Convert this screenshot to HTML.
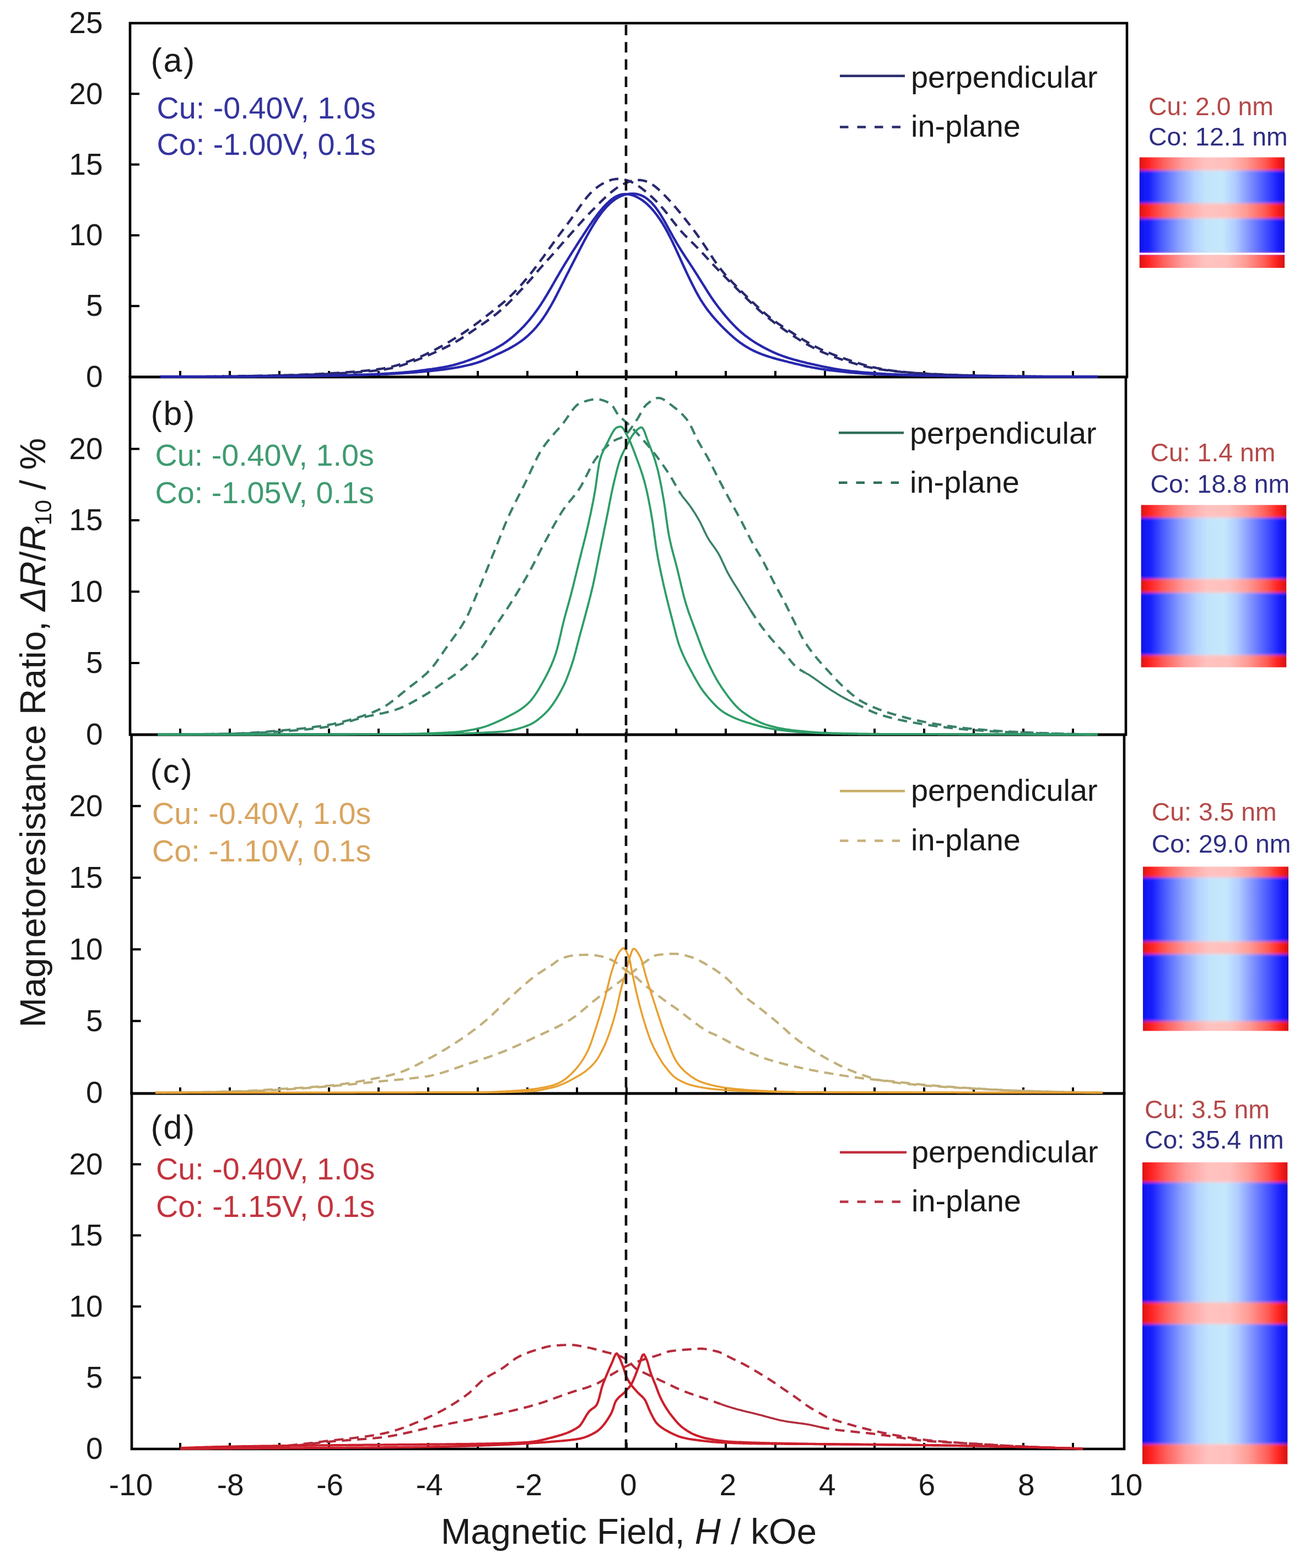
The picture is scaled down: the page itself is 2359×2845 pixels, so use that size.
<!DOCTYPE html><html><head><meta charset="utf-8"><title>MR curves</title><style>html,body{margin:0;padding:0;background:#fff;overflow:hidden}svg{display:block}</style></head><body>
<svg width="2359" height="2845" viewBox="0 0 2359 2845" font-family="Liberation Sans, Arial, Helvetica, sans-serif">
<defs>
<linearGradient id="gb" x1="0" x2="1" y1="0" y2="0"><stop offset="0" stop-color="#0e12e8"/><stop offset="0.07" stop-color="#1a22ff"/><stop offset="0.15" stop-color="#4a5cff"/><stop offset="0.27" stop-color="#8aa0ff"/><stop offset="0.38" stop-color="#b4d2ff"/><stop offset="0.46" stop-color="#c2e4fc"/><stop offset="0.57" stop-color="#c6e8fc"/><stop offset="0.66" stop-color="#b0ccff"/><stop offset="0.76" stop-color="#7e90ff"/><stop offset="0.87" stop-color="#4452ff"/><stop offset="0.95" stop-color="#1a20ff"/><stop offset="1" stop-color="#0e10d4"/></linearGradient>
<linearGradient id="gr" x1="0" x2="1" y1="0" y2="0"><stop offset="0" stop-color="#dc1414"/><stop offset="0.06" stop-color="#ff2222"/><stop offset="0.16" stop-color="#ff5e5a"/><stop offset="0.3" stop-color="#ff9e9c"/><stop offset="0.45" stop-color="#ffc2c0"/><stop offset="0.6" stop-color="#ffc0bc"/><stop offset="0.73" stop-color="#ff9c96"/><stop offset="0.86" stop-color="#ff5e56"/><stop offset="0.94" stop-color="#ff2420"/><stop offset="1" stop-color="#d41212"/></linearGradient>
<filter id="bl" x="-10%" y="-10%" width="120%" height="120%"><feGaussianBlur stdDeviation="0 2.6"/></filter>
</defs>
<rect width="2359" height="2845" fill="#fff"/>
<clipPath id="cla"><rect x="2067.5" y="285.5" width="263.8" height="200.6"/></clipPath>
<g clip-path="url(#cla)"><g filter="url(#bl)">
<rect x="2067.5" y="273.5" width="263.8" height="35.8" fill="url(#gr)"/>
<rect x="2067.5" y="309.3" width="263.8" height="59.6" fill="url(#gb)"/>
<rect x="2067.5" y="368.9" width="263.8" height="27.5" fill="url(#gr)"/>
<rect x="2067.5" y="396.4" width="263.8" height="64.1" fill="url(#gb)"/>
<rect x="2067.5" y="460.5" width="263.8" height="37.6" fill="url(#gr)"/>
</g></g>
<rect x="2067.5" y="458.6" width="263.8" height="3.7" fill="#fdfdfd"/>
<text x="2084" y="208.6" font-size="46.4" fill="#b54848">Cu: 2.0 nm</text>
<text x="2084" y="264.4" font-size="46.4" fill="#2e2e82">Co: 12.1 nm</text>
<clipPath id="clb"><rect x="2070.4" y="916.2" width="264.1" height="294.5"/></clipPath>
<g clip-path="url(#clb)"><g filter="url(#bl)">
<rect x="2070.4" y="904.2" width="264.1" height="35.1" fill="url(#gr)"/>
<rect x="2070.4" y="939.3" width="264.1" height="111.1" fill="url(#gb)"/>
<rect x="2070.4" y="1050.4" width="264.1" height="25.1" fill="url(#gr)"/>
<rect x="2070.4" y="1075.5" width="264.1" height="113.2" fill="url(#gb)"/>
<rect x="2070.4" y="1188.7" width="264.1" height="34.0" fill="url(#gr)"/>
</g></g>
<text x="2087.5" y="836.6" font-size="46.4" fill="#b54848">Cu: 1.4 nm</text>
<text x="2087.5" y="894.2" font-size="46.4" fill="#2e2e82">Co: 18.8 nm</text>
<clipPath id="clc"><rect x="2074" y="1572.4" width="264.0" height="298.0"/></clipPath>
<g clip-path="url(#clc)"><g filter="url(#bl)">
<rect x="2074" y="1560.4" width="264.0" height="31.7" fill="url(#gr)"/>
<rect x="2074" y="1592.1" width="264.0" height="116.2" fill="url(#gb)"/>
<rect x="2074" y="1708.3" width="264.0" height="23.0" fill="url(#gr)"/>
<rect x="2074" y="1731.3" width="264.0" height="121.6" fill="url(#gb)"/>
<rect x="2074" y="1852.9" width="264.0" height="29.5" fill="url(#gr)"/>
</g></g>
<text x="2089.8" y="1489.2" font-size="46.4" fill="#b54848">Cu: 3.5 nm</text>
<text x="2089.8" y="1547.2" font-size="46.4" fill="#2e2e82">Co: 29.0 nm</text>
<clipPath id="cld"><rect x="2073" y="2109.0" width="263.6" height="547.4"/></clipPath>
<g clip-path="url(#cld)"><g filter="url(#bl)">
<rect x="2073" y="2097.0" width="263.6" height="48.2" fill="url(#gr)"/>
<rect x="2073" y="2145.2" width="263.6" height="217.9" fill="url(#gb)"/>
<rect x="2073" y="2363.1" width="263.6" height="39.4" fill="url(#gr)"/>
<rect x="2073" y="2402.5" width="263.6" height="217.9" fill="url(#gb)"/>
<rect x="2073" y="2620.4" width="263.6" height="48.0" fill="url(#gr)"/>
</g></g>
<text x="2077" y="2028.9" font-size="46.4" fill="#b54848">Cu: 3.5 nm</text>
<text x="2077" y="2083.9" font-size="46.4" fill="#2e2e82">Co: 35.4 nm</text>
<rect x="236" y="42" width="1809" height="642" fill="none" stroke="#000" stroke-width="4.6"/>
<path d="M236 555.2H253M236 426.9H253M236 298.6H253M236 170.3H253M327.0 684V673M417.0 684V673M507.0 684V673M597.0 684V673M687.0 684V673M777.0 684V673M867.0 684V673M957.0 684V673M1047.0 684V673M1137.0 684V673M1227.0 684V673M1317.0 684V673M1407.0 684V673M1497.0 684V673M1587.0 684V673M1677.0 684V673M1767.0 684V673M1857.0 684V673M1947.0 684V673" stroke="#000" stroke-width="4" fill="none"/>
<text x="186.5" y="60.2" font-size="55" text-anchor="end" fill="#1a1a1a">25</text>
<text x="186.5" y="188.5" font-size="55" text-anchor="end" fill="#1a1a1a">20</text>
<text x="186.5" y="316.8" font-size="55" text-anchor="end" fill="#1a1a1a">15</text>
<text x="186.5" y="445.1" font-size="55" text-anchor="end" fill="#1a1a1a">10</text>
<text x="186.5" y="573.4" font-size="55" text-anchor="end" fill="#1a1a1a">5</text>
<text x="186.5" y="701.7" font-size="55" text-anchor="end" fill="#1a1a1a">0</text>
<rect x="236" y="684" width="1807" height="649" fill="none" stroke="#000" stroke-width="4.6"/>
<path d="M236 1203.0H253M236 1073.5H253M236 944.0H253M236 814.5H253M327.0 1333V1322M417.0 1333V1322M507.0 1333V1322M597.0 1333V1322M687.0 1333V1322M777.0 1333V1322M867.0 1333V1322M957.0 1333V1322M1047.0 1333V1322M1137.0 1333V1322M1227.0 1333V1322M1317.0 1333V1322M1407.0 1333V1322M1497.0 1333V1322M1587.0 1333V1322M1677.0 1333V1322M1767.0 1333V1322M1857.0 1333V1322M1947.0 1333V1322" stroke="#000" stroke-width="4" fill="none"/>
<text x="186.5" y="832.7" font-size="55" text-anchor="end" fill="#1a1a1a">20</text>
<text x="186.5" y="962.2" font-size="55" text-anchor="end" fill="#1a1a1a">15</text>
<text x="186.5" y="1091.7" font-size="55" text-anchor="end" fill="#1a1a1a">10</text>
<text x="186.5" y="1221.2" font-size="55" text-anchor="end" fill="#1a1a1a">5</text>
<text x="186.5" y="1350.7" font-size="55" text-anchor="end" fill="#1a1a1a">0</text>
<rect x="238.6" y="1333" width="1801.4" height="651" fill="none" stroke="#000" stroke-width="4.6"/>
<path d="M238.6 1852.5H255.6M238.6 1722.5H255.6M238.6 1592.5H255.6M238.6 1462.5H255.6M327.0 1984V1973M417.0 1984V1973M507.0 1984V1973M597.0 1984V1973M687.0 1984V1973M777.0 1984V1973M867.0 1984V1973M957.0 1984V1973M1047.0 1984V1973M1137.0 1984V1973M1227.0 1984V1973M1317.0 1984V1973M1407.0 1984V1973M1497.0 1984V1973M1587.0 1984V1973M1677.0 1984V1973M1767.0 1984V1973M1857.0 1984V1973M1947.0 1984V1973" stroke="#000" stroke-width="4" fill="none"/>
<text x="186.5" y="1480.7" font-size="55" text-anchor="end" fill="#1a1a1a">20</text>
<text x="186.5" y="1610.7" font-size="55" text-anchor="end" fill="#1a1a1a">15</text>
<text x="186.5" y="1740.7" font-size="55" text-anchor="end" fill="#1a1a1a">10</text>
<text x="186.5" y="1870.7" font-size="55" text-anchor="end" fill="#1a1a1a">5</text>
<text x="186.5" y="2000.7" font-size="55" text-anchor="end" fill="#1a1a1a">0</text>
<rect x="239" y="1984" width="1801" height="645" fill="none" stroke="#000" stroke-width="4.6"/>
<path d="M239 2499.5H256M239 2370.5H256M239 2241.5H256M239 2112.5H256M327.0 2629V2618M417.0 2629V2618M507.0 2629V2618M597.0 2629V2618M687.0 2629V2618M777.0 2629V2618M867.0 2629V2618M957.0 2629V2618M1047.0 2629V2618M1137.0 2629V2618M1227.0 2629V2618M1317.0 2629V2618M1407.0 2629V2618M1497.0 2629V2618M1587.0 2629V2618M1677.0 2629V2618M1767.0 2629V2618M1857.0 2629V2618M1947.0 2629V2618" stroke="#000" stroke-width="4" fill="none"/>
<text x="186.5" y="2130.7" font-size="55" text-anchor="end" fill="#1a1a1a">20</text>
<text x="186.5" y="2259.7" font-size="55" text-anchor="end" fill="#1a1a1a">15</text>
<text x="186.5" y="2388.7" font-size="55" text-anchor="end" fill="#1a1a1a">10</text>
<text x="186.5" y="2517.7" font-size="55" text-anchor="end" fill="#1a1a1a">5</text>
<text x="186.5" y="2646.7" font-size="55" text-anchor="end" fill="#1a1a1a">0</text>
<path d="M291.0 683.5L293.2 683.5L295.5 683.5L297.8 683.5L300.0 683.5L302.3 683.5L304.5 683.5L306.8 683.5L309.0 683.5L311.3 683.5L313.5 683.5L315.8 683.4L318.0 683.4L320.3 683.4L322.5 683.4L324.8 683.4L327.0 683.4L329.3 683.4L331.5 683.4L333.8 683.4L336.0 683.4L338.3 683.3L340.5 683.3L342.8 683.3L345.0 683.3L347.3 683.3L349.5 683.3L351.8 683.2L354.0 683.2L356.3 683.2L358.5 683.2L360.8 683.2L363.0 683.2L365.3 683.1L367.5 683.1L369.8 683.1L372.0 683.1L374.3 683.0L376.5 683.0L378.8 683.0L381.0 683.0L383.3 683.0L385.5 682.9L387.8 682.9L390.0 682.9L392.3 682.9L394.5 682.8L396.8 682.8L399.0 682.8L401.3 682.8L403.5 682.7L405.8 682.7L408.0 682.7L410.3 682.6L412.5 682.6L414.8 682.6L417.0 682.6L419.3 682.5L421.5 682.5L423.8 682.5L426.0 682.4L428.3 682.4L430.5 682.4L432.8 682.4L435.0 682.3L437.3 682.3L439.5 682.3L441.8 682.2L444.0 682.2L446.3 682.2L448.5 682.1L450.8 682.1L453.0 682.1L455.3 682.1L457.5 682.0L459.8 682.0L462.0 681.9L464.3 681.9L466.5 681.9L468.8 681.8L471.0 681.8L473.3 681.8L475.5 681.7L477.8 681.7L480.0 681.6L482.3 681.6L484.5 681.6L486.8 681.5L489.0 681.5L491.3 681.4L493.5 681.4L495.8 681.3L498.0 681.3L500.3 681.2L502.5 681.1L504.8 681.1L507.0 681.0L509.3 681.0L511.5 680.9L513.8 680.8L516.0 680.8L518.3 680.7L520.5 680.7L522.8 680.6L525.0 680.5L527.3 680.5L529.5 680.4L531.8 680.3L534.0 680.2L536.3 680.2L538.5 680.1L540.8 680.0L543.0 679.9L545.3 679.9L547.5 679.8L549.8 679.7L552.0 679.6L554.3 679.5L556.5 679.5L558.8 679.4L561.0 679.3L563.3 679.2L565.5 679.1L567.8 679.0L570.0 678.9L572.3 678.8L574.5 678.7L576.8 678.6L579.0 678.5L581.3 678.4L583.5 678.3L585.8 678.1L588.0 678.0L590.3 677.9L592.5 677.8L594.8 677.7L597.0 677.5L599.3 677.4L601.5 677.3L603.8 677.1L606.0 677.0L608.3 676.9L610.5 676.7L612.8 676.6L615.0 676.4L617.3 676.3L619.5 676.1L621.8 676.0L624.0 675.8L626.3 675.7L628.5 675.5L630.8 675.3L633.0 675.2L635.3 675.0L637.5 674.8L639.8 674.7L642.0 674.5L644.3 674.3L646.5 674.1L648.8 673.9L651.0 673.7L653.3 673.5L655.5 673.3L657.8 673.1L660.0 672.9L662.3 672.7L664.5 672.5L666.8 672.3L669.0 672.0L671.3 671.8L673.5 671.5L675.8 671.3L678.0 671.0L680.3 670.7L682.5 670.4L684.8 670.1L687.0 669.8L689.3 669.5L691.5 669.2L693.8 668.8L696.0 668.4L698.3 668.0L700.5 667.6L702.8 667.2L705.0 666.7L707.3 666.2L709.5 665.7L711.8 665.1L714.0 664.5L716.3 663.9L718.5 663.3L720.8 662.7L723.0 662.0L725.3 661.3L727.5 660.6L729.8 659.8L732.0 659.1L734.3 658.3L736.5 657.5L738.8 656.7L741.0 655.9L743.3 655.1L745.5 654.2L747.8 653.4L750.0 652.5L752.3 651.6L754.5 650.7L756.8 649.8L759.0 648.9L761.3 647.9L763.5 646.9L765.8 645.9L768.0 644.9L770.3 643.9L772.5 642.9L774.8 641.8L777.0 640.7L779.3 639.6L781.5 638.5L783.8 637.4L786.0 636.2L788.3 635.1L790.5 633.9L792.8 632.7L795.0 631.5L797.3 630.3L799.5 629.1L801.8 627.9L804.0 626.6L806.3 625.3L808.5 624.1L810.8 622.8L813.0 621.4L815.3 620.1L817.5 618.8L819.8 617.4L822.0 616.0L824.3 614.6L826.5 613.2L828.8 611.8L831.0 610.4L833.3 609.0L835.5 607.5L837.8 606.1L840.0 604.6L842.3 603.1L844.5 601.6L846.8 600.1L849.0 598.5L851.3 597.0L853.5 595.4L855.8 593.7L858.0 592.1L860.3 590.5L862.5 588.8L864.8 587.1L867.0 585.4L869.3 583.7L871.5 582.0L873.8 580.2L876.0 578.5L878.3 576.8L880.5 575.0L882.8 573.3L885.0 571.6L887.3 569.8L889.5 568.1L891.8 566.3L894.0 564.6L896.3 562.8L898.5 561.0L900.8 559.2L903.0 557.4L905.3 555.6L907.5 553.8L909.8 551.9L912.0 550.0L914.3 548.1L916.5 546.1L918.8 544.1L921.0 542.1L923.3 540.0L925.5 537.9L927.8 535.7L930.0 533.5L932.3 531.3L934.5 529.0L936.8 526.7L939.0 524.3L941.3 521.9L943.5 519.4L945.8 516.9L948.0 514.3L950.3 511.7L952.5 509.0L954.8 506.4L957.0 503.7L959.3 500.9L961.5 498.1L963.8 495.3L966.0 492.5L968.3 489.6L970.5 486.7L972.8 483.8L975.0 480.9L977.3 477.9L979.5 474.9L981.8 471.8L984.0 468.8L986.3 465.7L988.5 462.6L990.8 459.5L993.0 456.3L995.3 453.2L997.5 450.0L999.8 446.9L1002.0 443.7L1004.3 440.6L1006.5 437.5L1008.8 434.4L1011.0 431.4L1013.3 428.3L1015.5 425.3L1017.8 422.3L1020.0 419.3L1022.3 416.3L1024.5 413.3L1026.8 410.3L1029.0 407.3L1031.3 404.3L1033.5 401.2L1035.8 398.2L1038.0 395.1L1040.3 391.9L1042.5 388.8L1044.8 385.6L1047.0 382.4L1049.3 379.2L1051.5 375.9L1053.8 372.8L1056.0 369.6L1058.3 366.5L1060.5 363.5L1062.8 360.6L1065.0 357.8L1067.3 355.1L1069.5 352.6L1071.8 350.2L1074.0 347.9L1076.3 345.8L1078.5 343.8L1080.8 341.9L1083.0 340.2L1085.3 338.5L1087.5 337.0L1089.8 335.5L1092.0 334.1L1094.3 332.8L1096.5 331.6L1098.8 330.4L1101.0 329.4L1103.3 328.4L1105.5 327.6L1107.8 326.8L1110.0 326.2L1112.3 325.7L1114.5 325.3L1116.8 324.9L1119.0 324.7L1121.3 324.6L1123.5 324.7L1125.8 324.8L1128.0 325.0L1130.3 325.3L1132.5 325.7L1134.8 326.3L1137.0 326.9L1139.3 327.6L1141.5 328.4L1143.8 329.3L1146.0 330.3L1148.3 331.4L1150.5 332.6L1152.8 333.9L1155.0 335.3L1157.3 336.7L1159.5 338.2L1161.8 339.8L1164.0 341.5L1166.3 343.2L1168.5 345.0L1170.8 346.8L1173.0 348.7L1175.3 350.6L1177.5 352.6L1179.8 354.6L1182.0 356.6L1184.3 358.7L1186.5 360.8L1188.8 363.0L1191.0 365.3L1193.3 367.6L1195.5 369.9L1197.8 372.4L1200.0 374.9L1202.3 377.5L1204.5 380.2L1206.8 382.9L1209.0 385.7L1211.3 388.5L1213.5 391.4L1215.8 394.3L1218.0 397.2L1220.3 400.1L1222.5 403.0L1224.8 405.8L1227.0 408.7L1229.3 411.4L1231.5 414.2L1233.8 416.8L1236.0 419.4L1238.3 421.9L1240.5 424.4L1242.8 426.8L1245.0 429.1L1247.3 431.4L1249.5 433.6L1251.8 435.9L1254.0 438.1L1256.3 440.3L1258.5 442.5L1260.8 444.8L1263.0 447.0L1265.3 449.3L1267.5 451.6L1269.8 454.0L1272.0 456.4L1274.3 458.7L1276.5 461.1L1278.8 463.6L1281.0 466.0L1283.3 468.4L1285.5 470.8L1287.8 473.3L1290.0 475.7L1292.3 478.1L1294.5 480.5L1296.8 482.9L1299.0 485.3L1301.3 487.6L1303.5 490.0L1305.8 492.3L1308.0 494.6L1310.3 496.9L1312.5 499.2L1314.8 501.5L1317.0 503.7L1319.3 506.0L1321.5 508.3L1323.8 510.5L1326.0 512.8L1328.3 515.0L1330.5 517.3L1332.8 519.5L1335.0 521.8L1337.3 524.1L1339.5 526.3L1341.8 528.6L1344.0 530.8L1346.3 533.0L1348.5 535.3L1350.8 537.5L1353.0 539.7L1355.3 541.9L1357.5 544.1L1359.8 546.3L1362.0 548.4L1364.3 550.6L1366.5 552.7L1368.8 554.8L1371.0 556.9L1373.3 559.0L1375.5 561.0L1377.8 563.0L1380.0 565.0L1382.3 566.9L1384.5 568.9L1386.8 570.8L1389.0 572.6L1391.3 574.5L1393.5 576.3L1395.8 578.1L1398.0 579.8L1400.3 581.6L1402.5 583.3L1404.8 585.0L1407.0 586.7L1409.3 588.3L1411.5 590.0L1413.8 591.6L1416.0 593.3L1418.3 594.9L1420.5 596.5L1422.8 598.1L1425.0 599.6L1427.3 601.2L1429.5 602.7L1431.8 604.3L1434.0 605.8L1436.3 607.3L1438.5 608.8L1440.8 610.2L1443.0 611.7L1445.3 613.1L1447.5 614.5L1449.8 616.0L1452.0 617.3L1454.3 618.7L1456.5 620.0L1458.8 621.4L1461.0 622.7L1463.3 624.0L1465.5 625.2L1467.8 626.5L1470.0 627.7L1472.3 628.9L1474.5 630.1L1476.8 631.3L1479.0 632.4L1481.3 633.6L1483.5 634.7L1485.8 635.8L1488.0 636.8L1490.3 637.9L1492.5 638.9L1494.8 639.9L1497.0 640.8L1499.3 641.8L1501.5 642.7L1503.8 643.6L1506.0 644.5L1508.3 645.4L1510.5 646.3L1512.8 647.1L1515.0 647.9L1517.3 648.7L1519.5 649.5L1521.8 650.3L1524.0 651.1L1526.3 651.8L1528.5 652.6L1530.8 653.3L1533.0 654.1L1535.3 654.8L1537.5 655.5L1539.8 656.2L1542.0 656.9L1544.3 657.6L1546.5 658.3L1548.8 659.0L1551.0 659.7L1553.3 660.3L1555.5 661.0L1557.8 661.6L1560.0 662.2L1562.3 662.8L1564.5 663.4L1566.8 664.0L1569.0 664.5L1571.3 665.1L1573.5 665.6L1575.8 666.1L1578.0 666.6L1580.3 667.0L1582.5 667.5L1584.8 667.9L1587.0 668.3L1589.3 668.7L1591.5 669.1L1593.8 669.5L1596.0 669.9L1598.3 670.2L1600.5 670.6L1602.8 670.9L1605.0 671.2L1607.3 671.5L1609.5 671.9L1611.8 672.1L1614.0 672.4L1616.3 672.7L1618.5 673.0L1620.8 673.2L1623.0 673.5L1625.3 673.7L1627.5 674.0L1629.8 674.2L1632.0 674.4L1634.3 674.6L1636.5 674.9L1638.8 675.1L1641.0 675.3L1643.3 675.4L1645.5 675.6L1647.8 675.8L1650.0 676.0L1652.3 676.2L1654.5 676.4L1656.8 676.5L1659.0 676.7L1661.3 676.9L1663.5 677.0L1665.8 677.2L1668.0 677.3L1670.3 677.5L1672.5 677.6L1674.8 677.8L1677.0 677.9L1679.3 678.1L1681.5 678.2L1683.8 678.3L1686.0 678.5L1688.3 678.6L1690.5 678.7L1692.8 678.9L1695.0 679.0L1697.3 679.1L1699.5 679.2L1701.8 679.3L1704.0 679.4L1706.3 679.5L1708.5 679.6L1710.8 679.7L1713.0 679.8L1715.3 679.9L1717.5 680.0L1719.8 680.1L1722.0 680.1L1724.3 680.2L1726.5 680.3L1728.8 680.4L1731.0 680.4L1733.3 680.5L1735.5 680.6L1737.8 680.6L1740.0 680.7L1742.3 680.8L1744.5 680.8L1746.8 680.9L1749.0 681.0L1751.3 681.0L1753.5 681.1L1755.8 681.1L1758.0 681.2L1760.3 681.3L1762.5 681.3L1764.8 681.4L1767.0 681.4L1769.3 681.5L1771.5 681.5L1773.8 681.6L1776.0 681.6L1778.3 681.7L1780.5 681.7L1782.8 681.8L1785.0 681.8L1787.3 681.8L1789.5 681.9L1791.8 681.9L1794.0 681.9L1796.3 682.0L1798.5 682.0L1800.8 682.1L1803.0 682.1L1805.3 682.1L1807.5 682.1L1809.8 682.2L1812.0 682.2L1814.3 682.2L1816.5 682.3L1818.8 682.3L1821.0 682.3L1823.3 682.3L1825.5 682.4L1827.8 682.4L1830.0 682.4L1832.3 682.4L1834.5 682.5L1836.8 682.5L1839.0 682.5L1841.3 682.5L1843.5 682.6L1845.8 682.6L1848.0 682.6L1850.3 682.6L1852.5 682.7L1854.8 682.7L1857.0 682.7L1859.3 682.7L1861.5 682.8L1863.8 682.8L1866.0 682.8L1868.3 682.8L1870.5 682.8L1872.8 682.9L1875.0 682.9L1877.3 682.9L1879.5 682.9L1881.8 682.9L1884.0 683.0L1886.3 683.0L1888.5 683.0L1890.8 683.0L1893.0 683.0L1895.3 683.1L1897.5 683.1L1899.8 683.1L1902.0 683.1L1904.3 683.1L1906.5 683.1L1908.8 683.2L1911.0 683.2L1913.3 683.2L1915.5 683.2L1917.8 683.2L1920.0 683.2L1922.3 683.3L1924.5 683.3L1926.8 683.3L1929.0 683.3L1931.3 683.3L1933.5 683.3L1935.8 683.3L1938.0 683.3L1940.3 683.4L1942.5 683.4L1944.8 683.4L1947.0 683.4L1949.3 683.4L1951.5 683.4L1953.8 683.4L1956.0 683.4L1958.3 683.4L1960.5 683.4L1962.8 683.4L1965.0 683.5L1967.3 683.5L1969.5 683.5L1971.8 683.5L1974.0 683.5L1976.3 683.5L1978.5 683.5L1980.8 683.5L1983.0 683.5L1985.3 683.5L1987.5 683.5L1989.8 683.5L1992.0 683.5" fill="none" stroke="#29296f" stroke-width="4.4" stroke-dasharray="17 11" stroke-dashoffset="0" stroke-linejoin="round"/>
<path d="M291.0 683.5L293.2 683.5L295.5 683.5L297.8 683.5L300.0 683.5L302.3 683.5L304.5 683.5L306.8 683.5L309.0 683.5L311.3 683.5L313.5 683.5L315.8 683.5L318.0 683.4L320.3 683.4L322.5 683.4L324.8 683.4L327.0 683.4L329.3 683.4L331.5 683.4L333.8 683.4L336.0 683.4L338.3 683.4L340.5 683.4L342.8 683.3L345.0 683.3L347.3 683.3L349.5 683.3L351.8 683.3L354.0 683.3L356.3 683.3L358.5 683.2L360.8 683.2L363.0 683.2L365.3 683.2L367.5 683.2L369.8 683.2L372.0 683.1L374.3 683.1L376.5 683.1L378.8 683.1L381.0 683.1L383.3 683.1L385.5 683.0L387.8 683.0L390.0 683.0L392.3 683.0L394.5 682.9L396.8 682.9L399.0 682.9L401.3 682.9L403.5 682.9L405.8 682.8L408.0 682.8L410.3 682.8L412.5 682.8L414.8 682.7L417.0 682.7L419.3 682.7L421.5 682.7L423.8 682.7L426.0 682.6L428.3 682.6L430.5 682.6L432.8 682.6L435.0 682.5L437.3 682.5L439.5 682.5L441.8 682.5L444.0 682.4L446.3 682.4L448.5 682.4L450.8 682.3L453.0 682.3L455.3 682.3L457.5 682.3L459.8 682.2L462.0 682.2L464.3 682.2L466.5 682.1L468.8 682.1L471.0 682.1L473.3 682.0L475.5 682.0L477.8 682.0L480.0 681.9L482.3 681.9L484.5 681.9L486.8 681.8L489.0 681.8L491.3 681.7L493.5 681.7L495.8 681.6L498.0 681.6L500.3 681.5L502.5 681.5L504.8 681.4L507.0 681.4L509.3 681.3L511.5 681.3L513.8 681.2L516.0 681.2L518.3 681.1L520.5 681.1L522.8 681.0L525.0 680.9L527.3 680.9L529.5 680.8L531.8 680.8L534.0 680.7L536.3 680.6L538.5 680.6L540.8 680.5L543.0 680.4L545.3 680.4L547.5 680.3L549.8 680.2L552.0 680.1L554.3 680.1L556.5 680.0L558.8 679.9L561.0 679.8L563.3 679.8L565.5 679.7L567.8 679.6L570.0 679.5L572.3 679.4L574.5 679.3L576.8 679.3L579.0 679.2L581.3 679.1L583.5 679.0L585.8 678.9L588.0 678.8L590.3 678.7L592.5 678.6L594.8 678.5L597.0 678.4L599.3 678.3L601.5 678.1L603.8 678.0L606.0 677.9L608.3 677.8L610.5 677.7L612.8 677.6L615.0 677.4L617.3 677.3L619.5 677.2L621.8 677.0L624.0 676.9L626.3 676.8L628.5 676.6L630.8 676.5L633.0 676.4L635.3 676.2L637.5 676.1L639.8 675.9L642.0 675.8L644.3 675.6L646.5 675.5L648.8 675.3L651.0 675.1L653.3 675.0L655.5 674.8L657.8 674.6L660.0 674.4L662.3 674.2L664.5 674.0L666.8 673.8L669.0 673.6L671.3 673.4L673.5 673.2L675.8 673.0L678.0 672.7L680.3 672.5L682.5 672.2L684.8 672.0L687.0 671.7L689.3 671.4L691.5 671.1L693.8 670.8L696.0 670.5L698.3 670.2L700.5 669.8L702.8 669.4L705.0 669.0L707.3 668.6L709.5 668.1L711.8 667.6L714.0 667.1L716.3 666.6L718.5 666.0L720.8 665.4L723.0 664.7L725.3 664.1L727.5 663.4L729.8 662.7L732.0 661.9L734.3 661.2L736.5 660.4L738.8 659.6L741.0 658.9L743.3 658.0L745.5 657.2L747.8 656.4L750.0 655.6L752.3 654.7L754.5 653.9L756.8 653.0L759.0 652.2L761.3 651.3L763.5 650.4L765.8 649.5L768.0 648.6L770.3 647.6L772.5 646.7L774.8 645.7L777.0 644.8L779.3 643.8L781.5 642.8L783.8 641.8L786.0 640.8L788.3 639.8L790.5 638.8L792.8 637.8L795.0 636.7L797.3 635.7L799.5 634.6L801.8 633.6L804.0 632.5L806.3 631.4L808.5 630.3L810.8 629.2L813.0 628.0L815.3 626.9L817.5 625.7L819.8 624.4L822.0 623.2L824.3 621.9L826.5 620.6L828.8 619.2L831.0 617.9L833.3 616.5L835.5 615.1L837.8 613.6L840.0 612.1L842.3 610.7L844.5 609.2L846.8 607.7L849.0 606.2L851.3 604.7L853.5 603.1L855.8 601.6L858.0 600.1L860.3 598.5L862.5 597.0L864.8 595.5L867.0 593.9L869.3 592.4L871.5 590.8L873.8 589.3L876.0 587.7L878.3 586.2L880.5 584.6L882.8 583.0L885.0 581.4L887.3 579.8L889.5 578.2L891.8 576.5L894.0 574.8L896.3 573.1L898.5 571.3L900.8 569.5L903.0 567.7L905.3 565.8L907.5 563.9L909.8 562.0L912.0 560.0L914.3 557.9L916.5 555.9L918.8 553.7L921.0 551.6L923.3 549.3L925.5 547.1L927.8 544.8L930.0 542.5L932.3 540.2L934.5 537.8L936.8 535.4L939.0 533.0L941.3 530.6L943.5 528.2L945.8 525.8L948.0 523.4L950.3 521.0L952.5 518.5L954.8 516.1L957.0 513.6L959.3 511.1L961.5 508.5L963.8 506.0L966.0 503.4L968.3 500.8L970.5 498.1L972.8 495.5L975.0 492.9L977.3 490.3L979.5 487.7L981.8 485.1L984.0 482.6L986.3 480.1L988.5 477.6L990.8 475.1L993.0 472.6L995.3 470.1L997.5 467.6L999.8 465.1L1002.0 462.6L1004.3 460.1L1006.5 457.5L1008.8 455.0L1011.0 452.4L1013.3 449.8L1015.5 447.2L1017.8 444.7L1020.0 442.1L1022.3 439.6L1024.5 437.0L1026.8 434.5L1029.0 431.9L1031.3 429.4L1033.5 426.8L1035.8 424.3L1038.0 421.7L1040.3 419.2L1042.5 416.6L1044.8 414.1L1047.0 411.5L1049.3 409.0L1051.5 406.5L1053.8 404.0L1056.0 401.5L1058.3 399.0L1060.5 396.6L1062.8 394.2L1065.0 391.8L1067.3 389.4L1069.5 387.1L1071.8 384.8L1074.0 382.5L1076.3 380.2L1078.5 377.9L1080.8 375.6L1083.0 373.3L1085.3 371.0L1087.5 368.8L1089.8 366.5L1092.0 364.3L1094.3 362.1L1096.5 360.0L1098.8 357.8L1101.0 355.8L1103.3 353.7L1105.5 351.8L1107.8 349.8L1110.0 348.0L1112.3 346.2L1114.5 344.5L1116.8 342.8L1119.0 341.2L1121.3 339.7L1123.5 338.3L1125.8 336.9L1128.0 335.7L1130.3 334.5L1132.5 333.4L1134.8 332.3L1137.0 331.4L1139.3 330.5L1141.5 329.7L1143.8 329.0L1146.0 328.4L1148.3 327.9L1150.5 327.5L1152.8 327.1L1155.0 326.9L1157.3 326.8L1159.5 326.7L1161.8 326.8L1164.0 327.1L1166.3 327.4L1168.5 327.9L1170.8 328.5L1173.0 329.3L1175.3 330.2L1177.5 331.3L1179.8 332.5L1182.0 333.8L1184.3 335.2L1186.5 336.8L1188.8 338.5L1191.0 340.3L1193.3 342.2L1195.5 344.2L1197.8 346.3L1200.0 348.4L1202.3 350.6L1204.5 352.9L1206.8 355.2L1209.0 357.5L1211.3 359.9L1213.5 362.3L1215.8 364.8L1218.0 367.3L1220.3 369.8L1222.5 372.4L1224.8 375.0L1227.0 377.6L1229.3 380.3L1231.5 383.0L1233.8 385.7L1236.0 388.5L1238.3 391.2L1240.5 394.0L1242.8 396.8L1245.0 399.7L1247.3 402.5L1249.5 405.4L1251.8 408.2L1254.0 411.2L1256.3 414.1L1258.5 417.1L1260.8 420.1L1263.0 423.1L1265.3 426.2L1267.5 429.4L1269.8 432.6L1272.0 435.8L1274.3 439.1L1276.5 442.5L1278.8 445.9L1281.0 449.3L1283.3 452.8L1285.5 456.2L1287.8 459.7L1290.0 463.1L1292.3 466.5L1294.5 469.9L1296.8 473.2L1299.0 476.4L1301.3 479.6L1303.5 482.6L1305.8 485.6L1308.0 488.5L1310.3 491.3L1312.5 494.1L1314.8 496.7L1317.0 499.3L1319.3 501.9L1321.5 504.3L1323.8 506.7L1326.0 509.1L1328.3 511.5L1330.5 513.8L1332.8 516.1L1335.0 518.3L1337.3 520.6L1339.5 522.8L1341.8 525.1L1344.0 527.3L1346.3 529.6L1348.5 531.8L1350.8 534.0L1353.0 536.2L1355.3 538.4L1357.5 540.6L1359.8 542.7L1362.0 544.9L1364.3 547.0L1366.5 549.1L1368.8 551.2L1371.0 553.3L1373.3 555.4L1375.5 557.4L1377.8 559.5L1380.0 561.5L1382.3 563.5L1384.5 565.5L1386.8 567.4L1389.0 569.4L1391.3 571.3L1393.5 573.2L1395.8 575.0L1398.0 576.8L1400.3 578.6L1402.5 580.3L1404.8 582.0L1407.0 583.6L1409.3 585.2L1411.5 586.8L1413.8 588.3L1416.0 589.8L1418.3 591.3L1420.5 592.8L1422.8 594.2L1425.0 595.7L1427.3 597.1L1429.5 598.6L1431.8 600.0L1434.0 601.5L1436.3 602.9L1438.5 604.4L1440.8 605.9L1443.0 607.3L1445.3 608.8L1447.5 610.2L1449.8 611.6L1452.0 613.1L1454.3 614.5L1456.5 615.8L1458.8 617.2L1461.0 618.6L1463.3 619.9L1465.5 621.2L1467.8 622.5L1470.0 623.8L1472.3 625.0L1474.5 626.3L1476.8 627.5L1479.0 628.6L1481.3 629.8L1483.5 630.9L1485.8 632.0L1488.0 633.1L1490.3 634.2L1492.5 635.2L1494.8 636.2L1497.0 637.2L1499.3 638.1L1501.5 639.1L1503.8 640.0L1506.0 640.9L1508.3 641.8L1510.5 642.7L1512.8 643.6L1515.0 644.4L1517.3 645.3L1519.5 646.1L1521.8 646.9L1524.0 647.7L1526.3 648.5L1528.5 649.3L1530.8 650.1L1533.0 650.9L1535.3 651.7L1537.5 652.4L1539.8 653.2L1542.0 653.9L1544.3 654.7L1546.5 655.4L1548.8 656.2L1551.0 656.9L1553.3 657.6L1555.5 658.3L1557.8 659.0L1560.0 659.7L1562.3 660.4L1564.5 661.1L1566.8 661.7L1569.0 662.4L1571.3 663.0L1573.5 663.6L1575.8 664.2L1578.0 664.7L1580.3 665.3L1582.5 665.8L1584.8 666.3L1587.0 666.8L1589.3 667.3L1591.5 667.8L1593.8 668.2L1596.0 668.7L1598.3 669.1L1600.5 669.5L1602.8 670.0L1605.0 670.3L1607.3 670.7L1609.5 671.1L1611.8 671.5L1614.0 671.8L1616.3 672.1L1618.5 672.5L1620.8 672.8L1623.0 673.1L1625.3 673.3L1627.5 673.6L1629.8 673.9L1632.0 674.1L1634.3 674.4L1636.5 674.6L1638.8 674.8L1641.0 675.0L1643.3 675.2L1645.5 675.4L1647.8 675.6L1650.0 675.8L1652.3 676.0L1654.5 676.1L1656.8 676.3L1659.0 676.5L1661.3 676.6L1663.5 676.8L1665.8 677.0L1668.0 677.1L1670.3 677.3L1672.5 677.4L1674.8 677.6L1677.0 677.7L1679.3 677.8L1681.5 678.0L1683.8 678.1L1686.0 678.2L1688.3 678.4L1690.5 678.5L1692.8 678.6L1695.0 678.7L1697.3 678.8L1699.5 678.9L1701.8 679.0L1704.0 679.1L1706.3 679.2L1708.5 679.3L1710.8 679.4L1713.0 679.5L1715.3 679.6L1717.5 679.7L1719.8 679.8L1722.0 679.9L1724.3 680.0L1726.5 680.1L1728.8 680.1L1731.0 680.2L1733.3 680.3L1735.5 680.4L1737.8 680.4L1740.0 680.5L1742.3 680.6L1744.5 680.7L1746.8 680.7L1749.0 680.8L1751.3 680.9L1753.5 680.9L1755.8 681.0L1758.0 681.1L1760.3 681.1L1762.5 681.2L1764.8 681.3L1767.0 681.3L1769.3 681.4L1771.5 681.4L1773.8 681.5L1776.0 681.5L1778.3 681.6L1780.5 681.6L1782.8 681.7L1785.0 681.7L1787.3 681.8L1789.5 681.8L1791.8 681.9L1794.0 681.9L1796.3 682.0L1798.5 682.0L1800.8 682.0L1803.0 682.1L1805.3 682.1L1807.5 682.1L1809.8 682.2L1812.0 682.2L1814.3 682.2L1816.5 682.3L1818.8 682.3L1821.0 682.3L1823.3 682.3L1825.5 682.4L1827.8 682.4L1830.0 682.4L1832.3 682.4L1834.5 682.5L1836.8 682.5L1839.0 682.5L1841.3 682.5L1843.5 682.6L1845.8 682.6L1848.0 682.6L1850.3 682.6L1852.5 682.7L1854.8 682.7L1857.0 682.7L1859.3 682.7L1861.5 682.8L1863.8 682.8L1866.0 682.8L1868.3 682.8L1870.5 682.8L1872.8 682.9L1875.0 682.9L1877.3 682.9L1879.5 682.9L1881.8 683.0L1884.0 683.0L1886.3 683.0L1888.5 683.0L1890.8 683.0L1893.0 683.1L1895.3 683.1L1897.5 683.1L1899.8 683.1L1902.0 683.1L1904.3 683.1L1906.5 683.2L1908.8 683.2L1911.0 683.2L1913.3 683.2L1915.5 683.2L1917.8 683.2L1920.0 683.2L1922.3 683.3L1924.5 683.3L1926.8 683.3L1929.0 683.3L1931.3 683.3L1933.5 683.3L1935.8 683.3L1938.0 683.4L1940.3 683.4L1942.5 683.4L1944.8 683.4L1947.0 683.4L1949.3 683.4L1951.5 683.4L1953.8 683.4L1956.0 683.4L1958.3 683.4L1960.5 683.4L1962.8 683.5L1965.0 683.5L1967.3 683.5L1969.5 683.5L1971.8 683.5L1974.0 683.5L1976.3 683.5L1978.5 683.5L1980.8 683.5L1983.0 683.5L1985.3 683.5L1987.5 683.5L1989.8 683.5L1992.0 683.5" fill="none" stroke="#29296f" stroke-width="4.4" stroke-dasharray="17 11" stroke-dashoffset="14" stroke-linejoin="round"/>
<path d="M291.0 683.5L293.2 683.5L295.5 683.5L297.8 683.5L300.0 683.5L302.3 683.5L304.5 683.5L306.8 683.5L309.0 683.5L311.3 683.5L313.5 683.5L315.8 683.5L318.0 683.5L320.3 683.5L322.5 683.5L324.8 683.5L327.0 683.5L329.3 683.5L331.5 683.5L333.8 683.5L336.0 683.5L338.3 683.5L340.5 683.4L342.8 683.4L345.0 683.4L347.3 683.4L349.5 683.4L351.8 683.4L354.0 683.4L356.3 683.4L358.5 683.4L360.8 683.4L363.0 683.4L365.3 683.4L367.5 683.4L369.8 683.4L372.0 683.4L374.3 683.4L376.5 683.4L378.8 683.4L381.0 683.3L383.3 683.3L385.5 683.3L387.8 683.3L390.0 683.3L392.3 683.3L394.5 683.3L396.8 683.3L399.0 683.3L401.3 683.3L403.5 683.3L405.8 683.3L408.0 683.2L410.3 683.2L412.5 683.2L414.8 683.2L417.0 683.2L419.3 683.2L421.5 683.2L423.8 683.2L426.0 683.2L428.3 683.2L430.5 683.1L432.8 683.1L435.0 683.1L437.3 683.1L439.5 683.1L441.8 683.1L444.0 683.1L446.3 683.1L448.5 683.1L450.8 683.0L453.0 683.0L455.3 683.0L457.5 683.0L459.8 683.0L462.0 683.0L464.3 683.0L466.5 683.0L468.8 683.0L471.0 682.9L473.3 682.9L475.5 682.9L477.8 682.9L480.0 682.9L482.3 682.9L484.5 682.9L486.8 682.9L489.0 682.8L491.3 682.8L493.5 682.8L495.8 682.8L498.0 682.8L500.3 682.8L502.5 682.8L504.8 682.7L507.0 682.7L509.3 682.7L511.5 682.7L513.8 682.7L516.0 682.7L518.3 682.6L520.5 682.6L522.8 682.6L525.0 682.6L527.3 682.6L529.5 682.5L531.8 682.5L534.0 682.5L536.3 682.5L538.5 682.4L540.8 682.4L543.0 682.4L545.3 682.4L547.5 682.3L549.8 682.3L552.0 682.3L554.3 682.2L556.5 682.2L558.8 682.2L561.0 682.1L563.3 682.1L565.5 682.1L567.8 682.0L570.0 682.0L572.3 681.9L574.5 681.9L576.8 681.9L579.0 681.8L581.3 681.8L583.5 681.7L585.8 681.7L588.0 681.7L590.3 681.6L592.5 681.6L594.8 681.5L597.0 681.5L599.3 681.4L601.5 681.4L603.8 681.3L606.0 681.3L608.3 681.2L610.5 681.2L612.8 681.1L615.0 681.1L617.3 681.0L619.5 681.0L621.8 680.9L624.0 680.9L626.3 680.8L628.5 680.8L630.8 680.7L633.0 680.6L635.3 680.6L637.5 680.5L639.8 680.5L642.0 680.4L644.3 680.3L646.5 680.3L648.8 680.2L651.0 680.1L653.3 680.0L655.5 680.0L657.8 679.9L660.0 679.8L662.3 679.7L664.5 679.6L666.8 679.5L669.0 679.5L671.3 679.4L673.5 679.3L675.8 679.2L678.0 679.1L680.3 679.0L682.5 678.8L684.8 678.7L687.0 678.6L689.3 678.5L691.5 678.4L693.8 678.3L696.0 678.1L698.3 678.0L700.5 677.9L702.8 677.7L705.0 677.6L707.3 677.5L709.5 677.3L711.8 677.2L714.0 677.0L716.3 676.9L718.5 676.7L720.8 676.6L723.0 676.4L725.3 676.2L727.5 676.1L729.8 675.9L732.0 675.7L734.3 675.5L736.5 675.3L738.8 675.1L741.0 674.9L743.3 674.7L745.5 674.4L747.8 674.2L750.0 673.9L752.3 673.7L754.5 673.4L756.8 673.2L759.0 672.9L761.3 672.6L763.5 672.3L765.8 672.0L768.0 671.7L770.3 671.4L772.5 671.1L774.8 670.8L777.0 670.5L779.3 670.2L781.5 669.9L783.8 669.6L786.0 669.2L788.3 668.9L790.5 668.6L792.8 668.2L795.0 667.9L797.3 667.5L799.5 667.1L801.8 666.8L804.0 666.4L806.3 666.0L808.5 665.5L810.8 665.1L813.0 664.6L815.3 664.1L817.5 663.6L819.8 663.1L822.0 662.6L824.3 662.0L826.5 661.4L828.8 660.7L831.0 660.1L833.3 659.4L835.5 658.7L837.8 658.0L840.0 657.3L842.3 656.6L844.5 655.8L846.8 655.0L849.0 654.2L851.3 653.4L853.5 652.6L855.8 651.8L858.0 650.9L860.3 650.1L862.5 649.2L864.8 648.3L867.0 647.4L869.3 646.5L871.5 645.5L873.8 644.6L876.0 643.6L878.3 642.6L880.5 641.6L882.8 640.6L885.0 639.5L887.3 638.5L889.5 637.4L891.8 636.3L894.0 635.1L896.3 634.0L898.5 632.8L900.8 631.5L903.0 630.2L905.3 628.9L907.5 627.6L909.8 626.2L912.0 624.8L914.3 623.3L916.5 621.7L918.8 620.1L921.0 618.5L923.3 616.8L925.5 615.0L927.8 613.2L930.0 611.4L932.3 609.5L934.5 607.5L936.8 605.4L939.0 603.4L941.3 601.2L943.5 599.0L945.8 596.8L948.0 594.5L950.3 592.2L952.5 589.7L954.8 587.3L957.0 584.7L959.3 582.1L961.5 579.5L963.8 576.7L966.0 573.9L968.3 571.0L970.5 568.0L972.8 564.9L975.0 561.8L977.3 558.6L979.5 555.3L981.8 551.9L984.0 548.4L986.3 544.9L988.5 541.2L990.8 537.5L993.0 533.8L995.3 530.0L997.5 526.2L999.8 522.3L1002.0 518.4L1004.3 514.5L1006.5 510.5L1008.8 506.6L1011.0 502.7L1013.3 498.9L1015.5 495.0L1017.8 491.2L1020.0 487.4L1022.3 483.7L1024.5 479.9L1026.8 476.2L1029.0 472.6L1031.3 469.0L1033.5 465.4L1035.8 461.8L1038.0 458.2L1040.3 454.6L1042.5 451.1L1044.8 447.6L1047.0 444.0L1049.3 440.5L1051.5 437.0L1053.8 433.5L1056.0 430.1L1058.3 426.6L1060.5 423.2L1062.8 419.7L1065.0 416.3L1067.3 413.0L1069.5 409.6L1071.8 406.4L1074.0 403.1L1076.3 399.9L1078.5 396.8L1080.8 393.7L1083.0 390.7L1085.3 387.7L1087.5 384.8L1089.8 382.1L1092.0 379.4L1094.3 376.8L1096.5 374.3L1098.8 371.9L1101.0 369.6L1103.3 367.5L1105.5 365.4L1107.8 363.5L1110.0 361.7L1112.3 360.0L1114.5 358.5L1116.8 357.1L1119.0 355.9L1121.3 354.9L1123.5 354.0L1125.8 353.3L1128.0 352.7L1130.3 352.4L1132.5 352.2L1134.8 352.1L1137.0 352.2L1139.3 352.4L1141.5 352.8L1143.8 353.2L1146.0 353.8L1148.3 354.5L1150.5 355.3L1152.8 356.2L1155.0 357.2L1157.3 358.3L1159.5 359.6L1161.8 360.9L1164.0 362.3L1166.3 363.9L1168.5 365.6L1170.8 367.3L1173.0 369.2L1175.3 371.3L1177.5 373.4L1179.8 375.7L1182.0 378.1L1184.3 380.7L1186.5 383.3L1188.8 386.1L1191.0 389.0L1193.3 392.1L1195.5 395.2L1197.8 398.5L1200.0 402.0L1202.3 405.5L1204.5 409.3L1206.8 413.1L1209.0 417.1L1211.3 421.2L1213.5 425.5L1215.8 429.9L1218.0 434.4L1220.3 439.0L1222.5 443.7L1224.8 448.5L1227.0 453.4L1229.3 458.3L1231.5 463.2L1233.8 468.2L1236.0 473.1L1238.3 478.0L1240.5 482.9L1242.8 487.8L1245.0 492.6L1247.3 497.4L1249.5 502.1L1251.8 506.7L1254.0 511.3L1256.3 515.9L1258.5 520.3L1260.8 524.7L1263.0 529.0L1265.3 533.1L1267.5 537.1L1269.8 541.0L1272.0 544.8L1274.3 548.3L1276.5 551.8L1278.8 555.1L1281.0 558.3L1283.3 561.4L1285.5 564.4L1287.8 567.2L1290.0 570.0L1292.3 572.7L1294.5 575.4L1296.8 578.0L1299.0 580.5L1301.3 583.0L1303.5 585.4L1305.8 587.8L1308.0 590.2L1310.3 592.5L1312.5 594.8L1314.8 597.0L1317.0 599.2L1319.3 601.4L1321.5 603.5L1323.8 605.6L1326.0 607.7L1328.3 609.7L1330.5 611.7L1332.8 613.6L1335.0 615.5L1337.3 617.3L1339.5 619.0L1341.8 620.7L1344.0 622.4L1346.3 623.9L1348.5 625.5L1350.8 626.9L1353.0 628.4L1355.3 629.7L1357.5 631.0L1359.8 632.3L1362.0 633.6L1364.3 634.7L1366.5 635.9L1368.8 637.0L1371.0 638.0L1373.3 639.0L1375.5 640.0L1377.8 640.9L1380.0 641.8L1382.3 642.7L1384.5 643.5L1386.8 644.4L1389.0 645.1L1391.3 645.9L1393.5 646.6L1395.8 647.3L1398.0 648.0L1400.3 648.7L1402.5 649.4L1404.8 650.0L1407.0 650.6L1409.3 651.3L1411.5 651.9L1413.8 652.5L1416.0 653.1L1418.3 653.7L1420.5 654.2L1422.8 654.8L1425.0 655.4L1427.3 655.9L1429.5 656.5L1431.8 657.1L1434.0 657.6L1436.3 658.2L1438.5 658.7L1440.8 659.3L1443.0 659.8L1445.3 660.3L1447.5 660.9L1449.8 661.4L1452.0 661.9L1454.3 662.5L1456.5 663.0L1458.8 663.5L1461.0 664.0L1463.3 664.5L1465.5 665.0L1467.8 665.4L1470.0 665.9L1472.3 666.3L1474.5 666.8L1476.8 667.2L1479.0 667.6L1481.3 668.0L1483.5 668.4L1485.8 668.8L1488.0 669.2L1490.3 669.5L1492.5 669.9L1494.8 670.2L1497.0 670.5L1499.3 670.9L1501.5 671.2L1503.8 671.5L1506.0 671.7L1508.3 672.0L1510.5 672.3L1512.8 672.6L1515.0 672.8L1517.3 673.1L1519.5 673.4L1521.8 673.6L1524.0 673.9L1526.3 674.1L1528.5 674.4L1530.8 674.6L1533.0 674.8L1535.3 675.1L1537.5 675.3L1539.8 675.5L1542.0 675.7L1544.3 675.9L1546.5 676.1L1548.8 676.3L1551.0 676.5L1553.3 676.7L1555.5 676.9L1557.8 677.1L1560.0 677.2L1562.3 677.4L1564.5 677.6L1566.8 677.7L1569.0 677.9L1571.3 678.0L1573.5 678.1L1575.8 678.3L1578.0 678.4L1580.3 678.5L1582.5 678.6L1584.8 678.7L1587.0 678.8L1589.3 678.9L1591.5 679.0L1593.8 679.1L1596.0 679.2L1598.3 679.3L1600.5 679.4L1602.8 679.5L1605.0 679.6L1607.3 679.6L1609.5 679.7L1611.8 679.8L1614.0 679.9L1616.3 680.0L1618.5 680.0L1620.8 680.1L1623.0 680.2L1625.3 680.2L1627.5 680.3L1629.8 680.4L1632.0 680.5L1634.3 680.5L1636.5 680.6L1638.8 680.7L1641.0 680.7L1643.3 680.8L1645.5 680.8L1647.8 680.9L1650.0 681.0L1652.3 681.0L1654.5 681.1L1656.8 681.1L1659.0 681.2L1661.3 681.2L1663.5 681.3L1665.8 681.3L1668.0 681.4L1670.3 681.4L1672.5 681.5L1674.8 681.5L1677.0 681.6L1679.3 681.6L1681.5 681.7L1683.8 681.7L1686.0 681.7L1688.3 681.8L1690.5 681.8L1692.8 681.8L1695.0 681.9L1697.3 681.9L1699.5 681.9L1701.8 682.0L1704.0 682.0L1706.3 682.0L1708.5 682.1L1710.8 682.1L1713.0 682.1L1715.3 682.1L1717.5 682.2L1719.8 682.2L1722.0 682.2L1724.3 682.2L1726.5 682.3L1728.8 682.3L1731.0 682.3L1733.3 682.3L1735.5 682.3L1737.8 682.3L1740.0 682.4L1742.3 682.4L1744.5 682.4L1746.8 682.4L1749.0 682.4L1751.3 682.5L1753.5 682.5L1755.8 682.5L1758.0 682.5L1760.3 682.5L1762.5 682.5L1764.8 682.6L1767.0 682.6L1769.3 682.6L1771.5 682.6L1773.8 682.6L1776.0 682.6L1778.3 682.7L1780.5 682.7L1782.8 682.7L1785.0 682.7L1787.3 682.7L1789.5 682.7L1791.8 682.8L1794.0 682.8L1796.3 682.8L1798.5 682.8L1800.8 682.8L1803.0 682.8L1805.3 682.8L1807.5 682.9L1809.8 682.9L1812.0 682.9L1814.3 682.9L1816.5 682.9L1818.8 682.9L1821.0 682.9L1823.3 683.0L1825.5 683.0L1827.8 683.0L1830.0 683.0L1832.3 683.0L1834.5 683.0L1836.8 683.0L1839.0 683.1L1841.3 683.1L1843.5 683.1L1845.8 683.1L1848.0 683.1L1850.3 683.1L1852.5 683.1L1854.8 683.1L1857.0 683.1L1859.3 683.2L1861.5 683.2L1863.8 683.2L1866.0 683.2L1868.3 683.2L1870.5 683.2L1872.8 683.2L1875.0 683.2L1877.3 683.2L1879.5 683.3L1881.8 683.3L1884.0 683.3L1886.3 683.3L1888.5 683.3L1890.8 683.3L1893.0 683.3L1895.3 683.3L1897.5 683.3L1899.8 683.3L1902.0 683.3L1904.3 683.3L1906.5 683.4L1908.8 683.4L1911.0 683.4L1913.3 683.4L1915.5 683.4L1917.8 683.4L1920.0 683.4L1922.3 683.4L1924.5 683.4L1926.8 683.4L1929.0 683.4L1931.3 683.4L1933.5 683.4L1935.8 683.4L1938.0 683.4L1940.3 683.4L1942.5 683.4L1944.8 683.5L1947.0 683.5L1949.3 683.5L1951.5 683.5L1953.8 683.5L1956.0 683.5L1958.3 683.5L1960.5 683.5L1962.8 683.5L1965.0 683.5L1967.3 683.5L1969.5 683.5L1971.8 683.5L1974.0 683.5L1976.3 683.5L1978.5 683.5L1980.8 683.5L1983.0 683.5L1985.3 683.5L1987.5 683.5L1989.8 683.5L1992.0 683.5" fill="none" stroke="#2727ac" stroke-width="4.4" stroke-linejoin="round"/>
<path d="M291.0 683.5L293.2 683.5L295.5 683.5L297.8 683.5L300.0 683.5L302.3 683.5L304.5 683.5L306.8 683.5L309.0 683.5L311.3 683.5L313.5 683.5L315.8 683.5L318.0 683.5L320.3 683.5L322.5 683.5L324.8 683.5L327.0 683.5L329.3 683.5L331.5 683.5L333.8 683.5L336.0 683.5L338.3 683.5L340.5 683.5L342.8 683.5L345.0 683.5L347.3 683.5L349.5 683.5L351.8 683.5L354.0 683.4L356.3 683.4L358.5 683.4L360.8 683.4L363.0 683.4L365.3 683.4L367.5 683.4L369.8 683.4L372.0 683.4L374.3 683.4L376.5 683.4L378.8 683.4L381.0 683.4L383.3 683.4L385.5 683.4L387.8 683.4L390.0 683.4L392.3 683.4L394.5 683.4L396.8 683.4L399.0 683.4L401.3 683.4L403.5 683.3L405.8 683.3L408.0 683.3L410.3 683.3L412.5 683.3L414.8 683.3L417.0 683.3L419.3 683.3L421.5 683.3L423.8 683.3L426.0 683.3L428.3 683.3L430.5 683.3L432.8 683.3L435.0 683.3L437.3 683.3L439.5 683.2L441.8 683.2L444.0 683.2L446.3 683.2L448.5 683.2L450.8 683.2L453.0 683.2L455.3 683.2L457.5 683.2L459.8 683.2L462.0 683.2L464.3 683.2L466.5 683.1L468.8 683.1L471.0 683.1L473.3 683.1L475.5 683.1L477.8 683.1L480.0 683.1L482.3 683.1L484.5 683.1L486.8 683.1L489.0 683.1L491.3 683.1L493.5 683.0L495.8 683.0L498.0 683.0L500.3 683.0L502.5 683.0L504.8 683.0L507.0 683.0L509.3 683.0L511.5 683.0L513.8 682.9L516.0 682.9L518.3 682.9L520.5 682.9L522.8 682.9L525.0 682.9L527.3 682.8L529.5 682.8L531.8 682.8L534.0 682.8L536.3 682.8L538.5 682.7L540.8 682.7L543.0 682.7L545.3 682.7L547.5 682.6L549.8 682.6L552.0 682.6L554.3 682.6L556.5 682.5L558.8 682.5L561.0 682.5L563.3 682.4L565.5 682.4L567.8 682.4L570.0 682.3L572.3 682.3L574.5 682.3L576.8 682.2L579.0 682.2L581.3 682.2L583.5 682.1L585.8 682.1L588.0 682.0L590.3 682.0L592.5 682.0L594.8 681.9L597.0 681.9L599.3 681.8L601.5 681.8L603.8 681.7L606.0 681.7L608.3 681.7L610.5 681.6L612.8 681.6L615.0 681.5L617.3 681.5L619.5 681.4L621.8 681.4L624.0 681.3L626.3 681.3L628.5 681.2L630.8 681.2L633.0 681.1L635.3 681.1L637.5 681.0L639.8 681.0L642.0 680.9L644.3 680.9L646.5 680.8L648.8 680.7L651.0 680.7L653.3 680.6L655.5 680.5L657.8 680.5L660.0 680.4L662.3 680.3L664.5 680.3L666.8 680.2L669.0 680.1L671.3 680.0L673.5 679.9L675.8 679.9L678.0 679.8L680.3 679.7L682.5 679.6L684.8 679.5L687.0 679.4L689.3 679.3L691.5 679.2L693.8 679.1L696.0 679.0L698.3 678.9L700.5 678.8L702.8 678.7L705.0 678.6L707.3 678.4L709.5 678.3L711.8 678.2L714.0 678.1L716.3 678.0L718.5 677.8L720.8 677.7L723.0 677.6L725.3 677.5L727.5 677.3L729.8 677.2L732.0 677.0L734.3 676.9L736.5 676.8L738.8 676.6L741.0 676.5L743.3 676.3L745.5 676.1L747.8 676.0L750.0 675.8L752.3 675.6L754.5 675.5L756.8 675.3L759.0 675.1L761.3 674.9L763.5 674.7L765.8 674.5L768.0 674.3L770.3 674.1L772.5 673.9L774.8 673.7L777.0 673.5L779.3 673.3L781.5 673.0L783.8 672.8L786.0 672.5L788.3 672.3L790.5 672.1L792.8 671.8L795.0 671.5L797.3 671.3L799.5 671.0L801.8 670.7L804.0 670.5L806.3 670.2L808.5 669.9L810.8 669.6L813.0 669.3L815.3 668.9L817.5 668.6L819.8 668.3L822.0 667.9L824.3 667.6L826.5 667.2L828.8 666.8L831.0 666.4L833.3 666.0L835.5 665.6L837.8 665.2L840.0 664.7L842.3 664.2L844.5 663.7L846.8 663.2L849.0 662.7L851.3 662.2L853.5 661.6L855.8 661.0L858.0 660.4L860.3 659.7L862.5 659.1L864.8 658.4L867.0 657.7L869.3 656.9L871.5 656.1L873.8 655.3L876.0 654.5L878.3 653.6L880.5 652.6L882.8 651.7L885.0 650.7L887.3 649.7L889.5 648.7L891.8 647.7L894.0 646.7L896.3 645.7L898.5 644.6L900.8 643.6L903.0 642.6L905.3 641.5L907.5 640.5L909.8 639.4L912.0 638.4L914.3 637.3L916.5 636.2L918.8 635.1L921.0 633.9L923.3 632.8L925.5 631.5L927.8 630.3L930.0 629.0L932.3 627.7L934.5 626.4L936.8 625.0L939.0 623.5L941.3 622.0L943.5 620.5L945.8 618.9L948.0 617.2L950.3 615.5L952.5 613.7L954.8 611.8L957.0 609.8L959.3 607.8L961.5 605.7L963.8 603.5L966.0 601.3L968.3 598.9L970.5 596.4L972.8 593.9L975.0 591.2L977.3 588.4L979.5 585.6L981.8 582.6L984.0 579.5L986.3 576.2L988.5 572.9L990.8 569.5L993.0 565.9L995.3 562.2L997.5 558.4L999.8 554.5L1002.0 550.5L1004.3 546.4L1006.5 542.2L1008.8 537.9L1011.0 533.5L1013.3 529.1L1015.5 524.7L1017.8 520.2L1020.0 515.7L1022.3 511.2L1024.5 506.8L1026.8 502.3L1029.0 497.8L1031.3 493.4L1033.5 489.0L1035.8 484.6L1038.0 480.2L1040.3 475.8L1042.5 471.4L1044.8 467.0L1047.0 462.6L1049.3 458.2L1051.5 453.8L1053.8 449.5L1056.0 445.1L1058.3 440.8L1060.5 436.6L1062.8 432.4L1065.0 428.3L1067.3 424.2L1069.5 420.2L1071.8 416.3L1074.0 412.5L1076.3 408.7L1078.5 405.1L1080.8 401.5L1083.0 398.1L1085.3 394.8L1087.5 391.6L1089.8 388.5L1092.0 385.5L1094.3 382.6L1096.5 379.9L1098.8 377.4L1101.0 374.9L1103.3 372.6L1105.5 370.4L1107.8 368.3L1110.0 366.4L1112.3 364.6L1114.5 362.9L1116.8 361.3L1119.0 359.9L1121.3 358.6L1123.5 357.3L1125.8 356.3L1128.0 355.3L1130.3 354.4L1132.5 353.7L1134.8 353.0L1137.0 352.5L1139.3 352.1L1141.5 351.7L1143.8 351.5L1146.0 351.4L1148.3 351.4L1150.5 351.5L1152.8 351.7L1155.0 352.0L1157.3 352.5L1159.5 353.1L1161.8 353.8L1164.0 354.7L1166.3 355.7L1168.5 356.9L1170.8 358.2L1173.0 359.7L1175.3 361.4L1177.5 363.3L1179.8 365.3L1182.0 367.6L1184.3 370.0L1186.5 372.6L1188.8 375.3L1191.0 378.3L1193.3 381.4L1195.5 384.6L1197.8 388.1L1200.0 391.6L1202.3 395.4L1204.5 399.2L1206.8 403.1L1209.0 407.1L1211.3 411.2L1213.5 415.2L1215.8 419.3L1218.0 423.4L1220.3 427.5L1222.5 431.5L1224.8 435.4L1227.0 439.3L1229.3 443.1L1231.5 446.9L1233.8 450.6L1236.0 454.2L1238.3 457.7L1240.5 461.2L1242.8 464.7L1245.0 468.1L1247.3 471.5L1249.5 474.9L1251.8 478.3L1254.0 481.8L1256.3 485.2L1258.5 488.7L1260.8 492.2L1263.0 495.7L1265.3 499.2L1267.5 502.8L1269.8 506.4L1272.0 510.0L1274.3 513.6L1276.5 517.2L1278.8 520.8L1281.0 524.4L1283.3 528.0L1285.5 531.5L1287.8 535.0L1290.0 538.4L1292.3 541.7L1294.5 544.9L1296.8 548.1L1299.0 551.2L1301.3 554.3L1303.5 557.3L1305.8 560.2L1308.0 563.0L1310.3 565.8L1312.5 568.6L1314.8 571.3L1317.0 574.0L1319.3 576.6L1321.5 579.2L1323.8 581.7L1326.0 584.2L1328.3 586.6L1330.5 589.0L1332.8 591.3L1335.0 593.6L1337.3 595.8L1339.5 597.9L1341.8 600.0L1344.0 602.0L1346.3 604.0L1348.5 605.8L1350.8 607.7L1353.0 609.4L1355.3 611.1L1357.5 612.8L1359.8 614.4L1362.0 616.0L1364.3 617.5L1366.5 619.0L1368.8 620.5L1371.0 621.9L1373.3 623.3L1375.5 624.6L1377.8 625.9L1380.0 627.2L1382.3 628.5L1384.5 629.7L1386.8 630.9L1389.0 632.1L1391.3 633.3L1393.5 634.4L1395.8 635.5L1398.0 636.6L1400.3 637.7L1402.5 638.7L1404.8 639.7L1407.0 640.7L1409.3 641.7L1411.5 642.6L1413.8 643.5L1416.0 644.3L1418.3 645.2L1420.5 646.0L1422.8 646.8L1425.0 647.6L1427.3 648.3L1429.5 649.1L1431.8 649.8L1434.0 650.5L1436.3 651.2L1438.5 651.8L1440.8 652.5L1443.0 653.1L1445.3 653.7L1447.5 654.3L1449.8 654.9L1452.0 655.5L1454.3 656.1L1456.5 656.6L1458.8 657.2L1461.0 657.7L1463.3 658.3L1465.5 658.8L1467.8 659.3L1470.0 659.8L1472.3 660.4L1474.5 660.9L1476.8 661.4L1479.0 661.9L1481.3 662.4L1483.5 662.9L1485.8 663.4L1488.0 663.8L1490.3 664.3L1492.5 664.8L1494.8 665.3L1497.0 665.7L1499.3 666.2L1501.5 666.6L1503.8 667.1L1506.0 667.5L1508.3 668.0L1510.5 668.4L1512.8 668.8L1515.0 669.2L1517.3 669.6L1519.5 670.0L1521.8 670.3L1524.0 670.7L1526.3 671.0L1528.5 671.4L1530.8 671.7L1533.0 672.0L1535.3 672.3L1537.5 672.6L1539.8 672.8L1542.0 673.1L1544.3 673.4L1546.5 673.6L1548.8 673.8L1551.0 674.1L1553.3 674.3L1555.5 674.5L1557.8 674.7L1560.0 675.0L1562.3 675.2L1564.5 675.4L1566.8 675.6L1569.0 675.8L1571.3 675.9L1573.5 676.1L1575.8 676.3L1578.0 676.5L1580.3 676.7L1582.5 676.8L1584.8 677.0L1587.0 677.2L1589.3 677.3L1591.5 677.5L1593.8 677.6L1596.0 677.8L1598.3 677.9L1600.5 678.1L1602.8 678.2L1605.0 678.3L1607.3 678.5L1609.5 678.6L1611.8 678.7L1614.0 678.8L1616.3 678.9L1618.5 679.0L1620.8 679.1L1623.0 679.2L1625.3 679.3L1627.5 679.4L1629.8 679.5L1632.0 679.6L1634.3 679.7L1636.5 679.8L1638.8 679.9L1641.0 680.0L1643.3 680.0L1645.5 680.1L1647.8 680.2L1650.0 680.3L1652.3 680.3L1654.5 680.4L1656.8 680.5L1659.0 680.6L1661.3 680.6L1663.5 680.7L1665.8 680.8L1668.0 680.8L1670.3 680.9L1672.5 681.0L1674.8 681.0L1677.0 681.1L1679.3 681.2L1681.5 681.2L1683.8 681.3L1686.0 681.3L1688.3 681.4L1690.5 681.5L1692.8 681.5L1695.0 681.6L1697.3 681.6L1699.5 681.7L1701.8 681.7L1704.0 681.8L1706.3 681.8L1708.5 681.9L1710.8 681.9L1713.0 682.0L1715.3 682.0L1717.5 682.1L1719.8 682.1L1722.0 682.1L1724.3 682.2L1726.5 682.2L1728.8 682.3L1731.0 682.3L1733.3 682.3L1735.5 682.4L1737.8 682.4L1740.0 682.4L1742.3 682.5L1744.5 682.5L1746.8 682.5L1749.0 682.6L1751.3 682.6L1753.5 682.6L1755.8 682.6L1758.0 682.6L1760.3 682.7L1762.5 682.7L1764.8 682.7L1767.0 682.7L1769.3 682.7L1771.5 682.8L1773.8 682.8L1776.0 682.8L1778.3 682.8L1780.5 682.8L1782.8 682.8L1785.0 682.8L1787.3 682.9L1789.5 682.9L1791.8 682.9L1794.0 682.9L1796.3 682.9L1798.5 682.9L1800.8 682.9L1803.0 682.9L1805.3 683.0L1807.5 683.0L1809.8 683.0L1812.0 683.0L1814.3 683.0L1816.5 683.0L1818.8 683.0L1821.0 683.0L1823.3 683.0L1825.5 683.1L1827.8 683.1L1830.0 683.1L1832.3 683.1L1834.5 683.1L1836.8 683.1L1839.0 683.1L1841.3 683.1L1843.5 683.1L1845.8 683.2L1848.0 683.2L1850.3 683.2L1852.5 683.2L1854.8 683.2L1857.0 683.2L1859.3 683.2L1861.5 683.2L1863.8 683.2L1866.0 683.2L1868.3 683.2L1870.5 683.3L1872.8 683.3L1875.0 683.3L1877.3 683.3L1879.5 683.3L1881.8 683.3L1884.0 683.3L1886.3 683.3L1888.5 683.3L1890.8 683.3L1893.0 683.3L1895.3 683.3L1897.5 683.4L1899.8 683.4L1902.0 683.4L1904.3 683.4L1906.5 683.4L1908.8 683.4L1911.0 683.4L1913.3 683.4L1915.5 683.4L1917.8 683.4L1920.0 683.4L1922.3 683.4L1924.5 683.4L1926.8 683.4L1929.0 683.4L1931.3 683.4L1933.5 683.4L1935.8 683.4L1938.0 683.4L1940.3 683.5L1942.5 683.5L1944.8 683.5L1947.0 683.5L1949.3 683.5L1951.5 683.5L1953.8 683.5L1956.0 683.5L1958.3 683.5L1960.5 683.5L1962.8 683.5L1965.0 683.5L1967.3 683.5L1969.5 683.5L1971.8 683.5L1974.0 683.5L1976.3 683.5L1978.5 683.5L1980.8 683.5L1983.0 683.5L1985.3 683.5L1987.5 683.5L1989.8 683.5L1992.0 683.5" fill="none" stroke="#2727ac" stroke-width="4.4" stroke-linejoin="round"/>
<path d="M286.5 1332.5L288.8 1332.5L291.0 1332.5L293.3 1332.5L295.5 1332.5L297.8 1332.5L300.0 1332.5L302.3 1332.5L304.5 1332.5L306.8 1332.5L309.0 1332.5L311.3 1332.4L313.5 1332.4L315.8 1332.4L318.0 1332.4L320.3 1332.4L322.5 1332.4L324.8 1332.4L327.0 1332.4L329.3 1332.3L331.5 1332.3L333.8 1332.3L336.0 1332.3L338.3 1332.3L340.5 1332.3L342.8 1332.2L345.0 1332.2L347.3 1332.2L349.5 1332.2L351.8 1332.1L354.0 1332.1L356.3 1332.1L358.5 1332.1L360.8 1332.0L363.0 1332.0L365.3 1332.0L367.5 1332.0L369.8 1331.9L372.0 1331.9L374.3 1331.9L376.5 1331.8L378.8 1331.8L381.0 1331.8L383.3 1331.8L385.5 1331.7L387.8 1331.7L390.0 1331.7L392.3 1331.6L394.5 1331.6L396.8 1331.5L399.0 1331.5L401.3 1331.5L403.5 1331.4L405.8 1331.4L408.0 1331.4L410.3 1331.3L412.5 1331.3L414.8 1331.2L417.0 1331.2L419.3 1331.2L421.5 1331.1L423.8 1331.0L426.0 1331.0L428.3 1330.9L430.5 1330.8L432.8 1330.7L435.0 1330.6L437.3 1330.5L439.5 1330.4L441.8 1330.3L444.0 1330.2L446.3 1330.1L448.5 1330.0L450.8 1329.8L453.0 1329.7L455.3 1329.6L457.5 1329.4L459.8 1329.3L462.0 1329.1L464.3 1329.0L466.5 1328.8L468.8 1328.6L471.0 1328.5L473.3 1328.3L475.5 1328.1L477.8 1328.0L480.0 1327.8L482.3 1327.6L484.5 1327.5L486.8 1327.3L489.0 1327.1L491.3 1326.9L493.5 1326.7L495.8 1326.6L498.0 1326.4L500.3 1326.2L502.5 1326.0L504.8 1325.8L507.0 1325.7L509.3 1325.5L511.5 1325.3L513.8 1325.1L516.0 1324.9L518.3 1324.7L520.5 1324.5L522.8 1324.3L525.0 1324.1L527.3 1323.9L529.5 1323.7L531.8 1323.4L534.0 1323.2L536.3 1323.0L538.5 1322.7L540.8 1322.5L543.0 1322.3L545.3 1322.0L547.5 1321.8L549.8 1321.5L552.0 1321.3L554.3 1321.0L556.5 1320.7L558.8 1320.5L561.0 1320.2L563.3 1319.9L565.5 1319.6L567.8 1319.3L570.0 1319.0L572.3 1318.7L574.5 1318.4L576.8 1318.1L579.0 1317.8L581.3 1317.4L583.5 1317.1L585.8 1316.8L588.0 1316.4L590.3 1316.1L592.5 1315.7L594.8 1315.4L597.0 1315.0L599.3 1314.6L601.5 1314.2L603.8 1313.8L606.0 1313.3L608.3 1312.8L610.5 1312.3L612.8 1311.8L615.0 1311.3L617.3 1310.7L619.5 1310.2L621.8 1309.6L624.0 1309.0L626.3 1308.4L628.5 1307.8L630.8 1307.2L633.0 1306.6L635.3 1305.9L637.5 1305.3L639.8 1304.7L642.0 1304.0L644.3 1303.4L646.5 1302.7L648.8 1302.0L651.0 1301.3L653.3 1300.6L655.5 1299.9L657.8 1299.2L660.0 1298.4L662.3 1297.6L664.5 1296.9L666.8 1296.0L669.0 1295.2L671.3 1294.4L673.5 1293.5L675.8 1292.6L678.0 1291.7L680.3 1290.7L682.5 1289.7L684.8 1288.7L687.0 1287.7L689.3 1286.6L691.5 1285.5L693.8 1284.3L696.0 1283.0L698.3 1281.7L700.5 1280.2L702.8 1278.7L705.0 1277.2L707.3 1275.6L709.5 1273.9L711.8 1272.2L714.0 1270.5L716.3 1268.7L718.5 1266.9L720.8 1265.1L723.0 1263.3L725.3 1261.4L727.5 1259.5L729.8 1257.7L732.0 1255.8L734.3 1254.0L736.5 1252.1L738.8 1250.3L741.0 1248.5L743.3 1246.7L745.5 1245.0L747.8 1243.3L750.0 1241.6L752.3 1239.8L754.5 1238.1L756.8 1236.4L759.0 1234.6L761.3 1232.8L763.5 1231.0L765.8 1229.1L768.0 1227.2L770.3 1225.2L772.5 1223.2L774.8 1221.0L777.0 1218.8L779.3 1216.5L781.5 1214.1L783.8 1211.5L786.0 1208.7L788.3 1205.9L790.5 1202.9L792.8 1199.8L795.0 1196.7L797.3 1193.5L799.5 1190.2L801.8 1187.0L804.0 1183.7L806.3 1180.4L808.5 1177.1L810.8 1173.8L813.0 1170.6L815.3 1167.5L817.5 1164.4L819.8 1161.3L822.0 1158.3L824.3 1155.2L826.5 1152.1L828.8 1149.0L831.0 1145.8L833.3 1142.5L835.5 1139.1L837.8 1135.6L840.0 1132.0L842.3 1128.2L844.5 1124.3L846.8 1120.1L849.0 1115.6L851.3 1110.8L853.5 1105.8L855.8 1100.6L858.0 1095.3L860.3 1089.9L862.5 1084.5L864.8 1078.9L867.0 1073.4L869.3 1068.0L871.5 1062.6L873.8 1057.3L876.0 1051.9L878.3 1046.4L880.5 1040.9L882.8 1035.4L885.0 1029.9L887.3 1024.3L889.5 1018.7L891.8 1013.2L894.0 1007.6L896.3 1002.1L898.5 996.5L900.8 990.9L903.0 985.3L905.3 979.6L907.5 973.9L909.8 968.2L912.0 962.6L914.3 957.0L916.5 951.6L918.8 946.3L921.0 941.1L923.3 936.1L925.5 931.2L927.8 926.5L930.0 921.8L932.3 917.2L934.5 912.7L936.8 908.2L939.0 903.8L941.3 899.4L943.5 895.0L945.8 890.6L948.0 886.2L950.3 881.7L952.5 877.2L954.8 872.6L957.0 867.8L959.3 863.0L961.5 858.1L963.8 853.2L966.0 848.4L968.3 843.6L970.5 838.8L972.8 834.2L975.0 829.8L977.3 825.5L979.5 821.5L981.8 817.7L984.0 814.2L986.3 810.8L988.5 807.7L990.8 804.6L993.0 801.7L995.3 798.9L997.5 796.1L999.8 793.5L1002.0 790.8L1004.3 788.3L1006.5 785.7L1008.8 783.2L1011.0 780.7L1013.3 778.1L1015.5 775.6L1017.8 772.9L1020.0 770.3L1022.3 767.5L1024.5 764.5L1026.8 761.3L1029.0 758.1L1031.3 754.8L1033.5 751.5L1035.8 748.2L1038.0 745.1L1040.3 742.2L1042.5 739.5L1044.8 737.1L1047.0 735.0L1049.3 733.3L1051.5 732.1L1053.8 731.2L1056.0 730.3L1058.3 729.4L1060.5 728.6L1062.8 727.9L1065.0 727.2L1067.3 726.5L1069.5 726.0L1071.8 725.5L1074.0 725.1L1076.3 724.7L1078.5 724.5L1080.8 724.4L1083.0 724.4L1085.3 724.5L1087.5 724.8L1089.8 725.2L1092.0 725.8L1094.3 726.4L1096.5 727.2L1098.8 728.1L1101.0 729.0L1103.3 730.1L1105.5 731.2L1107.8 732.4L1110.0 734.5L1112.3 737.4L1114.5 741.0L1116.8 744.9L1119.0 748.6L1121.3 752.0L1123.5 754.6L1125.8 756.9L1128.0 759.0L1130.3 760.9L1132.5 762.8L1134.8 764.7L1137.0 766.7L1139.3 768.7L1141.5 770.9L1143.8 773.2L1146.0 775.5L1148.3 777.8L1150.5 780.1L1152.8 782.5L1155.0 784.9L1157.3 787.3L1159.5 789.8L1161.8 792.3L1164.0 794.8L1166.3 797.3L1168.5 799.9L1170.8 802.5L1173.0 805.1L1175.3 807.7L1177.5 810.4L1179.8 813.1L1182.0 815.9L1184.3 818.7L1186.5 821.5L1188.8 824.4L1191.0 827.3L1193.3 830.3L1195.5 833.3L1197.8 836.4L1200.0 839.5L1202.3 842.7L1204.5 845.9L1206.8 849.2L1209.0 852.5L1211.3 855.9L1213.5 859.4L1215.8 862.9L1218.0 866.5L1220.3 870.2L1222.5 874.2L1224.8 878.2L1227.0 882.3L1229.3 886.2L1231.5 890.1L1233.8 893.8L1236.0 897.1" fill="none" stroke="#3a8068" stroke-width="4.2" stroke-dasharray="17 11" stroke-dashoffset="0" stroke-linejoin="round"/>
<path d="M1362.0 1107.1L1364.2 1110.6L1366.5 1114.2L1368.8 1117.7L1371.0 1121.2L1373.2 1124.6L1375.5 1127.9L1377.8 1131.1L1380.0 1134.2L1382.2 1137.3L1384.5 1140.2L1386.8 1143.2L1389.0 1146.1L1391.2 1148.9L1393.5 1151.7L1395.8 1154.4L1398.0 1157.1L1400.2 1159.8L1402.5 1162.4L1404.7 1165.0L1407.0 1167.5L1409.2 1169.9L1411.5 1172.4L1413.7 1174.8L1416.0 1177.3L1418.2 1179.7L1420.5 1182.2L1422.7 1184.7L1425.0 1187.2L1427.2 1189.9L1429.5 1192.6L1431.7 1195.4L1434.0 1198.2L1436.2 1201.0L1438.5 1203.6L1440.7 1206.1L1443.0 1208.4L1445.2 1210.4L1447.5 1212.2L1449.7 1213.8L1452.0 1215.3L1454.2 1216.7L1456.5 1218.0L1458.7 1219.3L1461.0 1220.5" fill="none" stroke="#3a8068" stroke-width="4.2" stroke-dasharray="17 11" stroke-dashoffset="0" stroke-linejoin="round"/>
<path d="M1551.0 1276.0L1553.2 1277.1L1555.5 1278.1L1557.8 1279.2L1560.0 1280.3L1562.2 1281.3L1564.5 1282.4L1566.8 1283.5L1569.0 1284.7L1571.3 1285.8L1573.5 1286.9L1575.8 1288.1L1578.0 1289.2L1580.3 1290.2L1582.5 1291.3L1584.8 1292.2L1587.0 1293.2L1589.3 1294.0L1591.5 1294.8L1593.8 1295.6L1596.0 1296.3L1598.3 1297.0L1600.5 1297.7L1602.8 1298.4L1605.0 1299.1L1607.3 1299.7L1609.5 1300.4L1611.8 1301.0L1614.0 1301.6L1616.3 1302.2L1618.5 1302.8L1620.8 1303.3L1623.0 1303.9L1625.3 1304.4L1627.5 1304.9L1629.8 1305.5L1632.0 1306.0L1634.3 1306.5L1636.5 1306.9L1638.8 1307.4L1641.0 1307.9L1643.3 1308.4L1645.5 1308.8L1647.8 1309.3L1650.0 1309.7L1652.3 1310.1L1654.5 1310.5L1656.8 1311.0L1659.0 1311.4L1661.3 1311.8L1663.5 1312.2L1665.8 1312.5L1668.0 1312.9L1670.3 1313.3L1672.5 1313.7L1674.8 1314.0L1677.0 1314.4L1679.3 1314.7L1681.5 1315.1L1683.8 1315.4L1686.0 1315.7L1688.3 1316.0L1690.5 1316.4L1692.8 1316.7L1695.0 1317.0L1697.3 1317.3L1699.5 1317.6L1701.8 1317.8L1704.0 1318.1L1706.3 1318.4L1708.5 1318.7L1710.8 1319.0L1713.0 1319.3L1715.3 1319.6L1717.5 1319.8L1719.8 1320.1L1722.0 1320.4L1724.3 1320.6L1726.5 1320.9L1728.8 1321.1L1731.0 1321.4L1733.3 1321.6L1735.5 1321.9L1737.8 1322.1L1740.0 1322.4L1742.3 1322.6L1744.5 1322.8L1746.8 1323.0L1749.0 1323.2L1751.3 1323.5L1753.5 1323.7L1755.8 1323.8L1758.0 1324.0L1760.3 1324.2L1762.5 1324.4L1764.8 1324.6L1767.0 1324.7L1769.3 1324.9L1771.5 1325.0L1773.8 1325.2L1776.0 1325.4L1778.3 1325.5L1780.5 1325.6L1782.8 1325.8L1785.0 1325.9L1787.3 1326.1L1789.5 1326.2L1791.8 1326.4L1794.0 1326.5L1796.3 1326.6L1798.5 1326.8L1800.8 1326.9L1803.0 1327.0L1805.3 1327.1L1807.5 1327.3L1809.8 1327.4L1812.0 1327.5L1814.3 1327.6L1816.5 1327.7L1818.8 1327.8L1821.0 1327.9L1823.3 1328.0L1825.5 1328.2L1827.8 1328.3L1830.0 1328.4L1832.3 1328.5L1834.5 1328.5L1836.8 1328.6L1839.0 1328.7L1841.3 1328.8L1843.5 1328.9L1845.8 1329.0L1848.0 1329.1L1850.3 1329.2L1852.5 1329.2L1854.8 1329.3L1857.0 1329.4L1859.3 1329.5L1861.5 1329.5L1863.8 1329.6L1866.0 1329.7L1868.3 1329.8L1870.5 1329.8L1872.8 1329.9L1875.0 1330.0L1877.3 1330.0L1879.5 1330.1L1881.8 1330.2L1884.0 1330.3L1886.3 1330.3L1888.5 1330.4L1890.8 1330.5L1893.0 1330.5L1895.3 1330.6L1897.5 1330.7L1899.8 1330.7L1902.0 1330.8L1904.3 1330.9L1906.5 1330.9L1908.8 1331.0L1911.0 1331.0L1913.3 1331.1L1915.5 1331.2L1917.8 1331.2L1920.0 1331.3L1922.3 1331.3L1924.5 1331.4L1926.8 1331.5L1929.0 1331.5L1931.3 1331.6L1933.5 1331.6L1935.8 1331.7L1938.0 1331.7L1940.3 1331.8L1942.5 1331.8L1944.8 1331.9L1947.0 1331.9L1949.3 1332.0L1951.5 1332.0L1953.8 1332.0L1956.0 1332.1L1958.3 1332.1L1960.5 1332.1L1962.8 1332.2L1965.0 1332.2L1967.3 1332.3L1969.5 1332.3L1971.8 1332.3L1974.0 1332.3L1976.3 1332.4L1978.5 1332.4L1980.8 1332.4L1983.0 1332.4L1985.3 1332.5L1987.5 1332.5L1989.8 1332.5L1992.0 1332.5" fill="none" stroke="#3a8068" stroke-width="4.2" stroke-dasharray="17 11" stroke-dashoffset="0" stroke-linejoin="round"/>
<path d="M1236.0 897.1L1238.2 900.3L1240.5 903.3L1242.8 906.1L1245.0 908.9L1247.2 911.7L1249.5 914.6L1251.8 917.5L1254.0 920.7L1256.2 924.0L1258.5 927.4L1260.8 930.9L1263.0 934.5L1265.2 938.3L1267.5 942.1L1269.8 946.1L1272.0 950.4L1274.2 955.1L1276.5 959.9L1278.7 964.7L1281.0 969.3L1283.2 973.7L1285.5 977.6L1287.7 981.2L1290.0 984.5L1292.2 987.6L1294.5 990.7L1296.7 993.8L1299.0 997.0L1301.2 1000.4L1303.5 1004.1L1305.7 1008.2L1308.0 1012.6L1310.2 1017.4L1312.5 1022.2L1314.7 1027.1L1317.0 1032.0L1319.2 1036.6L1321.5 1040.9L1323.7 1044.9L1326.0 1048.7L1328.2 1052.5L1330.5 1056.1L1332.7 1059.7L1335.0 1063.3L1337.2 1066.9L1339.5 1070.5L1341.7 1074.2L1344.0 1077.9L1346.2 1081.6L1348.5 1085.3L1350.7 1089.0L1353.0 1092.6L1355.2 1096.3L1357.5 1099.9L1359.7 1103.5L1362.0 1107.1" fill="none" stroke="#3a8068" stroke-width="3.6" stroke-linejoin="round"/>
<path d="M1461.0 1220.5L1463.2 1221.8L1465.5 1223.0L1467.8 1224.3L1470.0 1225.7L1472.2 1227.2L1474.5 1228.7L1476.8 1230.3L1479.0 1231.9L1481.2 1233.5L1483.5 1235.1L1485.8 1236.7L1488.0 1238.4L1490.2 1240.0L1492.5 1241.6L1494.8 1243.2L1497.0 1244.8L1499.2 1246.3L1501.5 1247.8L1503.7 1249.3L1506.0 1250.7L1508.2 1252.2L1510.5 1253.6L1512.7 1255.0L1515.0 1256.4L1517.2 1257.8L1519.5 1259.2L1521.7 1260.5L1524.0 1261.9L1526.2 1263.2L1528.5 1264.5L1530.7 1265.7L1533.0 1266.9L1535.2 1268.1L1537.5 1269.3L1539.7 1270.5L1542.0 1271.6L1544.2 1272.7L1546.5 1273.8L1548.7 1274.9L1551.0 1276.0" fill="none" stroke="#3a8068" stroke-width="3.6" stroke-linejoin="round"/>
<path d="M286.5 1332.5L288.8 1332.5L291.0 1332.5L293.3 1332.5L295.5 1332.5L297.8 1332.5L300.0 1332.5L302.3 1332.5L304.5 1332.5L306.8 1332.5L309.0 1332.5L311.3 1332.5L313.5 1332.4L315.8 1332.4L318.0 1332.4L320.3 1332.4L322.5 1332.4L324.8 1332.4L327.0 1332.4L329.3 1332.4L331.5 1332.4L333.8 1332.3L336.0 1332.3L338.3 1332.3L340.5 1332.3L342.8 1332.3L345.0 1332.3L347.3 1332.2L349.5 1332.2L351.8 1332.2L354.0 1332.2L356.3 1332.2L358.5 1332.2L360.8 1332.1L363.0 1332.1L365.3 1332.1L367.5 1332.1L369.8 1332.0L372.0 1332.0L374.3 1332.0L376.5 1332.0L378.8 1331.9L381.0 1331.9L383.3 1331.9L385.5 1331.9L387.8 1331.8L390.0 1331.8L392.3 1331.8L394.5 1331.8L396.8 1331.7L399.0 1331.7L401.3 1331.7L403.5 1331.6L405.8 1331.6L408.0 1331.6L410.3 1331.6L412.5 1331.5L414.8 1331.5L417.0 1331.5L419.3 1331.4L421.5 1331.4L423.8 1331.3L426.0 1331.3L428.3 1331.2L430.5 1331.2L432.8 1331.1L435.0 1331.1L437.3 1331.0L439.5 1330.9L441.8 1330.8L444.0 1330.7L446.3 1330.7L448.5 1330.6L450.8 1330.5L453.0 1330.4L455.3 1330.3L457.5 1330.2L459.8 1330.1L462.0 1329.9L464.3 1329.8L466.5 1329.7L468.8 1329.6L471.0 1329.5L473.3 1329.4L475.5 1329.2L477.8 1329.1L480.0 1329.0L482.3 1328.8L484.5 1328.7L486.8 1328.6L489.0 1328.4L491.3 1328.3L493.5 1328.2L495.8 1328.0L498.0 1327.9L500.3 1327.7L502.5 1327.6L504.8 1327.5L507.0 1327.3L509.3 1327.2L511.5 1327.0L513.8 1326.9L516.0 1326.7L518.3 1326.6L520.5 1326.4L522.8 1326.2L525.0 1326.1L527.3 1325.9L529.5 1325.7L531.8 1325.6L534.0 1325.4L536.3 1325.2L538.5 1325.0L540.8 1324.8L543.0 1324.6L545.3 1324.4L547.5 1324.2L549.8 1324.0L552.0 1323.8L554.3 1323.5L556.5 1323.3L558.8 1323.1L561.0 1322.8L563.3 1322.6L565.5 1322.4L567.8 1322.1L570.0 1321.8L572.3 1321.6L574.5 1321.3L576.8 1321.0L579.0 1320.7L581.3 1320.5L583.5 1320.2L585.8 1319.9L588.0 1319.6L590.3 1319.2L592.5 1318.9L594.8 1318.6L597.0 1318.3L599.3 1317.9L601.5 1317.5L603.8 1317.1L606.0 1316.6L608.3 1316.1L610.5 1315.6L612.8 1315.0L615.0 1314.5L617.3 1313.9L619.5 1313.2L621.8 1312.6L624.0 1311.9L626.3 1311.3L628.5 1310.6L630.8 1309.9L633.0 1309.2L635.3 1308.6L637.5 1307.9L639.8 1307.2L642.0 1306.5L644.3 1305.8L646.5 1305.1L648.8 1304.5L651.0 1303.8L653.3 1303.2L655.5 1302.6L657.8 1302.0L660.0 1301.4L662.3 1300.9L664.5 1300.3L666.8 1299.8L669.0 1299.3L671.3 1298.8L673.5 1298.4L675.8 1297.9L678.0 1297.4L680.3 1297.0L682.5 1296.5L684.8 1296.1L687.0 1295.6L689.3 1295.1L691.5 1294.6L693.8 1294.2L696.0 1293.7L698.3 1293.2L700.5 1292.6L702.8 1292.1L705.0 1291.5L707.3 1291.0L709.5 1290.3L711.8 1289.7L714.0 1289.0L716.3 1288.4L718.5 1287.6L720.8 1286.8L723.0 1286.0L725.3 1285.1L727.5 1284.2L729.8 1283.3L732.0 1282.3L734.3 1281.2L736.5 1280.2L738.8 1279.1L741.0 1278.0L743.3 1276.8L745.5 1275.6L747.8 1274.4L750.0 1273.2L752.3 1271.9L754.5 1270.7L756.8 1269.4L759.0 1268.1L761.3 1266.8L763.5 1265.5L765.8 1264.2L768.0 1262.9L770.3 1261.6L772.5 1260.2L774.8 1258.9L777.0 1257.5L779.3 1256.0L781.5 1254.6L783.8 1253.0L786.0 1251.5L788.3 1249.9L790.5 1248.3L792.8 1246.7L795.0 1245.1L797.3 1243.5L799.5 1241.9L801.8 1240.3L804.0 1238.7L806.3 1237.2L808.5 1235.7L810.8 1234.1L813.0 1232.6L815.3 1231.1L817.5 1229.6L819.8 1228.0L822.0 1226.5L824.3 1224.9L826.5 1223.3L828.8 1221.6L831.0 1219.9L833.3 1218.1L835.5 1216.2L837.8 1214.4L840.0 1212.4L842.3 1210.5L844.5 1208.5L846.8 1206.4L849.0 1204.3L851.3 1202.1L853.5 1199.9L855.8 1197.6L858.0 1195.3L860.3 1192.8L862.5 1190.3L864.8 1187.8L867.0 1185.1L869.3 1182.2L871.5 1179.2L873.8 1176.0L876.0 1172.6L878.3 1169.2L880.5 1165.7L882.8 1162.1L885.0 1158.4L887.3 1154.8L889.5 1151.1L891.8 1147.5L894.0 1144.0L896.3 1140.5L898.5 1137.1L900.8 1133.7L903.0 1130.3L905.3 1127.0L907.5 1123.6L909.8 1120.3L912.0 1116.9L914.3 1113.5L916.5 1110.1L918.8 1106.7L921.0 1103.3L923.3 1099.8L925.5 1096.3L927.8 1092.7L930.0 1089.1L932.3 1085.5L934.5 1081.9L936.8 1078.3L939.0 1074.6L941.3 1070.9L943.5 1067.2L945.8 1063.4L948.0 1059.6L950.3 1055.8L952.5 1051.9L954.8 1048.0L957.0 1044.1L959.3 1040.1L961.5 1036.0L963.8 1031.8L966.0 1027.5L968.3 1023.2L970.5 1018.9L972.8 1014.5L975.0 1010.0L977.3 1005.6L979.5 1001.2L981.8 996.8L984.0 992.5L986.3 988.2L988.5 984.0L990.8 979.8L993.0 975.7L995.3 971.5L997.5 967.3L999.8 963.1L1002.0 958.9L1004.3 954.8L1006.5 950.7L1008.8 946.7L1011.0 942.8L1013.3 938.9L1015.5 935.2L1017.8 931.5L1020.0 928.0L1022.3 924.6L1024.5 921.5L1026.8 918.4L1029.0 915.5L1031.3 912.7L1033.5 909.9L1035.8 907.2L1038.0 904.5L1040.3 901.7L1042.5 898.9L1044.8 896.0L1047.0 893.0L1049.3 889.8L1051.5 886.5L1053.8 882.9L1056.0 879.0L1058.3 874.8L1060.5 870.5L1062.8 866.0L1065.0 861.5L1067.3 857.0L1069.5 852.5L1071.8 848.1L1074.0 843.9L1076.3 839.9L1078.5 836.2L1080.8 832.9L1083.0 829.9L1085.3 827.1L1087.5 824.4L1089.8 821.7L1092.0 819.2L1094.3 816.7L1096.5 814.3L1098.8 812.0L1101.0 809.9L1103.3 807.8L1105.5 805.9L1107.8 804.1L1110.0 802.4L1112.3 800.9L1114.5 799.5L1116.8 798.3L1119.0 797.3L1121.3 796.4L1123.5 795.6L1125.8 794.7L1128.0 793.7L1130.3 792.6L1132.5 791.2L1134.8 789.5L1137.0 787.3L1139.3 784.8L1141.5 782.0L1143.8 779.0L1146.0 775.9L1148.3 772.6L1150.5 769.2L1152.8 765.9L1155.0 762.7L1157.3 759.2L1159.5 755.4L1161.8 751.3L1164.0 747.2L1166.3 743.2L1168.5 739.6L1170.8 736.5L1173.0 734.2L1175.3 732.3L1177.5 730.5L1179.8 728.7L1182.0 727.0L1184.3 725.6L1186.5 724.3L1188.8 723.3L1191.0 722.5L1193.3 722.1L1195.5 722.1L1197.8 722.4L1200.0 723.0L1202.3 723.9L1204.5 725.1L1206.8 726.4L1209.0 727.9L1211.3 729.6L1213.5 731.3L1215.8 733.1L1218.0 734.9L1220.3 736.7L1222.5 738.4L1224.8 740.0L1227.0 741.8L1229.3 743.6L1231.5 745.5L1233.8 747.5L1236.0 749.7L1238.3 751.9L1240.5 754.3L1242.8 756.8L1245.0 759.5L1247.3 762.4L1249.5 765.6L1251.8 769.4L1254.0 773.7L1256.3 778.3L1258.5 783.2L1260.8 788.1L1263.0 792.9L1265.3 797.4L1267.5 801.6L1269.8 805.6L1272.0 809.5L1274.3 813.3L1276.5 817.0L1278.8 820.8L1281.0 824.7L1283.3 828.6L1285.5 832.7L1287.8 837.0L1290.0 841.4L1292.3 845.8L1294.5 850.3L1296.8 854.8L1299.0 859.3L1301.3 863.7L1303.5 868.1L1305.8 872.4L1308.0 876.7L1310.3 881.0L1312.5 885.2L1314.8 889.4L1317.0 893.6L1319.3 897.8L1321.5 902.0L1323.8 906.2L1326.0 910.4L1328.3 914.5L1330.5 918.6L1332.8 922.7L1335.0 926.7L1337.3 930.8L1339.5 935.0L1341.8 939.1L1344.0 943.3L1346.3 947.5L1348.5 951.9L1350.8 956.3L1353.0 960.8L1355.3 965.3L1357.5 969.8L1359.8 974.3L1362.0 978.7L1364.3 982.9L1366.5 987.1L1368.8 991.0L1371.0 994.9L1373.3 998.6L1375.5 1002.3L1377.8 1006.1L1380.0 1009.9L1382.3 1013.8L1384.5 1017.9L1386.8 1022.2L1389.0 1026.5L1391.3 1031.0L1393.5 1035.5L1395.8 1040.0L1398.0 1044.5L1400.3 1048.9L1402.5 1053.3L1404.8 1057.6L1407.0 1061.7L1409.3 1065.9L1411.5 1070.0L1413.8 1074.1L1416.0 1078.2L1418.3 1082.4L1420.5 1086.6L1422.8 1090.8L1425.0 1095.2L1427.3 1099.7L1429.5 1104.2L1431.8 1108.8L1434.0 1113.4L1436.3 1117.9L1438.5 1122.5L1440.8 1127.0L1443.0 1131.6L1445.3 1136.2L1447.5 1140.9L1449.8 1145.4L1452.0 1149.9L1454.3 1154.2L1456.5 1158.3L1458.8 1162.0L1461.0 1165.6L1463.3 1169.0L1465.5 1172.3L1467.8 1175.5L1470.0 1178.6L1472.3 1181.6L1474.5 1184.5L1476.8 1187.4L1479.0 1190.2L1481.3 1193.0L1483.5 1195.8L1485.8 1198.4L1488.0 1201.0L1490.3 1203.6L1492.5 1206.1L1494.8 1208.6L1497.0 1211.0L1499.3 1213.5L1501.5 1216.0L1503.8 1218.4L1506.0 1220.9L1508.3 1223.3L1510.5 1225.8L1512.8 1228.3L1515.0 1230.7L1517.3 1233.1L1519.5 1235.5L1521.8 1237.8L1524.0 1240.1L1526.3 1242.3L1528.5 1244.5L1530.8 1246.6L1533.0 1248.6L1535.3 1250.6L1537.5 1252.6L1539.8 1254.6L1542.0 1256.6L1544.3 1258.5L1546.5 1260.4L1548.8 1262.2L1551.0 1264.0L1553.3 1265.7L1555.5 1267.3L1557.8 1268.9L1560.0 1270.4L1562.3 1271.9L1564.5 1273.2L1566.8 1274.5L1569.0 1275.7L1571.3 1276.9L1573.5 1278.0L1575.8 1279.1L1578.0 1280.2L1580.3 1281.2L1582.5 1282.2L1584.8 1283.1L1587.0 1284.0L1589.3 1284.9L1591.5 1285.8L1593.8 1286.7L1596.0 1287.5L1598.3 1288.3L1600.5 1289.1L1602.8 1289.9L1605.0 1290.7L1607.3 1291.5L1609.5 1292.2L1611.8 1293.0L1614.0 1293.7L1616.3 1294.4L1618.5 1295.1L1620.8 1295.8L1623.0 1296.4L1625.3 1297.1L1627.5 1297.8L1629.8 1298.4L1632.0 1299.0L1634.3 1299.6L1636.5 1300.2L1638.8 1300.8L1641.0 1301.4L1643.3 1302.0L1645.5 1302.6L1647.8 1303.1L1650.0 1303.7L1652.3 1304.2L1654.5 1304.8L1656.8 1305.3L1659.0 1305.8L1661.3 1306.4L1663.5 1306.9L1665.8 1307.4L1668.0 1307.9L1670.3 1308.3L1672.5 1308.8L1674.8 1309.3L1677.0 1309.8L1679.3 1310.2L1681.5 1310.6L1683.8 1311.1L1686.0 1311.5L1688.3 1311.9L1690.5 1312.3L1692.8 1312.7L1695.0 1313.1L1697.3 1313.4L1699.5 1313.8L1701.8 1314.2L1704.0 1314.5L1706.3 1314.9L1708.5 1315.3L1710.8 1315.6L1713.0 1316.0L1715.3 1316.3L1717.5 1316.6L1719.8 1317.0L1722.0 1317.3L1724.3 1317.6L1726.5 1317.9L1728.8 1318.3L1731.0 1318.6L1733.3 1318.9L1735.5 1319.2L1737.8 1319.5L1740.0 1319.7L1742.3 1320.0L1744.5 1320.3L1746.8 1320.6L1749.0 1320.8L1751.3 1321.1L1753.5 1321.3L1755.8 1321.6L1758.0 1321.8L1760.3 1322.0L1762.5 1322.2L1764.8 1322.5L1767.0 1322.7L1769.3 1322.9L1771.5 1323.1L1773.8 1323.3L1776.0 1323.4L1778.3 1323.6L1780.5 1323.8L1782.8 1324.0L1785.0 1324.2L1787.3 1324.4L1789.5 1324.5L1791.8 1324.7L1794.0 1324.9L1796.3 1325.1L1798.5 1325.2L1800.8 1325.4L1803.0 1325.6L1805.3 1325.7L1807.5 1325.9L1809.8 1326.0L1812.0 1326.2L1814.3 1326.3L1816.5 1326.5L1818.8 1326.6L1821.0 1326.8L1823.3 1326.9L1825.5 1327.0L1827.8 1327.2L1830.0 1327.3L1832.3 1327.4L1834.5 1327.5L1836.8 1327.7L1839.0 1327.8L1841.3 1327.9L1843.5 1328.0L1845.8 1328.1L1848.0 1328.2L1850.3 1328.3L1852.5 1328.4L1854.8 1328.5L1857.0 1328.6L1859.3 1328.7L1861.5 1328.8L1863.8 1328.9L1866.0 1329.0L1868.3 1329.1L1870.5 1329.2L1872.8 1329.3L1875.0 1329.3L1877.3 1329.4L1879.5 1329.5L1881.8 1329.6L1884.0 1329.7L1886.3 1329.8L1888.5 1329.9L1890.8 1330.0L1893.0 1330.0L1895.3 1330.1L1897.5 1330.2L1899.8 1330.3L1902.0 1330.4L1904.3 1330.5L1906.5 1330.5L1908.8 1330.6L1911.0 1330.7L1913.3 1330.8L1915.5 1330.9L1917.8 1330.9L1920.0 1331.0L1922.3 1331.1L1924.5 1331.1L1926.8 1331.2L1929.0 1331.3L1931.3 1331.4L1933.5 1331.4L1935.8 1331.5L1938.0 1331.5L1940.3 1331.6L1942.5 1331.7L1944.8 1331.7L1947.0 1331.8L1949.3 1331.8L1951.5 1331.9L1953.8 1331.9L1956.0 1332.0L1958.3 1332.0L1960.5 1332.1L1962.8 1332.1L1965.0 1332.2L1967.3 1332.2L1969.5 1332.2L1971.8 1332.3L1974.0 1332.3L1976.3 1332.3L1978.5 1332.4L1980.8 1332.4L1983.0 1332.4L1985.3 1332.4L1987.5 1332.5L1989.8 1332.5L1992.0 1332.5" fill="none" stroke="#3a8068" stroke-width="4.2" stroke-dasharray="17 11" stroke-dashoffset="14" stroke-linejoin="round"/>
<path d="M286.5 1332.5L288.8 1332.5L291.0 1332.5L293.3 1332.5L295.5 1332.5L297.8 1332.5L300.0 1332.5L302.3 1332.5L304.5 1332.5L306.8 1332.5L309.0 1332.5L311.3 1332.5L313.5 1332.5L315.8 1332.5L318.0 1332.5L320.3 1332.5L322.5 1332.5L324.8 1332.5L327.0 1332.5L329.3 1332.5L331.5 1332.5L333.8 1332.5L336.0 1332.5L338.3 1332.5L340.5 1332.5L342.8 1332.5L345.0 1332.5L347.3 1332.5L349.5 1332.5L351.8 1332.5L354.0 1332.5L356.3 1332.5L358.5 1332.5L360.8 1332.5L363.0 1332.5L365.3 1332.5L367.5 1332.5L369.8 1332.5L372.0 1332.5L374.3 1332.5L376.5 1332.5L378.8 1332.5L381.0 1332.5L383.3 1332.5L385.5 1332.5L387.8 1332.5L390.0 1332.5L392.3 1332.5L394.5 1332.5L396.8 1332.5L399.0 1332.5L401.3 1332.5L403.5 1332.5L405.8 1332.5L408.0 1332.5L410.3 1332.5L412.5 1332.5L414.8 1332.5L417.0 1332.5L419.3 1332.5L421.5 1332.5L423.8 1332.5L426.0 1332.5L428.3 1332.5L430.5 1332.5L432.8 1332.5L435.0 1332.5L437.3 1332.5L439.5 1332.5L441.8 1332.5L444.0 1332.5L446.3 1332.5L448.5 1332.5L450.8 1332.5L453.0 1332.5L455.3 1332.5L457.5 1332.5L459.8 1332.5L462.0 1332.5L464.3 1332.5L466.5 1332.5L468.8 1332.5L471.0 1332.5L473.3 1332.5L475.5 1332.5L477.8 1332.5L480.0 1332.5L482.3 1332.5L484.5 1332.5L486.8 1332.5L489.0 1332.5L491.3 1332.5L493.5 1332.5L495.8 1332.5L498.0 1332.5L500.3 1332.5L502.5 1332.5L504.8 1332.5L507.0 1332.5L509.3 1332.5L511.5 1332.5L513.8 1332.5L516.0 1332.5L518.3 1332.5L520.5 1332.5L522.8 1332.5L525.0 1332.5L527.3 1332.5L529.5 1332.5L531.8 1332.5L534.0 1332.5L536.3 1332.5L538.5 1332.5L540.8 1332.5L543.0 1332.5L545.3 1332.5L547.5 1332.5L549.8 1332.5L552.0 1332.5L554.3 1332.5L556.5 1332.5L558.8 1332.5L561.0 1332.5L563.3 1332.5L565.5 1332.5L567.8 1332.5L570.0 1332.5L572.3 1332.5L574.5 1332.5L576.8 1332.5L579.0 1332.5L581.3 1332.5L583.5 1332.5L585.8 1332.5L588.0 1332.5L590.3 1332.5L592.5 1332.5L594.8 1332.5L597.0 1332.5L599.3 1332.5L601.5 1332.5L603.8 1332.5L606.0 1332.5L608.3 1332.5L610.5 1332.5L612.8 1332.5L615.0 1332.5L617.3 1332.5L619.5 1332.5L621.8 1332.5L624.0 1332.5L626.3 1332.5L628.5 1332.5L630.8 1332.4L633.0 1332.4L635.3 1332.4L637.5 1332.4L639.8 1332.4L642.0 1332.4L644.3 1332.4L646.5 1332.4L648.8 1332.4L651.0 1332.4L653.3 1332.3L655.5 1332.3L657.8 1332.3L660.0 1332.3L662.3 1332.3L664.5 1332.3L666.8 1332.3L669.0 1332.3L671.3 1332.2L673.5 1332.2L675.8 1332.2L678.0 1332.2L680.3 1332.2L682.5 1332.2L684.8 1332.1L687.0 1332.1L689.3 1332.1L691.5 1332.1L693.8 1332.1L696.0 1332.1L698.3 1332.0L700.5 1332.0L702.8 1332.0L705.0 1332.0L707.3 1332.0L709.5 1331.9L711.8 1331.9L714.0 1331.9L716.3 1331.9L718.5 1331.9L720.8 1331.8L723.0 1331.8L725.3 1331.8L727.5 1331.8L729.8 1331.7L732.0 1331.7L734.3 1331.7L736.5 1331.7L738.8 1331.6L741.0 1331.6L743.3 1331.6L745.5 1331.5L747.8 1331.5L750.0 1331.5L752.3 1331.4L754.5 1331.4L756.8 1331.3L759.0 1331.3L761.3 1331.2L763.5 1331.1L765.8 1331.1L768.0 1331.0L770.3 1330.9L772.5 1330.9L774.8 1330.8L777.0 1330.7L779.3 1330.7L781.5 1330.6L783.8 1330.5L786.0 1330.4L788.3 1330.3L790.5 1330.2L792.8 1330.1L795.0 1330.0L797.3 1329.9L799.5 1329.8L801.8 1329.7L804.0 1329.6L806.3 1329.5L808.5 1329.4L810.8 1329.3L813.0 1329.1L815.3 1329.0L817.5 1328.9L819.8 1328.7L822.0 1328.6L824.3 1328.5L826.5 1328.3L828.8 1328.1L831.0 1327.9L833.3 1327.6L835.5 1327.4L837.8 1327.1L840.0 1326.8L842.3 1326.5L844.5 1326.1L846.8 1325.8L849.0 1325.4L851.3 1325.0L853.5 1324.6L855.8 1324.2L858.0 1323.8L860.3 1323.3L862.5 1322.9L864.8 1322.4L867.0 1321.9L869.3 1321.4L871.5 1320.9L873.8 1320.3L876.0 1319.6L878.3 1319.0L880.5 1318.2L882.8 1317.5L885.0 1316.7L887.3 1315.9L889.5 1315.0L891.8 1314.1L894.0 1313.2L896.3 1312.3L898.5 1311.3L900.8 1310.3L903.0 1309.3L905.3 1308.3L907.5 1307.2L909.8 1306.2L912.0 1305.1L914.3 1304.0L916.5 1302.8L918.8 1301.7L921.0 1300.5L923.3 1299.4L925.5 1298.2L927.8 1297.0L930.0 1295.8L932.3 1294.6L934.5 1293.4L936.8 1292.1L939.0 1290.7L941.3 1289.3L943.5 1287.9L945.8 1286.4L948.0 1284.8L950.3 1283.1L952.5 1281.3L954.8 1279.4L957.0 1277.4L959.3 1275.3L961.5 1273.0L963.8 1270.5L966.0 1267.7L968.3 1264.7L970.5 1261.5L972.8 1258.2L975.0 1254.7L977.3 1251.0L979.5 1247.2L981.8 1243.3L984.0 1239.3L986.3 1235.2L988.5 1231.1L990.8 1226.9L993.0 1222.6L995.3 1218.1L997.5 1213.3L999.8 1208.4L1002.0 1203.1L1004.3 1197.4L1006.5 1191.3L1008.8 1184.8L1011.0 1177.2L1013.3 1168.4L1015.5 1158.9L1017.8 1149.0L1020.0 1139.1L1022.3 1129.6L1024.5 1120.8L1026.8 1112.5L1029.0 1104.4L1031.3 1096.4L1033.5 1088.3L1035.8 1079.9L1038.0 1071.2L1040.3 1062.2L1042.5 1053.1L1044.8 1043.9L1047.0 1034.7L1049.3 1025.4L1051.5 1016.3L1053.8 1007.3L1056.0 998.4L1058.3 989.6L1060.5 980.7L1062.8 971.6L1065.0 962.2L1067.3 952.4L1069.5 942.2L1071.8 931.8L1074.0 920.9L1076.3 909.6L1078.5 897.7L1080.8 884.4L1083.0 868.3L1085.3 852.1L1087.5 839.0L1089.8 830.7L1092.0 824.2L1094.3 818.8L1096.5 814.0L1098.8 809.7L1101.0 805.4L1103.3 801.0L1105.5 796.4L1107.8 791.8L1110.0 787.5L1112.3 783.5L1114.5 780.1L1116.8 777.5L1119.0 775.8L1121.3 775.0L1123.5 774.4L1125.8 774.1L1128.0 774.7L1130.3 776.8L1132.5 780.1L1134.8 784.2L1137.0 788.6L1139.3 793.0L1141.5 797.2L1143.8 802.1L1146.0 807.4L1148.3 813.0L1150.5 818.9L1152.8 825.0L1155.0 831.1L1157.3 837.1L1159.5 843.2L1161.8 849.5L1164.0 856.1L1166.3 863.1L1168.5 870.6L1170.8 878.9L1173.0 888.1L1175.3 898.4L1177.5 909.5L1179.8 921.4L1182.0 933.9L1184.3 947.5L1186.5 963.4L1188.8 980.0L1191.0 995.5L1193.3 1008.6L1195.5 1020.5L1197.8 1031.7L1200.0 1042.4L1202.3 1052.6L1204.5 1062.6L1206.8 1072.4L1209.0 1081.8L1211.3 1091.0L1213.5 1099.9L1215.8 1108.7L1218.0 1117.4L1220.3 1126.0L1222.5 1134.9L1224.8 1143.8L1227.0 1152.6L1229.3 1160.7L1231.5 1168.0L1233.8 1174.3L1236.0 1180.1L1238.3 1185.5L1240.5 1190.5L1242.8 1195.3L1245.0 1199.9L1247.3 1204.3L1249.5 1208.6L1251.8 1212.8L1254.0 1217.0L1256.3 1221.2L1258.5 1225.3L1260.8 1229.5L1263.0 1233.5L1265.3 1237.4L1267.5 1241.2L1269.8 1244.9L1272.0 1248.4L1274.3 1251.7L1276.5 1254.8L1278.8 1257.7L1281.0 1260.5L1283.3 1263.2L1285.5 1265.9L1287.8 1268.5L1290.0 1271.1L1292.3 1273.6L1294.5 1276.0L1296.8 1278.4L1299.0 1280.6L1301.3 1282.8L1303.5 1284.8L1305.8 1286.8L1308.0 1288.6L1310.3 1290.3L1312.5 1291.9L1314.8 1293.4L1317.0 1294.7L1319.3 1296.0L1321.5 1297.2L1323.8 1298.3L1326.0 1299.4L1328.3 1300.5L1330.5 1301.6L1332.8 1302.5L1335.0 1303.5L1337.3 1304.4L1339.5 1305.3L1341.8 1306.2L1344.0 1307.0L1346.3 1307.8L1348.5 1308.6L1350.8 1309.3L1353.0 1310.1L1355.3 1310.8L1357.5 1311.5L1359.8 1312.1L1362.0 1312.8L1364.3 1313.5L1366.5 1314.1L1368.8 1314.8L1371.0 1315.4L1373.3 1316.0L1375.5 1316.7L1377.8 1317.3L1380.0 1317.9L1382.3 1318.4L1384.5 1319.0L1386.8 1319.5L1389.0 1320.1L1391.3 1320.6L1393.5 1321.0L1395.8 1321.5L1398.0 1321.9L1400.3 1322.4L1402.5 1322.7L1404.8 1323.1L1407.0 1323.4L1409.3 1323.8L1411.5 1324.0L1413.8 1324.3L1416.0 1324.6L1418.3 1324.9L1420.5 1325.2L1422.8 1325.4L1425.0 1325.7L1427.3 1326.0L1429.5 1326.2L1431.8 1326.5L1434.0 1326.7L1436.3 1326.9L1438.5 1327.2L1440.8 1327.4L1443.0 1327.6L1445.3 1327.8L1447.5 1328.0L1449.8 1328.2L1452.0 1328.4L1454.3 1328.5L1456.5 1328.7L1458.8 1328.9L1461.0 1329.0L1463.3 1329.2L1465.5 1329.3L1467.8 1329.4L1470.0 1329.5L1472.3 1329.6L1474.5 1329.7L1476.8 1329.8L1479.0 1329.9L1481.3 1330.0L1483.5 1330.1L1485.8 1330.1L1488.0 1330.2L1490.3 1330.3L1492.5 1330.3L1494.8 1330.4L1497.0 1330.5L1499.3 1330.5L1501.5 1330.6L1503.8 1330.7L1506.0 1330.7L1508.3 1330.8L1510.5 1330.8L1512.8 1330.9L1515.0 1331.0L1517.3 1331.0L1519.5 1331.1L1521.8 1331.1L1524.0 1331.2L1526.3 1331.2L1528.5 1331.3L1530.8 1331.3L1533.0 1331.4L1535.3 1331.4L1537.5 1331.4L1539.8 1331.5L1542.0 1331.5L1544.3 1331.6L1546.5 1331.6L1548.8 1331.6L1551.0 1331.7L1553.3 1331.7L1555.5 1331.7L1557.8 1331.8L1560.0 1331.8L1562.3 1331.8L1564.5 1331.8L1566.8 1331.9L1569.0 1331.9L1571.3 1331.9L1573.5 1331.9L1575.8 1331.9L1578.0 1331.9L1580.3 1332.0L1582.5 1332.0L1584.8 1332.0L1587.0 1332.0L1589.3 1332.0L1591.5 1332.0L1593.8 1332.0L1596.0 1332.0L1598.3 1332.0L1600.5 1332.0L1602.8 1332.0L1605.0 1332.0L1607.3 1332.0L1609.5 1332.0L1611.8 1332.1L1614.0 1332.1L1616.3 1332.1L1618.5 1332.1L1620.8 1332.1L1623.0 1332.1L1625.3 1332.1L1627.5 1332.1L1629.8 1332.1L1632.0 1332.1L1634.3 1332.1L1636.5 1332.1L1638.8 1332.1L1641.0 1332.1L1643.3 1332.1L1645.5 1332.1L1647.8 1332.1L1650.0 1332.1L1652.3 1332.2L1654.5 1332.2L1656.8 1332.2L1659.0 1332.2L1661.3 1332.2L1663.5 1332.2L1665.8 1332.2L1668.0 1332.2L1670.3 1332.2L1672.5 1332.2L1674.8 1332.2L1677.0 1332.2L1679.3 1332.2L1681.5 1332.2L1683.8 1332.2L1686.0 1332.2L1688.3 1332.2L1690.5 1332.2L1692.8 1332.2L1695.0 1332.2L1697.3 1332.2L1699.5 1332.2L1701.8 1332.3L1704.0 1332.3L1706.3 1332.3L1708.5 1332.3L1710.8 1332.3L1713.0 1332.3L1715.3 1332.3L1717.5 1332.3L1719.8 1332.3L1722.0 1332.3L1724.3 1332.3L1726.5 1332.3L1728.8 1332.3L1731.0 1332.3L1733.3 1332.3L1735.5 1332.3L1737.8 1332.3L1740.0 1332.3L1742.3 1332.3L1744.5 1332.3L1746.8 1332.3L1749.0 1332.3L1751.3 1332.3L1753.5 1332.3L1755.8 1332.3L1758.0 1332.3L1760.3 1332.3L1762.5 1332.4L1764.8 1332.4L1767.0 1332.4L1769.3 1332.4L1771.5 1332.4L1773.8 1332.4L1776.0 1332.4L1778.3 1332.4L1780.5 1332.4L1782.8 1332.4L1785.0 1332.4L1787.3 1332.4L1789.5 1332.4L1791.8 1332.4L1794.0 1332.4L1796.3 1332.4L1798.5 1332.4L1800.8 1332.4L1803.0 1332.4L1805.3 1332.4L1807.5 1332.4L1809.8 1332.4L1812.0 1332.4L1814.3 1332.4L1816.5 1332.4L1818.8 1332.4L1821.0 1332.4L1823.3 1332.4L1825.5 1332.4L1827.8 1332.4L1830.0 1332.4L1832.3 1332.4L1834.5 1332.4L1836.8 1332.4L1839.0 1332.4L1841.3 1332.4L1843.5 1332.4L1845.8 1332.4L1848.0 1332.4L1850.3 1332.4L1852.5 1332.4L1854.8 1332.5L1857.0 1332.5L1859.3 1332.5L1861.5 1332.5L1863.8 1332.5L1866.0 1332.5L1868.3 1332.5L1870.5 1332.5L1872.8 1332.5L1875.0 1332.5L1877.3 1332.5L1879.5 1332.5L1881.8 1332.5L1884.0 1332.5L1886.3 1332.5L1888.5 1332.5L1890.8 1332.5L1893.0 1332.5L1895.3 1332.5L1897.5 1332.5L1899.8 1332.5L1902.0 1332.5L1904.3 1332.5L1906.5 1332.5L1908.8 1332.5L1911.0 1332.5L1913.3 1332.5L1915.5 1332.5L1917.8 1332.5L1920.0 1332.5L1922.3 1332.5L1924.5 1332.5L1926.8 1332.5L1929.0 1332.5L1931.3 1332.5L1933.5 1332.5L1935.8 1332.5L1938.0 1332.5L1940.3 1332.5L1942.5 1332.5L1944.8 1332.5L1947.0 1332.5L1949.3 1332.5L1951.5 1332.5L1953.8 1332.5L1956.0 1332.5L1958.3 1332.5L1960.5 1332.5L1962.8 1332.5L1965.0 1332.5L1967.3 1332.5L1969.5 1332.5L1971.8 1332.5L1974.0 1332.5L1976.3 1332.5L1978.5 1332.5L1980.8 1332.5L1983.0 1332.5L1985.3 1332.5L1987.5 1332.5L1989.8 1332.5L1992.0 1332.5" fill="none" stroke="#2e9d68" stroke-width="3.8" stroke-linejoin="round"/>
<path d="M286.5 1332.5L288.8 1332.5L291.0 1332.5L293.3 1332.5L295.5 1332.5L297.8 1332.5L300.0 1332.5L302.3 1332.5L304.5 1332.5L306.8 1332.5L309.0 1332.5L311.3 1332.5L313.5 1332.5L315.8 1332.5L318.0 1332.5L320.3 1332.5L322.5 1332.5L324.8 1332.5L327.0 1332.5L329.3 1332.5L331.5 1332.5L333.8 1332.5L336.0 1332.5L338.3 1332.5L340.5 1332.5L342.8 1332.5L345.0 1332.5L347.3 1332.5L349.5 1332.5L351.8 1332.5L354.0 1332.5L356.3 1332.5L358.5 1332.5L360.8 1332.5L363.0 1332.5L365.3 1332.5L367.5 1332.5L369.8 1332.5L372.0 1332.5L374.3 1332.5L376.5 1332.5L378.8 1332.5L381.0 1332.5L383.3 1332.5L385.5 1332.5L387.8 1332.5L390.0 1332.5L392.3 1332.5L394.5 1332.5L396.8 1332.5L399.0 1332.5L401.3 1332.5L403.5 1332.5L405.8 1332.5L408.0 1332.5L410.3 1332.5L412.5 1332.5L414.8 1332.5L417.0 1332.5L419.3 1332.5L421.5 1332.5L423.8 1332.5L426.0 1332.5L428.3 1332.5L430.5 1332.5L432.8 1332.5L435.0 1332.5L437.3 1332.5L439.5 1332.5L441.8 1332.5L444.0 1332.5L446.3 1332.5L448.5 1332.5L450.8 1332.5L453.0 1332.5L455.3 1332.5L457.5 1332.5L459.8 1332.5L462.0 1332.4L464.3 1332.4L466.5 1332.4L468.8 1332.4L471.0 1332.4L473.3 1332.4L475.5 1332.4L477.8 1332.4L480.0 1332.4L482.3 1332.4L484.5 1332.4L486.8 1332.4L489.0 1332.4L491.3 1332.4L493.5 1332.4L495.8 1332.4L498.0 1332.4L500.3 1332.4L502.5 1332.4L504.8 1332.4L507.0 1332.4L509.3 1332.4L511.5 1332.4L513.8 1332.4L516.0 1332.4L518.3 1332.4L520.5 1332.4L522.8 1332.4L525.0 1332.4L527.3 1332.4L529.5 1332.4L531.8 1332.4L534.0 1332.4L536.3 1332.4L538.5 1332.4L540.8 1332.4L543.0 1332.4L545.3 1332.4L547.5 1332.4L549.8 1332.4L552.0 1332.4L554.3 1332.4L556.5 1332.4L558.8 1332.4L561.0 1332.4L563.3 1332.4L565.5 1332.4L567.8 1332.4L570.0 1332.4L572.3 1332.4L574.5 1332.3L576.8 1332.3L579.0 1332.3L581.3 1332.3L583.5 1332.3L585.8 1332.3L588.0 1332.3L590.3 1332.3L592.5 1332.3L594.8 1332.3L597.0 1332.3L599.3 1332.3L601.5 1332.3L603.8 1332.3L606.0 1332.3L608.3 1332.3L610.5 1332.3L612.8 1332.3L615.0 1332.3L617.3 1332.3L619.5 1332.3L621.8 1332.3L624.0 1332.3L626.3 1332.3L628.5 1332.3L630.8 1332.3L633.0 1332.3L635.3 1332.3L637.5 1332.3L639.8 1332.3L642.0 1332.3L644.3 1332.3L646.5 1332.2L648.8 1332.2L651.0 1332.2L653.3 1332.2L655.5 1332.2L657.8 1332.2L660.0 1332.2L662.3 1332.2L664.5 1332.2L666.8 1332.2L669.0 1332.2L671.3 1332.2L673.5 1332.2L675.8 1332.2L678.0 1332.2L680.3 1332.2L682.5 1332.2L684.8 1332.2L687.0 1332.2L689.3 1332.2L691.5 1332.2L693.8 1332.2L696.0 1332.2L698.3 1332.2L700.5 1332.2L702.8 1332.1L705.0 1332.1L707.3 1332.1L709.5 1332.1L711.8 1332.1L714.0 1332.1L716.3 1332.1L718.5 1332.1L720.8 1332.1L723.0 1332.1L725.3 1332.1L727.5 1332.1L729.8 1332.1L732.0 1332.1L734.3 1332.1L736.5 1332.1L738.8 1332.1L741.0 1332.1L743.3 1332.1L745.5 1332.1L747.8 1332.1L750.0 1332.0L752.3 1332.0L754.5 1332.0L756.8 1332.0L759.0 1332.0L761.3 1332.0L763.5 1332.0L765.8 1332.0L768.0 1332.0L770.3 1332.0L772.5 1332.0L774.8 1332.0L777.0 1332.0L779.3 1332.0L781.5 1332.0L783.8 1332.0L786.0 1331.9L788.3 1331.9L790.5 1331.9L792.8 1331.9L795.0 1331.9L797.3 1331.8L799.5 1331.8L801.8 1331.8L804.0 1331.8L806.3 1331.7L808.5 1331.7L810.8 1331.6L813.0 1331.6L815.3 1331.6L817.5 1331.5L819.8 1331.5L822.0 1331.4L824.3 1331.4L826.5 1331.3L828.8 1331.2L831.0 1331.2L833.3 1331.1L835.5 1331.1L837.8 1331.0L840.0 1330.9L842.3 1330.8L844.5 1330.8L846.8 1330.7L849.0 1330.6L851.3 1330.5L853.5 1330.4L855.8 1330.4L858.0 1330.3L860.3 1330.2L862.5 1330.1L864.8 1330.0L867.0 1329.9L869.3 1329.8L871.5 1329.7L873.8 1329.6L876.0 1329.5L878.3 1329.3L880.5 1329.2L882.8 1329.1L885.0 1329.0L887.3 1328.9L889.5 1328.7L891.8 1328.6L894.0 1328.5L896.3 1328.3L898.5 1328.2L900.8 1328.1L903.0 1327.9L905.3 1327.8L907.5 1327.6L909.8 1327.5L912.0 1327.3L914.3 1327.1L916.5 1326.9L918.8 1326.6L921.0 1326.3L923.3 1326.0L925.5 1325.6L927.8 1325.2L930.0 1324.7L932.3 1324.2L934.5 1323.6L936.8 1323.1L939.0 1322.5L941.3 1321.8L943.5 1321.2L945.8 1320.5L948.0 1319.7L950.3 1319.0L952.5 1318.2L954.8 1317.4L957.0 1316.6L959.3 1315.8L961.5 1314.8L963.8 1313.7L966.0 1312.5L968.3 1311.2L970.5 1309.8L972.8 1308.2L975.0 1306.6L977.3 1304.9L979.5 1303.0L981.8 1301.1L984.0 1299.2L986.3 1297.1L988.5 1295.0L990.8 1292.8L993.0 1290.5L995.3 1287.9L997.5 1285.2L999.8 1282.4L1002.0 1279.3L1004.3 1276.1L1006.5 1272.7L1008.8 1269.2L1011.0 1265.5L1013.3 1261.7L1015.5 1257.8L1017.8 1253.7L1020.0 1249.5L1022.3 1245.1L1024.5 1240.4L1026.8 1235.2L1029.0 1229.6L1031.3 1223.7L1033.5 1217.6L1035.8 1211.1L1038.0 1204.4L1040.3 1197.4L1042.5 1189.6L1044.8 1181.2L1047.0 1172.5L1049.3 1163.8L1051.5 1155.3L1053.8 1147.1L1056.0 1138.9L1058.3 1130.7L1060.5 1122.5L1062.8 1114.1L1065.0 1105.6L1067.3 1097.0L1069.5 1088.4L1071.8 1079.5L1074.0 1070.3L1076.3 1060.6L1078.5 1050.3L1080.8 1039.4L1083.0 1028.1L1085.3 1016.7L1087.5 1005.4L1089.8 994.4L1092.0 983.3L1094.3 972.3L1096.5 961.2L1098.8 950.1L1101.0 939.1L1103.3 927.8L1105.5 916.2L1107.8 904.7L1110.0 893.5L1112.3 883.0L1114.5 873.4L1116.8 864.1L1119.0 855.0L1121.3 846.6L1123.5 838.9L1125.8 832.3L1128.0 826.7L1130.3 821.9L1132.5 817.5L1134.8 813.4L1137.0 809.3L1139.3 805.0L1141.5 800.6L1143.8 796.3L1146.0 792.4L1148.3 788.8L1150.5 786.0L1152.8 783.5L1155.0 781.1L1157.3 778.9L1159.5 777.1L1161.8 775.8L1164.0 775.4L1166.3 776.9L1168.5 780.9L1170.8 786.6L1173.0 793.1L1175.3 799.6L1177.5 805.3L1179.8 810.9L1182.0 816.6L1184.3 822.5L1186.5 828.9L1188.8 835.7L1191.0 843.2L1193.3 851.5L1195.5 861.0L1197.8 871.7L1200.0 883.2L1202.3 895.5L1204.5 908.3L1206.8 923.0L1209.0 939.7L1211.3 956.1L1213.5 969.9L1215.8 980.9L1218.0 990.7L1220.3 999.7L1222.5 1008.1L1224.8 1016.3L1227.0 1024.7L1229.3 1033.6L1231.5 1043.0L1233.8 1052.5L1236.0 1062.0L1238.3 1071.4L1240.5 1080.4L1242.8 1088.8L1245.0 1096.4L1247.3 1103.5L1249.5 1110.3L1251.8 1116.7L1254.0 1122.9L1256.3 1128.9L1258.5 1135.0L1260.8 1141.0L1263.0 1147.1L1265.3 1153.2L1267.5 1159.3L1269.8 1165.4L1272.0 1171.3L1274.3 1177.2L1276.5 1182.9L1278.8 1188.4L1281.0 1193.7L1283.3 1198.8L1285.5 1203.6L1287.8 1208.3L1290.0 1212.9L1292.3 1217.4L1294.5 1221.8L1296.8 1226.1L1299.0 1230.2L1301.3 1234.2L1303.5 1238.0L1305.8 1241.6L1308.0 1245.1L1310.3 1248.5L1312.5 1251.7L1314.8 1254.9L1317.0 1258.0L1319.3 1261.1L1321.5 1264.1L1323.8 1267.1L1326.0 1269.9L1328.3 1272.7L1330.5 1275.4L1332.8 1277.9L1335.0 1280.4L1337.3 1282.7L1339.5 1284.9L1341.8 1287.0L1344.0 1288.9L1346.3 1290.7L1348.5 1292.4L1350.8 1294.0L1353.0 1295.6L1355.3 1297.1L1357.5 1298.6L1359.8 1300.1L1362.0 1301.5L1364.3 1302.8L1366.5 1304.1L1368.8 1305.4L1371.0 1306.6L1373.3 1307.8L1375.5 1308.9L1377.8 1310.0L1380.0 1311.0L1382.3 1312.0L1384.5 1312.9L1386.8 1313.7L1389.0 1314.5L1391.3 1315.2L1393.5 1315.9L1395.8 1316.6L1398.0 1317.2L1400.3 1317.8L1402.5 1318.3L1404.8 1318.9L1407.0 1319.4L1409.3 1320.0L1411.5 1320.5L1413.8 1320.9L1416.0 1321.4L1418.3 1321.8L1420.5 1322.2L1422.8 1322.6L1425.0 1323.0L1427.3 1323.4L1429.5 1323.7L1431.8 1324.0L1434.0 1324.3L1436.3 1324.6L1438.5 1324.9L1440.8 1325.1L1443.0 1325.4L1445.3 1325.6L1447.5 1325.9L1449.8 1326.1L1452.0 1326.3L1454.3 1326.5L1456.5 1326.7L1458.8 1327.0L1461.0 1327.2L1463.3 1327.4L1465.5 1327.6L1467.8 1327.8L1470.0 1328.0L1472.3 1328.1L1474.5 1328.3L1476.8 1328.5L1479.0 1328.7L1481.3 1328.8L1483.5 1329.0L1485.8 1329.1L1488.0 1329.3L1490.3 1329.4L1492.5 1329.5L1494.8 1329.6L1497.0 1329.8L1499.3 1329.9L1501.5 1330.0L1503.8 1330.1L1506.0 1330.2L1508.3 1330.2L1510.5 1330.3L1512.8 1330.4L1515.0 1330.4L1517.3 1330.5L1519.5 1330.5L1521.8 1330.6L1524.0 1330.6L1526.3 1330.7L1528.5 1330.7L1530.8 1330.8L1533.0 1330.8L1535.3 1330.9L1537.5 1330.9L1539.8 1331.0L1542.0 1331.0L1544.3 1331.0L1546.5 1331.1L1548.8 1331.1L1551.0 1331.2L1553.3 1331.2L1555.5 1331.2L1557.8 1331.3L1560.0 1331.3L1562.3 1331.3L1564.5 1331.4L1566.8 1331.4L1569.0 1331.4L1571.3 1331.5L1573.5 1331.5L1575.8 1331.5L1578.0 1331.6L1580.3 1331.6L1582.5 1331.6L1584.8 1331.6L1587.0 1331.7L1589.3 1331.7L1591.5 1331.7L1593.8 1331.7L1596.0 1331.8L1598.3 1331.8L1600.5 1331.8L1602.8 1331.8L1605.0 1331.8L1607.3 1331.9L1609.5 1331.9L1611.8 1331.9L1614.0 1331.9L1616.3 1331.9L1618.5 1331.9L1620.8 1331.9L1623.0 1331.9L1625.3 1332.0L1627.5 1332.0L1629.8 1332.0L1632.0 1332.0L1634.3 1332.0L1636.5 1332.0L1638.8 1332.0L1641.0 1332.0L1643.3 1332.0L1645.5 1332.0L1647.8 1332.0L1650.0 1332.0L1652.3 1332.0L1654.5 1332.0L1656.8 1332.1L1659.0 1332.1L1661.3 1332.1L1663.5 1332.1L1665.8 1332.1L1668.0 1332.1L1670.3 1332.1L1672.5 1332.1L1674.8 1332.1L1677.0 1332.1L1679.3 1332.1L1681.5 1332.1L1683.8 1332.1L1686.0 1332.1L1688.3 1332.1L1690.5 1332.1L1692.8 1332.1L1695.0 1332.2L1697.3 1332.2L1699.5 1332.2L1701.8 1332.2L1704.0 1332.2L1706.3 1332.2L1708.5 1332.2L1710.8 1332.2L1713.0 1332.2L1715.3 1332.2L1717.5 1332.2L1719.8 1332.2L1722.0 1332.2L1724.3 1332.2L1726.5 1332.2L1728.8 1332.2L1731.0 1332.2L1733.3 1332.2L1735.5 1332.2L1737.8 1332.2L1740.0 1332.3L1742.3 1332.3L1744.5 1332.3L1746.8 1332.3L1749.0 1332.3L1751.3 1332.3L1753.5 1332.3L1755.8 1332.3L1758.0 1332.3L1760.3 1332.3L1762.5 1332.3L1764.8 1332.3L1767.0 1332.3L1769.3 1332.3L1771.5 1332.3L1773.8 1332.3L1776.0 1332.3L1778.3 1332.3L1780.5 1332.3L1782.8 1332.3L1785.0 1332.3L1787.3 1332.3L1789.5 1332.3L1791.8 1332.3L1794.0 1332.3L1796.3 1332.4L1798.5 1332.4L1800.8 1332.4L1803.0 1332.4L1805.3 1332.4L1807.5 1332.4L1809.8 1332.4L1812.0 1332.4L1814.3 1332.4L1816.5 1332.4L1818.8 1332.4L1821.0 1332.4L1823.3 1332.4L1825.5 1332.4L1827.8 1332.4L1830.0 1332.4L1832.3 1332.4L1834.5 1332.4L1836.8 1332.4L1839.0 1332.4L1841.3 1332.4L1843.5 1332.4L1845.8 1332.4L1848.0 1332.4L1850.3 1332.4L1852.5 1332.4L1854.8 1332.4L1857.0 1332.4L1859.3 1332.4L1861.5 1332.4L1863.8 1332.4L1866.0 1332.4L1868.3 1332.4L1870.5 1332.4L1872.8 1332.4L1875.0 1332.4L1877.3 1332.5L1879.5 1332.5L1881.8 1332.5L1884.0 1332.5L1886.3 1332.5L1888.5 1332.5L1890.8 1332.5L1893.0 1332.5L1895.3 1332.5L1897.5 1332.5L1899.8 1332.5L1902.0 1332.5L1904.3 1332.5L1906.5 1332.5L1908.8 1332.5L1911.0 1332.5L1913.3 1332.5L1915.5 1332.5L1917.8 1332.5L1920.0 1332.5L1922.3 1332.5L1924.5 1332.5L1926.8 1332.5L1929.0 1332.5L1931.3 1332.5L1933.5 1332.5L1935.8 1332.5L1938.0 1332.5L1940.3 1332.5L1942.5 1332.5L1944.8 1332.5L1947.0 1332.5L1949.3 1332.5L1951.5 1332.5L1953.8 1332.5L1956.0 1332.5L1958.3 1332.5L1960.5 1332.5L1962.8 1332.5L1965.0 1332.5L1967.3 1332.5L1969.5 1332.5L1971.8 1332.5L1974.0 1332.5L1976.3 1332.5L1978.5 1332.5L1980.8 1332.5L1983.0 1332.5L1985.3 1332.5L1987.5 1332.5L1989.8 1332.5L1992.0 1332.5" fill="none" stroke="#2e9d68" stroke-width="3.8" stroke-linejoin="round"/>
<path d="M282.0 1982.5L284.2 1982.5L286.5 1982.5L288.8 1982.5L291.0 1982.5L293.3 1982.5L295.5 1982.5L297.8 1982.5L300.0 1982.4L302.3 1982.4L304.5 1982.4L306.8 1982.4L309.0 1982.4L311.3 1982.4L313.5 1982.4L315.8 1982.3L318.0 1982.3L320.3 1982.3L322.5 1982.3L324.8 1982.2L327.0 1982.2L329.3 1982.2L331.5 1982.1L333.8 1982.1L336.0 1982.1L338.3 1982.0L340.5 1982.0L342.8 1982.0L345.0 1981.9L347.3 1981.9L349.5 1981.9L351.8 1981.8L354.0 1981.8L356.3 1981.8L358.5 1981.7L360.8 1981.7L363.0 1981.6L365.3 1981.6L367.5 1981.5L369.8 1981.5L372.0 1981.4L374.3 1981.4L376.5 1981.4L378.8 1981.3L381.0 1981.3L383.3 1981.2L385.5 1981.2L387.8 1981.1L390.0 1981.1L392.3 1981.0L394.5 1981.0L396.8 1980.9L399.0 1980.8L401.3 1980.8L403.5 1980.7L405.8 1980.7L408.0 1980.6L410.3 1980.6L412.5 1980.5L414.8 1980.5L417.0 1980.4L419.3 1980.4L421.5 1980.3L423.8 1980.2L426.0 1980.2L428.3 1980.1L430.5 1980.0L432.8 1979.9L435.0 1979.8L437.3 1979.8L439.5 1979.7L441.8 1979.6L444.0 1979.5L446.3 1979.4L448.5 1979.3L450.8 1979.2L453.0 1979.0L455.3 1978.9L457.5 1978.8L459.8 1978.7L462.0 1978.6L464.3 1978.5L466.5 1978.3L468.8 1978.2L471.0 1978.1L473.3 1978.0L475.5 1977.8L477.8 1977.7L480.0 1977.6L482.3 1977.4L484.5 1977.3L486.8 1977.2L489.0 1977.1L491.3 1976.9L493.5 1976.8L495.8 1976.7L498.0 1976.5L500.3 1976.4L502.5 1976.3L504.8 1976.1L507.0 1976.0L509.3 1975.9L511.5 1975.7L513.8 1975.6L516.0 1975.5L518.3 1975.4L520.5 1975.2L522.8 1975.1L525.0 1975.0L527.3 1974.8L529.5 1974.7L531.8 1974.6L534.0 1974.4L536.3 1974.3L538.5 1974.2L540.8 1974.0L543.0 1973.9L545.3 1973.7L547.5 1973.6L549.8 1973.5L552.0 1973.3L554.3 1973.2L556.5 1973.0L558.8 1972.9L561.0 1972.7L563.3 1972.5L565.5 1972.4L567.8 1972.2L570.0 1972.0L572.3 1971.9L574.5 1971.7L576.8 1971.5L579.0 1971.3L581.3 1971.2L583.5 1971.0L585.8 1970.8L588.0 1970.6L590.3 1970.4L592.5 1970.2L594.8 1970.0L597.0 1969.8L599.3 1969.5L601.5 1969.3L603.8 1969.1L606.0 1968.8L608.3 1968.6L610.5 1968.3L612.8 1968.1L615.0 1967.8L617.3 1967.5L619.5 1967.2L621.8 1966.9L624.0 1966.6L626.3 1966.3L628.5 1965.9L630.8 1965.6L633.0 1965.3L635.3 1964.9L637.5 1964.6L639.8 1964.2L642.0 1963.8L644.3 1963.4L646.5 1963.1L648.8 1962.7L651.0 1962.3L653.3 1961.9L655.5 1961.5L657.8 1961.1L660.0 1960.7L662.3 1960.3L664.5 1959.8L666.8 1959.4L669.0 1959.0L671.3 1958.6L673.5 1958.1L675.8 1957.7L678.0 1957.2L680.3 1956.8L682.5 1956.4L684.8 1955.9L687.0 1955.5L689.3 1955.0L691.5 1954.5L693.8 1954.1L696.0 1953.6L698.3 1953.1L700.5 1952.6L702.8 1952.1L705.0 1951.6L707.3 1951.0L709.5 1950.4L711.8 1949.9L714.0 1949.3L716.3 1948.6L718.5 1948.0L720.8 1947.3L723.0 1946.6L725.3 1945.9L727.5 1945.2L729.8 1944.3L732.0 1943.5L734.3 1942.6L736.5 1941.7L738.8 1940.7L741.0 1939.7L743.3 1938.7L745.5 1937.6L747.8 1936.6L750.0 1935.5L752.3 1934.4L754.5 1933.2L756.8 1932.1L759.0 1930.9L761.3 1929.7L763.5 1928.5L765.8 1927.4L768.0 1926.2L770.3 1925.0L772.5 1923.8L774.8 1922.6L777.0 1921.4L779.3 1920.2L781.5 1919.0L783.8 1917.8L786.0 1916.6L788.3 1915.3L790.5 1914.1L792.8 1912.8L795.0 1911.5L797.3 1910.2L799.5 1908.9L801.8 1907.6L804.0 1906.3L806.3 1904.9L808.5 1903.6L810.8 1902.2L813.0 1900.8L815.3 1899.4L817.5 1898.0L819.8 1896.6L822.0 1895.1L824.3 1893.7L826.5 1892.2L828.8 1890.8L831.0 1889.3L833.3 1887.8L835.5 1886.3L837.8 1884.7L840.0 1883.2L842.3 1881.6L844.5 1880.1L846.8 1878.5L849.0 1876.9L851.3 1875.2L853.5 1873.6L855.8 1871.9L858.0 1870.3L860.3 1868.6L862.5 1866.9L864.8 1865.2L867.0 1863.4L869.3 1861.6L871.5 1859.9L873.8 1858.1L876.0 1856.2L878.3 1854.4L880.5 1852.5L882.8 1850.6L885.0 1848.7L887.3 1846.6L889.5 1844.6L891.8 1842.5L894.0 1840.4L896.3 1838.2L898.5 1836.1L900.8 1833.9L903.0 1831.7L905.3 1829.5L907.5 1827.3L909.8 1825.0L912.0 1822.9L914.3 1820.7L916.5 1818.5L918.8 1816.4L921.0 1814.2L923.3 1812.2L925.5 1810.1L927.8 1808.1L930.0 1806.1L932.3 1804.0L934.5 1802.0L936.8 1799.9L939.0 1797.9L941.3 1795.8L943.5 1793.8L945.8 1791.8L948.0 1789.8L950.3 1787.8L952.5 1785.8L954.8 1783.9L957.0 1782.0L959.3 1780.1L961.5 1778.2L963.8 1776.4L966.0 1774.6L968.3 1772.9L970.5 1771.2L972.8 1769.5L975.0 1767.9L977.3 1766.3L979.5 1764.8L981.8 1763.4L984.0 1761.9L986.3 1760.5L988.5 1759.1L990.8 1757.7L993.0 1756.3L995.3 1754.9L997.5 1753.4L999.8 1752.0L1002.0 1750.5L1004.3 1748.8L1006.5 1747.1L1008.8 1745.3L1011.0 1743.6L1013.3 1742.0L1015.5 1740.5L1017.8 1739.4L1020.0 1738.6L1022.3 1737.8L1024.5 1737.1L1026.8 1736.5L1029.0 1735.9L1031.3 1735.3L1033.5 1734.8L1035.8 1734.3L1038.0 1733.9L1040.3 1733.5L1042.5 1733.2L1044.8 1733.0L1047.0 1732.9L1049.3 1732.8L1051.5 1732.7L1053.8 1732.7L1056.0 1732.6L1058.3 1732.5L1060.5 1732.5L1062.8 1732.4L1065.0 1732.4L1067.3 1732.4L1069.5 1732.4L1071.8 1732.4L1074.0 1732.6L1076.3 1732.8L1078.5 1733.0L1080.8 1733.4L1083.0 1733.7L1085.3 1734.2L1087.5 1734.6L1089.8 1735.0L1092.0 1735.5L1094.3 1736.0L1096.5 1736.6L1098.8 1737.3L1101.0 1738.1L1103.3 1739.0L1105.5 1739.9L1107.8 1740.9L1110.0 1742.0L1112.3 1743.1L1114.5 1744.3L1116.8 1745.7L1119.0 1747.2L1121.3 1749.0L1123.5 1750.8L1125.8 1752.6L1128.0 1754.5L1130.3 1756.4L1132.5 1758.2L1134.8 1759.9L1137.0 1761.5L1139.3 1762.9L1141.5 1764.3L1143.8 1765.6L1146.0 1766.9L1148.3 1768.4L1150.5 1770.0L1152.8 1771.8L1155.0 1773.7L1157.3 1775.8L1159.5 1777.9L1161.8 1780.1L1164.0 1782.2L1166.3 1784.2L1168.5 1786.2L1170.8 1788.1L1173.0 1789.9L1175.3 1791.7L1177.5 1793.4L1179.8 1795.2L1182.0 1796.9L1184.3 1798.6L1186.5 1800.3L1188.8 1802.1L1191.0 1803.8L1193.3 1805.5L1195.5 1807.3L1197.8 1809.0L1200.0 1810.7L1202.3 1812.4L1204.5 1814.1L1206.8 1815.8L1209.0 1817.4L1211.3 1819.0L1213.5 1820.6L1215.8 1822.2L1218.0 1823.7L1220.3 1825.3L1222.5 1826.8L1224.8 1828.3L1227.0 1829.9L1229.3 1831.5L1231.5 1833.1L1233.8 1834.8L1236.0 1836.5L1238.3 1838.2L1240.5 1840.0L1242.8 1841.8L1245.0 1843.6L1247.3 1845.3L1249.5 1847.1L1251.8 1848.8L1254.0 1850.5L1256.3 1852.2L1258.5 1853.9L1260.8 1855.6L1263.0 1857.2L1265.3 1858.9L1267.5 1860.6L1269.8 1862.2L1272.0 1863.8L1274.3 1865.4L1276.5 1866.9L1278.8 1868.3L1281.0 1869.7L1283.3 1871.0L1285.5 1872.2L1287.8 1873.3L1290.0 1874.3L1292.3 1875.2L1294.5 1876.2L1296.8 1877.1L1299.0 1878.1L1301.3 1879.1L1303.5 1880.2L1305.8 1881.3L1308.0 1882.4L1310.3 1883.6L1312.5 1884.9L1314.8 1886.1L1317.0 1887.4L1319.3 1888.7L1321.5 1889.9L1323.8 1891.2L1326.0 1892.5L1328.3 1893.8L1330.5 1895.1L1332.8 1896.4L1335.0 1897.6L1337.3 1898.8L1339.5 1900.0L1341.8 1901.2L1344.0 1902.3L1346.3 1903.4L1348.5 1904.4L1350.8 1905.4L1353.0 1906.4L1355.3 1907.4L1357.5 1908.4L1359.8 1909.4L1362.0 1910.3L1364.3 1911.3L1366.5 1912.2L1368.8 1913.1L1371.0 1914.0L1373.3 1914.9L1375.5 1915.8L1377.8 1916.6L1380.0 1917.5L1382.3 1918.3L1384.5 1919.1L1386.8 1919.9L1389.0 1920.7L1391.3 1921.4L1393.5 1922.2L1395.8 1922.9L1398.0 1923.6L1400.3 1924.3L1402.5 1924.9L1404.8 1925.6L1407.0 1926.2L1409.3 1926.9L1411.5 1927.5L1413.8 1928.1L1416.0 1928.7L1418.3 1929.3L1420.5 1929.9L1422.8 1930.5L1425.0 1931.1L1427.3 1931.6L1429.5 1932.2L1431.8 1932.7L1434.0 1933.2L1436.3 1933.8L1438.5 1934.3L1440.8 1934.8L1443.0 1935.3L1445.3 1935.8L1447.5 1936.3L1449.8 1936.8L1452.0 1937.3L1454.3 1937.8L1456.5 1938.3L1458.8 1938.7L1461.0 1939.2L1463.3 1939.7L1465.5 1940.1L1467.8 1940.6L1470.0 1941.0L1472.3 1941.5L1474.5 1941.9L1476.8 1942.3L1479.0 1942.8L1481.3 1943.2L1483.5 1943.6L1485.8 1944.0L1488.0 1944.4L1490.3 1944.9L1492.5 1945.3L1494.8 1945.7L1497.0 1946.1L1499.3 1946.4L1501.5 1946.8L1503.8 1947.2L1506.0 1947.6L1508.3 1948.0L1510.5 1948.4L1512.8 1948.7L1515.0 1949.1L1517.3 1949.5L1519.5 1949.8L1521.8 1950.2L1524.0 1950.6L1526.3 1950.9L1528.5 1951.3L1530.8 1951.6L1533.0 1952.0L1535.3 1952.3L1537.5 1952.7L1539.8 1953.0L1542.0 1953.3L1544.3 1953.7L1546.5 1954.0L1548.8 1954.3L1551.0 1954.6L1553.3 1954.9L1555.5 1955.2L1557.8 1955.5L1560.0 1955.8L1562.3 1956.1L1564.5 1956.4L1566.8 1956.7L1569.0 1956.9L1571.3 1957.2L1573.5 1957.4L1575.8 1957.7L1578.0 1957.9L1580.3 1958.2L1582.5 1958.4L1584.8 1958.6L1587.0 1958.9L1589.3 1959.1L1591.5 1959.3L1593.8 1959.5L1596.0 1959.7L1598.3 1960.0L1600.5 1960.2L1602.8 1960.4L1605.0 1960.6L1607.3 1960.8L1609.5 1961.0L1611.8 1961.3L1614.0 1961.5L1616.3 1961.7L1618.5 1961.9L1620.8 1962.1L1623.0 1962.4L1625.3 1962.6L1627.5 1962.8L1629.8 1963.1L1632.0 1963.3L1634.3 1963.6L1636.5 1963.8L1638.8 1964.1L1641.0 1964.3L1643.3 1964.6L1645.5 1964.9L1647.8 1965.1L1650.0 1965.4L1652.3 1965.6L1654.5 1965.9L1656.8 1966.1L1659.0 1966.4L1661.3 1966.6L1663.5 1966.9L1665.8 1967.1L1668.0 1967.3L1670.3 1967.6L1672.5 1967.8L1674.8 1968.0L1677.0 1968.2L1679.3 1968.4L1681.5 1968.6L1683.8 1968.8L1686.0 1969.0L1688.3 1969.2L1690.5 1969.4L1692.8 1969.5L1695.0 1969.7L1697.3 1969.9L1699.5 1970.1L1701.8 1970.3L1704.0 1970.4L1706.3 1970.6L1708.5 1970.8L1710.8 1970.9L1713.0 1971.1L1715.3 1971.3L1717.5 1971.4L1719.8 1971.6L1722.0 1971.8L1724.3 1971.9L1726.5 1972.1L1728.8 1972.2L1731.0 1972.4L1733.3 1972.5L1735.5 1972.7L1737.8 1972.8L1740.0 1973.0L1742.3 1973.1L1744.5 1973.3L1746.8 1973.4L1749.0 1973.6L1751.3 1973.7L1753.5 1973.9L1755.8 1974.0L1758.0 1974.1L1760.3 1974.3L1762.5 1974.4L1764.8 1974.6L1767.0 1974.7L1769.3 1974.8L1771.5 1975.0L1773.8 1975.1L1776.0 1975.2L1778.3 1975.4L1780.5 1975.5L1782.8 1975.7L1785.0 1975.8L1787.3 1975.9L1789.5 1976.1L1791.8 1976.2L1794.0 1976.3L1796.3 1976.5L1798.5 1976.6L1800.8 1976.7L1803.0 1976.9L1805.3 1977.0L1807.5 1977.1L1809.8 1977.2L1812.0 1977.4L1814.3 1977.5L1816.5 1977.6L1818.8 1977.7L1821.0 1977.8L1823.3 1978.0L1825.5 1978.1L1827.8 1978.2L1830.0 1978.3L1832.3 1978.4L1834.5 1978.5L1836.8 1978.6L1839.0 1978.7L1841.3 1978.8L1843.5 1978.9L1845.8 1979.0L1848.0 1979.1L1850.3 1979.2L1852.5 1979.2L1854.8 1979.3L1857.0 1979.4L1859.3 1979.5L1861.5 1979.5L1863.8 1979.6L1866.0 1979.7L1868.3 1979.7L1870.5 1979.8L1872.8 1979.9L1875.0 1979.9L1877.3 1980.0L1879.5 1980.1L1881.8 1980.2L1884.0 1980.2L1886.3 1980.3L1888.5 1980.4L1890.8 1980.4L1893.0 1980.5L1895.3 1980.6L1897.5 1980.6L1899.8 1980.7L1902.0 1980.7L1904.3 1980.8L1906.5 1980.9L1908.8 1980.9L1911.0 1981.0L1913.3 1981.1L1915.5 1981.1L1917.8 1981.2L1920.0 1981.2L1922.3 1981.3L1924.5 1981.3L1926.8 1981.4L1929.0 1981.5L1931.3 1981.5L1933.5 1981.6L1935.8 1981.6L1938.0 1981.7L1940.3 1981.7L1942.5 1981.8L1944.8 1981.8L1947.0 1981.8L1949.3 1981.9L1951.5 1981.9L1953.8 1982.0L1956.0 1982.0L1958.3 1982.1L1960.5 1982.1L1962.8 1982.1L1965.0 1982.2L1967.3 1982.2L1969.5 1982.2L1971.8 1982.3L1974.0 1982.3L1976.3 1982.3L1978.5 1982.3L1980.8 1982.4L1983.0 1982.4L1985.3 1982.4L1987.5 1982.4L1989.8 1982.4L1992.0 1982.5L1994.3 1982.5L1996.5 1982.5L1998.8 1982.5L2001.0 1982.5" fill="none" stroke="#c2b07a" stroke-width="4.2" stroke-dasharray="17 11" stroke-dashoffset="0" stroke-linejoin="round"/>
<path d="M282.0 1982.5L284.2 1982.5L286.5 1982.5L288.8 1982.5L291.0 1982.5L293.3 1982.5L295.5 1982.5L297.8 1982.5L300.0 1982.5L302.3 1982.5L304.5 1982.4L306.8 1982.4L309.0 1982.4L311.3 1982.4L313.5 1982.4L315.8 1982.4L318.0 1982.4L320.3 1982.3L322.5 1982.3L324.8 1982.3L327.0 1982.3L329.3 1982.3L331.5 1982.2L333.8 1982.2L336.0 1982.2L338.3 1982.2L340.5 1982.1L342.8 1982.1L345.0 1982.1L347.3 1982.1L349.5 1982.0L351.8 1982.0L354.0 1982.0L356.3 1981.9L358.5 1981.9L360.8 1981.9L363.0 1981.9L365.3 1981.8L367.5 1981.8L369.8 1981.8L372.0 1981.7L374.3 1981.7L376.5 1981.6L378.8 1981.6L381.0 1981.6L383.3 1981.5L385.5 1981.5L387.8 1981.5L390.0 1981.4L392.3 1981.4L394.5 1981.3L396.8 1981.3L399.0 1981.3L401.3 1981.2L403.5 1981.2L405.8 1981.1L408.0 1981.1L410.3 1981.1L412.5 1981.0L414.8 1981.0L417.0 1980.9L419.3 1980.9L421.5 1980.8L423.8 1980.8L426.0 1980.7L428.3 1980.7L430.5 1980.6L432.8 1980.6L435.0 1980.5L437.3 1980.4L439.5 1980.4L441.8 1980.3L444.0 1980.2L446.3 1980.1L448.5 1980.0L450.8 1979.9L453.0 1979.9L455.3 1979.8L457.5 1979.7L459.8 1979.6L462.0 1979.5L464.3 1979.4L466.5 1979.3L468.8 1979.2L471.0 1979.1L473.3 1979.0L475.5 1978.9L477.8 1978.8L480.0 1978.7L482.3 1978.5L484.5 1978.4L486.8 1978.3L489.0 1978.2L491.3 1978.1L493.5 1978.0L495.8 1977.9L498.0 1977.8L500.3 1977.6L502.5 1977.5L504.8 1977.4L507.0 1977.3L509.3 1977.2L511.5 1977.1L513.8 1976.9L516.0 1976.8L518.3 1976.7L520.5 1976.6L522.8 1976.4L525.0 1976.3L527.3 1976.2L529.5 1976.0L531.8 1975.9L534.0 1975.7L536.3 1975.6L538.5 1975.4L540.8 1975.3L543.0 1975.1L545.3 1975.0L547.5 1974.8L549.8 1974.7L552.0 1974.5L554.3 1974.3L556.5 1974.2L558.8 1974.0L561.0 1973.8L563.3 1973.7L565.5 1973.5L567.8 1973.3L570.0 1973.2L572.3 1973.0L574.5 1972.8L576.8 1972.6L579.0 1972.5L581.3 1972.3L583.5 1972.1L585.8 1971.9L588.0 1971.7L590.3 1971.6L592.5 1971.4L594.8 1971.2L597.0 1971.0L599.3 1970.8L601.5 1970.7L603.8 1970.5L606.0 1970.3L608.3 1970.1L610.5 1969.9L612.8 1969.7L615.0 1969.5L617.3 1969.3L619.5 1969.1L621.8 1968.9L624.0 1968.7L626.3 1968.5L628.5 1968.3L630.8 1968.0L633.0 1967.8L635.3 1967.6L637.5 1967.4L639.8 1967.2L642.0 1966.9L644.3 1966.7L646.5 1966.5L648.8 1966.3L651.0 1966.0L653.3 1965.8L655.5 1965.6L657.8 1965.4L660.0 1965.1L662.3 1964.9L664.5 1964.7L666.8 1964.4L669.0 1964.2L671.3 1964.0L673.5 1963.7L675.8 1963.5L678.0 1963.3L680.3 1963.0L682.5 1962.8L684.8 1962.6L687.0 1962.3L689.3 1962.1L691.5 1961.9L693.8 1961.7L696.0 1961.4L698.3 1961.2L700.5 1961.0L702.8 1960.8L705.0 1960.6L707.3 1960.3L709.5 1960.1L711.8 1959.9L714.0 1959.7L716.3 1959.5L718.5 1959.3L720.8 1959.1L723.0 1958.9L725.3 1958.7L727.5 1958.5L729.8 1958.3L732.0 1958.1L734.3 1957.9L736.5 1957.6L738.8 1957.4L741.0 1957.2L743.3 1957.0L745.5 1956.7L747.8 1956.5L750.0 1956.2L752.3 1956.0L754.5 1955.7L756.8 1955.5L759.0 1955.2L761.3 1954.9L763.5 1954.6L765.8 1954.3L768.0 1954.0L770.3 1953.6L772.5 1953.3L774.8 1953.0L777.0 1952.6L779.3 1952.2L781.5 1951.8L783.8 1951.3L786.0 1950.8L788.3 1950.3L790.5 1949.8L792.8 1949.2L795.0 1948.6L797.3 1948.0L799.5 1947.3L801.8 1946.6L804.0 1945.9L806.3 1945.2L808.5 1944.5L810.8 1943.7L813.0 1943.0L815.3 1942.2L817.5 1941.4L819.8 1940.6L822.0 1939.9L824.3 1939.1L826.5 1938.3L828.8 1937.5L831.0 1936.7L833.3 1935.9L835.5 1935.1L837.8 1934.3L840.0 1933.5L842.3 1932.7L844.5 1932.0L846.8 1931.2L849.0 1930.5L851.3 1929.7L853.5 1929.0L855.8 1928.3L858.0 1927.5L860.3 1926.8L862.5 1926.0L864.8 1925.3L867.0 1924.6L869.3 1923.8L871.5 1923.1L873.8 1922.3L876.0 1921.5L878.3 1920.8L880.5 1920.0L882.8 1919.2L885.0 1918.5L887.3 1917.7L889.5 1916.9L891.8 1916.1L894.0 1915.3L896.3 1914.4L898.5 1913.6L900.8 1912.8L903.0 1911.9L905.3 1911.1L907.5 1910.2L909.8 1909.4L912.0 1908.5L914.3 1907.6L916.5 1906.7L918.8 1905.7L921.0 1904.8L923.3 1903.8L925.5 1902.9L927.8 1901.9L930.0 1900.9L932.3 1899.9L934.5 1898.9L936.8 1897.9L939.0 1896.9L941.3 1895.9L943.5 1894.9L945.8 1893.8L948.0 1892.8L950.3 1891.7L952.5 1890.7L954.8 1889.6L957.0 1888.6L959.3 1887.5L961.5 1886.5L963.8 1885.4L966.0 1884.3L968.3 1883.3L970.5 1882.2L972.8 1881.1L975.0 1880.1L977.3 1879.0L979.5 1878.0L981.8 1877.0L984.0 1876.0L986.3 1874.9L988.5 1873.9L990.8 1872.9L993.0 1871.8L995.3 1870.8L997.5 1869.8L999.8 1868.7L1002.0 1867.7L1004.3 1866.6L1006.5 1865.5L1008.8 1864.4L1011.0 1863.3L1013.3 1862.2L1015.5 1861.0L1017.8 1859.9L1020.0 1858.7L1022.3 1857.5L1024.5 1856.2L1026.8 1855.0L1029.0 1853.7L1031.3 1852.3L1033.5 1851.0L1035.8 1849.6L1038.0 1848.1L1040.3 1846.5L1042.5 1844.9L1044.8 1843.3L1047.0 1841.5L1049.3 1839.7L1051.5 1837.9L1053.8 1836.1L1056.0 1834.2L1058.3 1832.3L1060.5 1830.4L1062.8 1828.5L1065.0 1826.6L1067.3 1824.6L1069.5 1822.7L1071.8 1820.9L1074.0 1819.0L1076.3 1817.1L1078.5 1815.3L1080.8 1813.6L1083.0 1811.9L1085.3 1810.1L1087.5 1808.4L1089.8 1806.7L1092.0 1805.1L1094.3 1803.4L1096.5 1801.7L1098.8 1800.0L1101.0 1798.3L1103.3 1796.7L1105.5 1795.0L1107.8 1793.4L1110.0 1791.7L1112.3 1790.1L1114.5 1788.4L1116.8 1786.8L1119.0 1785.1L1121.3 1783.5L1123.5 1781.8L1125.8 1780.2L1128.0 1778.5L1130.3 1776.9L1132.5 1775.3L1134.8 1773.6L1137.0 1772.0L1139.3 1770.4L1141.5 1768.8L1143.8 1767.1L1146.0 1765.4L1148.3 1763.6L1150.5 1761.8L1152.8 1760.0L1155.0 1758.1L1157.3 1756.2L1159.5 1754.3L1161.8 1752.4L1164.0 1750.6L1166.3 1748.8L1168.5 1747.2L1170.8 1745.6L1173.0 1744.0L1175.3 1742.3L1177.5 1740.6L1179.8 1738.9L1182.0 1737.3L1184.3 1735.9L1186.5 1734.7L1188.8 1733.7L1191.0 1733.1L1193.3 1732.7L1195.5 1732.4L1197.8 1732.2L1200.0 1731.9L1202.3 1731.7L1204.5 1731.5L1206.8 1731.3L1209.0 1731.1L1211.3 1731.0L1213.5 1730.8L1215.8 1730.7L1218.0 1730.7L1220.3 1730.6L1222.5 1730.6L1224.8 1730.6L1227.0 1730.6L1229.3 1730.8L1231.5 1731.1L1233.8 1731.4L1236.0 1731.8L1238.3 1732.3L1240.5 1732.8L1242.8 1733.3L1245.0 1733.9L1247.3 1734.6L1249.5 1735.2L1251.8 1735.9L1254.0 1736.5L1256.3 1737.2L1258.5 1738.0L1260.8 1738.9L1263.0 1739.8L1265.3 1740.8L1267.5 1742.0L1269.8 1743.1L1272.0 1744.3L1274.3 1745.6L1276.5 1746.9L1278.8 1748.2L1281.0 1749.5L1283.3 1750.8L1285.5 1752.1L1287.8 1753.5L1290.0 1754.8L1292.3 1756.2L1294.5 1757.6L1296.8 1759.1L1299.0 1760.6L1301.3 1762.1L1303.5 1763.7L1305.8 1765.3L1308.0 1766.9L1310.3 1768.6L1312.5 1770.4L1314.8 1772.2L1317.0 1774.0L1319.3 1775.9L1321.5 1778.0L1323.8 1780.2L1326.0 1782.5L1328.3 1784.8L1330.5 1787.3L1332.8 1789.7L1335.0 1792.2L1337.3 1794.6L1339.5 1797.0L1341.8 1799.3L1344.0 1801.6L1346.3 1803.7L1348.5 1805.7L1350.8 1807.6L1353.0 1809.5L1355.3 1811.3L1357.5 1813.1L1359.8 1814.9L1362.0 1816.6L1364.3 1818.3L1366.5 1820.0L1368.8 1821.7L1371.0 1823.4L1373.3 1825.1L1375.5 1826.8L1377.8 1828.6L1380.0 1830.3L1382.3 1832.1L1384.5 1833.9L1386.8 1835.7L1389.0 1837.5L1391.3 1839.3L1393.5 1841.1L1395.8 1842.9L1398.0 1844.7L1400.3 1846.5L1402.5 1848.3L1404.8 1850.2L1407.0 1852.1L1409.3 1853.9L1411.5 1855.9L1413.8 1857.8L1416.0 1859.8L1418.3 1861.8L1420.5 1863.9L1422.8 1866.0L1425.0 1868.0L1427.3 1870.1L1429.5 1872.1L1431.8 1874.2L1434.0 1876.1L1436.3 1878.1L1438.5 1880.0L1440.8 1881.8L1443.0 1883.6L1445.3 1885.3L1447.5 1887.0L1449.8 1888.7L1452.0 1890.4L1454.3 1892.0L1456.5 1893.6L1458.8 1895.2L1461.0 1896.8L1463.3 1898.3L1465.5 1899.8L1467.8 1901.3L1470.0 1902.8L1472.3 1904.3L1474.5 1905.7L1476.8 1907.1L1479.0 1908.5L1481.3 1909.9L1483.5 1911.2L1485.8 1912.5L1488.0 1913.9L1490.3 1915.2L1492.5 1916.4L1494.8 1917.7L1497.0 1919.0L1499.3 1920.2L1501.5 1921.5L1503.8 1922.7L1506.0 1923.9L1508.3 1925.1L1510.5 1926.3L1512.8 1927.5L1515.0 1928.7L1517.3 1929.9L1519.5 1931.1L1521.8 1932.2L1524.0 1933.4L1526.3 1934.5L1528.5 1935.5L1530.8 1936.6L1533.0 1937.6L1535.3 1938.6L1537.5 1939.6L1539.8 1940.6L1542.0 1941.6L1544.3 1942.5L1546.5 1943.4L1548.8 1944.3L1551.0 1945.2L1553.3 1946.1L1555.5 1947.0L1557.8 1947.8L1560.0 1948.6L1562.3 1949.4L1564.5 1950.2L1566.8 1951.0L1569.0 1951.7L1571.3 1952.5L1573.5 1953.3L1575.8 1954.0L1578.0 1954.8L1580.3 1955.5L1582.5 1956.2L1584.8 1956.9L1587.0 1957.5L1589.3 1958.1L1591.5 1958.7L1593.8 1959.2L1596.0 1959.6L1598.3 1960.0L1600.5 1960.4L1602.8 1960.8L1605.0 1961.2L1607.3 1961.6L1609.5 1961.9L1611.8 1962.3L1614.0 1962.6L1616.3 1963.0L1618.5 1963.3L1620.8 1963.6L1623.0 1963.9L1625.3 1964.2L1627.5 1964.5L1629.8 1964.8L1632.0 1965.1L1634.3 1965.3L1636.5 1965.6L1638.8 1965.9L1641.0 1966.1L1643.3 1966.4L1645.5 1966.6L1647.8 1966.8L1650.0 1967.1L1652.3 1967.3L1654.5 1967.5L1656.8 1967.7L1659.0 1967.9L1661.3 1968.1L1663.5 1968.3L1665.8 1968.5L1668.0 1968.7L1670.3 1968.9L1672.5 1969.1L1674.8 1969.3L1677.0 1969.5L1679.3 1969.7L1681.5 1969.9L1683.8 1970.1L1686.0 1970.2L1688.3 1970.4L1690.5 1970.6L1692.8 1970.7L1695.0 1970.9L1697.3 1971.1L1699.5 1971.2L1701.8 1971.4L1704.0 1971.5L1706.3 1971.7L1708.5 1971.8L1710.8 1972.0L1713.0 1972.1L1715.3 1972.3L1717.5 1972.4L1719.8 1972.5L1722.0 1972.7L1724.3 1972.8L1726.5 1973.0L1728.8 1973.1L1731.0 1973.2L1733.3 1973.4L1735.5 1973.5L1737.8 1973.6L1740.0 1973.7L1742.3 1973.9L1744.5 1974.0L1746.8 1974.1L1749.0 1974.2L1751.3 1974.4L1753.5 1974.5L1755.8 1974.6L1758.0 1974.7L1760.3 1974.9L1762.5 1975.0L1764.8 1975.1L1767.0 1975.2L1769.3 1975.3L1771.5 1975.5L1773.8 1975.6L1776.0 1975.7L1778.3 1975.8L1780.5 1975.9L1782.8 1976.1L1785.0 1976.2L1787.3 1976.3L1789.5 1976.4L1791.8 1976.5L1794.0 1976.7L1796.3 1976.8L1798.5 1976.9L1800.8 1977.0L1803.0 1977.1L1805.3 1977.2L1807.5 1977.3L1809.8 1977.5L1812.0 1977.6L1814.3 1977.7L1816.5 1977.8L1818.8 1977.9L1821.0 1978.0L1823.3 1978.1L1825.5 1978.2L1827.8 1978.3L1830.0 1978.4L1832.3 1978.5L1834.5 1978.6L1836.8 1978.7L1839.0 1978.8L1841.3 1978.8L1843.5 1978.9L1845.8 1979.0L1848.0 1979.1L1850.3 1979.2L1852.5 1979.2L1854.8 1979.3L1857.0 1979.4L1859.3 1979.4L1861.5 1979.5L1863.8 1979.6L1866.0 1979.7L1868.3 1979.7L1870.5 1979.8L1872.8 1979.9L1875.0 1979.9L1877.3 1980.0L1879.5 1980.1L1881.8 1980.1L1884.0 1980.2L1886.3 1980.2L1888.5 1980.3L1890.8 1980.4L1893.0 1980.4L1895.3 1980.5L1897.5 1980.6L1899.8 1980.6L1902.0 1980.7L1904.3 1980.7L1906.5 1980.8L1908.8 1980.9L1911.0 1980.9L1913.3 1981.0L1915.5 1981.0L1917.8 1981.1L1920.0 1981.2L1922.3 1981.2L1924.5 1981.3L1926.8 1981.3L1929.0 1981.4L1931.3 1981.4L1933.5 1981.5L1935.8 1981.5L1938.0 1981.6L1940.3 1981.6L1942.5 1981.7L1944.8 1981.7L1947.0 1981.8L1949.3 1981.8L1951.5 1981.8L1953.8 1981.9L1956.0 1981.9L1958.3 1982.0L1960.5 1982.0L1962.8 1982.0L1965.0 1982.1L1967.3 1982.1L1969.5 1982.2L1971.8 1982.2L1974.0 1982.2L1976.3 1982.3L1978.5 1982.3L1980.8 1982.3L1983.0 1982.3L1985.3 1982.4L1987.5 1982.4L1989.8 1982.4L1992.0 1982.4L1994.3 1982.4L1996.5 1982.5L1998.8 1982.5L2001.0 1982.5" fill="none" stroke="#c2b07a" stroke-width="4.2" stroke-dasharray="17 11" stroke-dashoffset="14" stroke-linejoin="round"/>
<path d="M282.0 1982.5L284.2 1982.5L286.5 1982.5L288.8 1982.5L291.0 1982.5L293.3 1982.5L295.5 1982.5L297.8 1982.5L300.0 1982.5L302.3 1982.5L304.5 1982.5L306.8 1982.5L309.0 1982.5L311.3 1982.5L313.5 1982.5L315.8 1982.5L318.0 1982.5L320.3 1982.5L322.5 1982.5L324.8 1982.5L327.0 1982.5L329.3 1982.5L331.5 1982.5L333.8 1982.5L336.0 1982.5L338.3 1982.5L340.5 1982.5L342.8 1982.5L345.0 1982.5L347.3 1982.5L349.5 1982.5L351.8 1982.5L354.0 1982.5L356.3 1982.5L358.5 1982.5L360.8 1982.5L363.0 1982.5L365.3 1982.5L367.5 1982.5L369.8 1982.5L372.0 1982.5L374.3 1982.5L376.5 1982.5L378.8 1982.5L381.0 1982.5L383.3 1982.5L385.5 1982.5L387.8 1982.5L390.0 1982.5L392.3 1982.5L394.5 1982.5L396.8 1982.5L399.0 1982.5L401.3 1982.5L403.5 1982.5L405.8 1982.5L408.0 1982.5L410.3 1982.5L412.5 1982.5L414.8 1982.5L417.0 1982.5L419.3 1982.5L421.5 1982.5L423.8 1982.5L426.0 1982.5L428.3 1982.5L430.5 1982.5L432.8 1982.5L435.0 1982.5L437.3 1982.5L439.5 1982.5L441.8 1982.5L444.0 1982.5L446.3 1982.5L448.5 1982.5L450.8 1982.5L453.0 1982.5L455.3 1982.5L457.5 1982.5L459.8 1982.5L462.0 1982.5L464.3 1982.5L466.5 1982.5L468.8 1982.5L471.0 1982.5L473.3 1982.5L475.5 1982.5L477.8 1982.5L480.0 1982.5L482.3 1982.5L484.5 1982.5L486.8 1982.5L489.0 1982.5L491.3 1982.5L493.5 1982.5L495.8 1982.5L498.0 1982.5L500.3 1982.5L502.5 1982.5L504.8 1982.5L507.0 1982.5L509.3 1982.5L511.5 1982.5L513.8 1982.5L516.0 1982.5L518.3 1982.4L520.5 1982.4L522.8 1982.4L525.0 1982.4L527.3 1982.4L529.5 1982.4L531.8 1982.4L534.0 1982.4L536.3 1982.4L538.5 1982.4L540.8 1982.4L543.0 1982.4L545.3 1982.4L547.5 1982.4L549.8 1982.4L552.0 1982.4L554.3 1982.4L556.5 1982.4L558.8 1982.4L561.0 1982.4L563.3 1982.4L565.5 1982.4L567.8 1982.4L570.0 1982.4L572.3 1982.4L574.5 1982.4L576.8 1982.4L579.0 1982.4L581.3 1982.4L583.5 1982.4L585.8 1982.4L588.0 1982.4L590.3 1982.4L592.5 1982.4L594.8 1982.4L597.0 1982.4L599.3 1982.4L601.5 1982.4L603.8 1982.4L606.0 1982.4L608.3 1982.4L610.5 1982.4L612.8 1982.4L615.0 1982.4L617.3 1982.4L619.5 1982.4L621.8 1982.4L624.0 1982.4L626.3 1982.4L628.5 1982.4L630.8 1982.4L633.0 1982.4L635.3 1982.4L637.5 1982.4L639.8 1982.4L642.0 1982.4L644.3 1982.4L646.5 1982.3L648.8 1982.3L651.0 1982.3L653.3 1982.3L655.5 1982.3L657.8 1982.3L660.0 1982.3L662.3 1982.3L664.5 1982.3L666.8 1982.3L669.0 1982.3L671.3 1982.3L673.5 1982.3L675.8 1982.3L678.0 1982.3L680.3 1982.3L682.5 1982.3L684.8 1982.3L687.0 1982.3L689.3 1982.3L691.5 1982.3L693.8 1982.3L696.0 1982.3L698.3 1982.3L700.5 1982.3L702.8 1982.3L705.0 1982.3L707.3 1982.3L709.5 1982.3L711.8 1982.3L714.0 1982.3L716.3 1982.3L718.5 1982.3L720.8 1982.3L723.0 1982.3L725.3 1982.3L727.5 1982.2L729.8 1982.2L732.0 1982.2L734.3 1982.2L736.5 1982.2L738.8 1982.2L741.0 1982.2L743.3 1982.2L745.5 1982.2L747.8 1982.2L750.0 1982.2L752.3 1982.2L754.5 1982.2L756.8 1982.2L759.0 1982.2L761.3 1982.2L763.5 1982.2L765.8 1982.2L768.0 1982.2L770.3 1982.2L772.5 1982.2L774.8 1982.2L777.0 1982.2L779.3 1982.2L781.5 1982.2L783.8 1982.2L786.0 1982.2L788.3 1982.1L790.5 1982.1L792.8 1982.1L795.0 1982.1L797.3 1982.1L799.5 1982.1L801.8 1982.1L804.0 1982.1L806.3 1982.1L808.5 1982.1L810.8 1982.1L813.0 1982.1L815.3 1982.1L817.5 1982.1L819.8 1982.1L822.0 1982.1L824.3 1982.1L826.5 1982.1L828.8 1982.1L831.0 1982.1L833.3 1982.1L835.5 1982.1L837.8 1982.0L840.0 1982.0L842.3 1982.0L844.5 1982.0L846.8 1982.0L849.0 1982.0L851.3 1982.0L853.5 1982.0L855.8 1982.0L858.0 1982.0L860.3 1982.0L862.5 1982.0L864.8 1982.0L867.0 1982.0L869.3 1982.0L871.5 1981.9L873.8 1981.9L876.0 1981.9L878.3 1981.8L880.5 1981.8L882.8 1981.7L885.0 1981.6L887.3 1981.5L889.5 1981.4L891.8 1981.4L894.0 1981.3L896.3 1981.2L898.5 1981.1L900.8 1981.0L903.0 1980.8L905.3 1980.7L907.5 1980.6L909.8 1980.5L912.0 1980.4L914.3 1980.3L916.5 1980.2L918.8 1980.1L921.0 1980.0L923.3 1979.8L925.5 1979.7L927.8 1979.6L930.0 1979.4L932.3 1979.3L934.5 1979.2L936.8 1979.0L939.0 1978.8L941.3 1978.7L943.5 1978.5L945.8 1978.3L948.0 1978.1L950.3 1977.9L952.5 1977.7L954.8 1977.5L957.0 1977.3L959.3 1977.1L961.5 1976.8L963.8 1976.6L966.0 1976.3L968.3 1976.0L970.5 1975.7L972.8 1975.4L975.0 1975.1L977.3 1974.7L979.5 1974.3L981.8 1973.9L984.0 1973.5L986.3 1973.1L988.5 1972.7L990.8 1972.2L993.0 1971.7L995.3 1971.2L997.5 1970.7L999.8 1970.1L1002.0 1969.5L1004.3 1968.9L1006.5 1968.1L1008.8 1967.2L1011.0 1966.3L1013.3 1965.3L1015.5 1964.2L1017.8 1963.0L1020.0 1961.7L1022.3 1960.3L1024.5 1958.8L1026.8 1957.1L1029.0 1955.3L1031.3 1953.4L1033.5 1951.4L1035.8 1949.3L1038.0 1947.0L1040.3 1944.7L1042.5 1942.3L1044.8 1939.9L1047.0 1937.3L1049.3 1934.5L1051.5 1931.6L1053.8 1928.4L1056.0 1925.1L1058.3 1921.6L1060.5 1917.8L1062.8 1913.8L1065.0 1909.6L1067.3 1905.1L1069.5 1900.0L1071.8 1894.2L1074.0 1887.8L1076.3 1881.1L1078.5 1874.1L1080.8 1867.1L1083.0 1860.1L1085.3 1853.0L1087.5 1845.7L1089.8 1838.2L1092.0 1830.5L1094.3 1822.6L1096.5 1814.6L1098.8 1806.4L1101.0 1797.5L1103.3 1788.3L1105.5 1779.2L1107.8 1770.4L1110.0 1762.5L1112.3 1755.5L1114.5 1748.7L1116.8 1742.2L1119.0 1736.3L1121.3 1731.4L1123.5 1727.7L1125.8 1724.7L1128.0 1722.1L1130.3 1720.5L1132.5 1720.4L1134.8 1722.6L1137.0 1726.7L1139.3 1732.1L1141.5 1738.1L1143.8 1747.0L1146.0 1759.0L1148.3 1770.3L1150.5 1780.7L1152.8 1791.0L1155.0 1801.0L1157.3 1810.6L1159.5 1819.7L1161.8 1828.3L1164.0 1836.6L1166.3 1844.6L1168.5 1852.2L1170.8 1859.4L1173.0 1866.5L1175.3 1873.3L1177.5 1879.8L1179.8 1885.9L1182.0 1891.5L1184.3 1896.6L1186.5 1901.2L1188.8 1905.6L1191.0 1909.7L1193.3 1913.8L1195.5 1917.7L1197.8 1921.6L1200.0 1925.2L1202.3 1928.7L1204.5 1931.9L1206.8 1934.9L1209.0 1937.8L1211.3 1940.7L1213.5 1943.5L1215.8 1946.1L1218.0 1948.6L1220.3 1950.9L1222.5 1953.1L1224.8 1954.9L1227.0 1956.5L1229.3 1957.9L1231.5 1959.2L1233.8 1960.5L1236.0 1961.7L1238.3 1962.8L1240.5 1963.9L1242.8 1964.8L1245.0 1965.8L1247.3 1966.6L1249.5 1967.4L1251.8 1968.1L1254.0 1968.8L1256.3 1969.4L1258.5 1969.9L1260.8 1970.5L1263.0 1971.0L1265.3 1971.5L1267.5 1971.9L1269.8 1972.4L1272.0 1972.8L1274.3 1973.2L1276.5 1973.6L1278.8 1974.0L1281.0 1974.3L1283.3 1974.7L1285.5 1975.0L1287.8 1975.3L1290.0 1975.6L1292.3 1975.9L1294.5 1976.1L1296.8 1976.3L1299.0 1976.5L1301.3 1976.7L1303.5 1976.9L1305.8 1977.1L1308.0 1977.3L1310.3 1977.4L1312.5 1977.6L1314.8 1977.7L1317.0 1977.9L1319.3 1978.0L1321.5 1978.2L1323.8 1978.3L1326.0 1978.4L1328.3 1978.5L1330.5 1978.7L1332.8 1978.8L1335.0 1978.9L1337.3 1979.0L1339.5 1979.1L1341.8 1979.2L1344.0 1979.3L1346.3 1979.4L1348.5 1979.4L1350.8 1979.5L1353.0 1979.6L1355.3 1979.7L1357.5 1979.8L1359.8 1979.8L1362.0 1979.9L1364.3 1980.0L1366.5 1980.0L1368.8 1980.1L1371.0 1980.2L1373.3 1980.2L1375.5 1980.3L1377.8 1980.4L1380.0 1980.4L1382.3 1980.5L1384.5 1980.5L1386.8 1980.6L1389.0 1980.7L1391.3 1980.7L1393.5 1980.8L1395.8 1980.8L1398.0 1980.9L1400.3 1981.0L1402.5 1981.0L1404.8 1981.1L1407.0 1981.1L1409.3 1981.2L1411.5 1981.2L1413.8 1981.3L1416.0 1981.3L1418.3 1981.3L1420.5 1981.4L1422.8 1981.4L1425.0 1981.5L1427.3 1981.5L1429.5 1981.5L1431.8 1981.6L1434.0 1981.6L1436.3 1981.6L1438.5 1981.6L1440.8 1981.6L1443.0 1981.7L1445.3 1981.7L1447.5 1981.7L1449.8 1981.7L1452.0 1981.7L1454.3 1981.7L1456.5 1981.7L1458.8 1981.7L1461.0 1981.7L1463.3 1981.8L1465.5 1981.8L1467.8 1981.8L1470.0 1981.8L1472.3 1981.8L1474.5 1981.8L1476.8 1981.8L1479.0 1981.8L1481.3 1981.8L1483.5 1981.8L1485.8 1981.8L1488.0 1981.8L1490.3 1981.8L1492.5 1981.8L1494.8 1981.9L1497.0 1981.9L1499.3 1981.9L1501.5 1981.9L1503.8 1981.9L1506.0 1981.9L1508.3 1981.9L1510.5 1981.9L1512.8 1981.9L1515.0 1981.9L1517.3 1981.9L1519.5 1981.9L1521.8 1981.9L1524.0 1981.9L1526.3 1981.9L1528.5 1982.0L1530.8 1982.0L1533.0 1982.0L1535.3 1982.0L1537.5 1982.0L1539.8 1982.0L1542.0 1982.0L1544.3 1982.0L1546.5 1982.0L1548.8 1982.0L1551.0 1982.0L1553.3 1982.0L1555.5 1982.0L1557.8 1982.0L1560.0 1982.0L1562.3 1982.0L1564.5 1982.0L1566.8 1982.0L1569.0 1982.1L1571.3 1982.1L1573.5 1982.1L1575.8 1982.1L1578.0 1982.1L1580.3 1982.1L1582.5 1982.1L1584.8 1982.1L1587.0 1982.1L1589.3 1982.1L1591.5 1982.1L1593.8 1982.1L1596.0 1982.1L1598.3 1982.1L1600.5 1982.1L1602.8 1982.1L1605.0 1982.1L1607.3 1982.1L1609.5 1982.1L1611.8 1982.1L1614.0 1982.2L1616.3 1982.2L1618.5 1982.2L1620.8 1982.2L1623.0 1982.2L1625.3 1982.2L1627.5 1982.2L1629.8 1982.2L1632.0 1982.2L1634.3 1982.2L1636.5 1982.2L1638.8 1982.2L1641.0 1982.2L1643.3 1982.2L1645.5 1982.2L1647.8 1982.2L1650.0 1982.2L1652.3 1982.2L1654.5 1982.2L1656.8 1982.2L1659.0 1982.2L1661.3 1982.2L1663.5 1982.2L1665.8 1982.2L1668.0 1982.3L1670.3 1982.3L1672.5 1982.3L1674.8 1982.3L1677.0 1982.3L1679.3 1982.3L1681.5 1982.3L1683.8 1982.3L1686.0 1982.3L1688.3 1982.3L1690.5 1982.3L1692.8 1982.3L1695.0 1982.3L1697.3 1982.3L1699.5 1982.3L1701.8 1982.3L1704.0 1982.3L1706.3 1982.3L1708.5 1982.3L1710.8 1982.3L1713.0 1982.3L1715.3 1982.3L1717.5 1982.3L1719.8 1982.3L1722.0 1982.3L1724.3 1982.3L1726.5 1982.3L1728.8 1982.3L1731.0 1982.3L1733.3 1982.3L1735.5 1982.4L1737.8 1982.4L1740.0 1982.4L1742.3 1982.4L1744.5 1982.4L1746.8 1982.4L1749.0 1982.4L1751.3 1982.4L1753.5 1982.4L1755.8 1982.4L1758.0 1982.4L1760.3 1982.4L1762.5 1982.4L1764.8 1982.4L1767.0 1982.4L1769.3 1982.4L1771.5 1982.4L1773.8 1982.4L1776.0 1982.4L1778.3 1982.4L1780.5 1982.4L1782.8 1982.4L1785.0 1982.4L1787.3 1982.4L1789.5 1982.4L1791.8 1982.4L1794.0 1982.4L1796.3 1982.4L1798.5 1982.4L1800.8 1982.4L1803.0 1982.4L1805.3 1982.4L1807.5 1982.4L1809.8 1982.4L1812.0 1982.4L1814.3 1982.4L1816.5 1982.4L1818.8 1982.4L1821.0 1982.4L1823.3 1982.4L1825.5 1982.4L1827.8 1982.4L1830.0 1982.4L1832.3 1982.4L1834.5 1982.4L1836.8 1982.4L1839.0 1982.4L1841.3 1982.5L1843.5 1982.5L1845.8 1982.5L1848.0 1982.5L1850.3 1982.5L1852.5 1982.5L1854.8 1982.5L1857.0 1982.5L1859.3 1982.5L1861.5 1982.5L1863.8 1982.5L1866.0 1982.5L1868.3 1982.5L1870.5 1982.5L1872.8 1982.5L1875.0 1982.5L1877.3 1982.5L1879.5 1982.5L1881.8 1982.5L1884.0 1982.5L1886.3 1982.5L1888.5 1982.5L1890.8 1982.5L1893.0 1982.5L1895.3 1982.5L1897.5 1982.5L1899.8 1982.5L1902.0 1982.5L1904.3 1982.5L1906.5 1982.5L1908.8 1982.5L1911.0 1982.5L1913.3 1982.5L1915.5 1982.5L1917.8 1982.5L1920.0 1982.5L1922.3 1982.5L1924.5 1982.5L1926.8 1982.5L1929.0 1982.5L1931.3 1982.5L1933.5 1982.5L1935.8 1982.5L1938.0 1982.5L1940.3 1982.5L1942.5 1982.5L1944.8 1982.5L1947.0 1982.5L1949.3 1982.5L1951.5 1982.5L1953.8 1982.5L1956.0 1982.5L1958.3 1982.5L1960.5 1982.5L1962.8 1982.5L1965.0 1982.5L1967.3 1982.5L1969.5 1982.5L1971.8 1982.5L1974.0 1982.5L1976.3 1982.5L1978.5 1982.5L1980.8 1982.5L1983.0 1982.5L1985.3 1982.5L1987.5 1982.5L1989.8 1982.5L1992.0 1982.5L1994.3 1982.5L1996.5 1982.5L1998.8 1982.5L2001.0 1982.5" fill="none" stroke="#e8a030" stroke-width="3.5" stroke-linejoin="round"/>
<path d="M282.0 1982.5L284.2 1982.5L286.5 1982.5L288.8 1982.5L291.0 1982.5L293.3 1982.5L295.5 1982.5L297.8 1982.5L300.0 1982.5L302.3 1982.5L304.5 1982.5L306.8 1982.5L309.0 1982.5L311.3 1982.5L313.5 1982.5L315.8 1982.5L318.0 1982.5L320.3 1982.5L322.5 1982.5L324.8 1982.5L327.0 1982.5L329.3 1982.5L331.5 1982.5L333.8 1982.5L336.0 1982.5L338.3 1982.5L340.5 1982.5L342.8 1982.5L345.0 1982.5L347.3 1982.5L349.5 1982.5L351.8 1982.5L354.0 1982.5L356.3 1982.5L358.5 1982.5L360.8 1982.5L363.0 1982.5L365.3 1982.5L367.5 1982.5L369.8 1982.5L372.0 1982.5L374.3 1982.5L376.5 1982.5L378.8 1982.5L381.0 1982.5L383.3 1982.5L385.5 1982.5L387.8 1982.5L390.0 1982.5L392.3 1982.5L394.5 1982.5L396.8 1982.5L399.0 1982.5L401.3 1982.5L403.5 1982.5L405.8 1982.5L408.0 1982.5L410.3 1982.5L412.5 1982.5L414.8 1982.5L417.0 1982.5L419.3 1982.5L421.5 1982.5L423.8 1982.5L426.0 1982.5L428.3 1982.5L430.5 1982.5L432.8 1982.5L435.0 1982.5L437.3 1982.5L439.5 1982.5L441.8 1982.5L444.0 1982.5L446.3 1982.5L448.5 1982.5L450.8 1982.5L453.0 1982.5L455.3 1982.5L457.5 1982.5L459.8 1982.5L462.0 1982.5L464.3 1982.5L466.5 1982.5L468.8 1982.5L471.0 1982.5L473.3 1982.5L475.5 1982.5L477.8 1982.5L480.0 1982.5L482.3 1982.5L484.5 1982.5L486.8 1982.5L489.0 1982.5L491.3 1982.5L493.5 1982.5L495.8 1982.5L498.0 1982.5L500.3 1982.5L502.5 1982.5L504.8 1982.5L507.0 1982.5L509.3 1982.5L511.5 1982.5L513.8 1982.5L516.0 1982.5L518.3 1982.5L520.5 1982.5L522.8 1982.5L525.0 1982.5L527.3 1982.5L529.5 1982.5L531.8 1982.5L534.0 1982.5L536.3 1982.5L538.5 1982.5L540.8 1982.5L543.0 1982.5L545.3 1982.5L547.5 1982.5L549.8 1982.5L552.0 1982.5L554.3 1982.5L556.5 1982.5L558.8 1982.5L561.0 1982.5L563.3 1982.5L565.5 1982.5L567.8 1982.5L570.0 1982.5L572.3 1982.5L574.5 1982.5L576.8 1982.5L579.0 1982.5L581.3 1982.5L583.5 1982.4L585.8 1982.4L588.0 1982.4L590.3 1982.4L592.5 1982.4L594.8 1982.4L597.0 1982.4L599.3 1982.4L601.5 1982.4L603.8 1982.4L606.0 1982.4L608.3 1982.4L610.5 1982.4L612.8 1982.4L615.0 1982.4L617.3 1982.4L619.5 1982.4L621.8 1982.4L624.0 1982.4L626.3 1982.4L628.5 1982.4L630.8 1982.4L633.0 1982.4L635.3 1982.4L637.5 1982.4L639.8 1982.4L642.0 1982.4L644.3 1982.4L646.5 1982.4L648.8 1982.4L651.0 1982.4L653.3 1982.4L655.5 1982.4L657.8 1982.4L660.0 1982.4L662.3 1982.4L664.5 1982.4L666.8 1982.4L669.0 1982.4L671.3 1982.4L673.5 1982.4L675.8 1982.4L678.0 1982.4L680.3 1982.4L682.5 1982.4L684.8 1982.4L687.0 1982.4L689.3 1982.4L691.5 1982.4L693.8 1982.4L696.0 1982.4L698.3 1982.4L700.5 1982.4L702.8 1982.4L705.0 1982.4L707.3 1982.4L709.5 1982.4L711.8 1982.4L714.0 1982.4L716.3 1982.4L718.5 1982.4L720.8 1982.4L723.0 1982.4L725.3 1982.4L727.5 1982.4L729.8 1982.4L732.0 1982.4L734.3 1982.4L736.5 1982.4L738.8 1982.4L741.0 1982.4L743.3 1982.4L745.5 1982.4L747.8 1982.4L750.0 1982.4L752.3 1982.4L754.5 1982.3L756.8 1982.3L759.0 1982.3L761.3 1982.3L763.5 1982.3L765.8 1982.3L768.0 1982.3L770.3 1982.3L772.5 1982.3L774.8 1982.3L777.0 1982.3L779.3 1982.3L781.5 1982.3L783.8 1982.3L786.0 1982.3L788.3 1982.3L790.5 1982.3L792.8 1982.3L795.0 1982.3L797.3 1982.3L799.5 1982.3L801.8 1982.3L804.0 1982.3L806.3 1982.3L808.5 1982.3L810.8 1982.3L813.0 1982.3L815.3 1982.3L817.5 1982.3L819.8 1982.3L822.0 1982.3L824.3 1982.3L826.5 1982.3L828.8 1982.3L831.0 1982.3L833.3 1982.3L835.5 1982.3L837.8 1982.3L840.0 1982.3L842.3 1982.3L844.5 1982.3L846.8 1982.3L849.0 1982.3L851.3 1982.3L853.5 1982.3L855.8 1982.3L858.0 1982.3L860.3 1982.2L862.5 1982.2L864.8 1982.2L867.0 1982.2L869.3 1982.2L871.5 1982.2L873.8 1982.2L876.0 1982.2L878.3 1982.2L880.5 1982.2L882.8 1982.2L885.0 1982.2L887.3 1982.1L889.5 1982.1L891.8 1982.1L894.0 1982.1L896.3 1982.0L898.5 1982.0L900.8 1982.0L903.0 1981.9L905.3 1981.9L907.5 1981.8L909.8 1981.8L912.0 1981.8L914.3 1981.7L916.5 1981.7L918.8 1981.6L921.0 1981.6L923.3 1981.5L925.5 1981.4L927.8 1981.4L930.0 1981.3L932.3 1981.3L934.5 1981.2L936.8 1981.1L939.0 1981.1L941.3 1981.0L943.5 1980.9L945.8 1980.8L948.0 1980.8L950.3 1980.7L952.5 1980.6L954.8 1980.5L957.0 1980.4L959.3 1980.3L961.5 1980.2L963.8 1980.0L966.0 1979.8L968.3 1979.6L970.5 1979.3L972.8 1979.0L975.0 1978.7L977.3 1978.3L979.5 1978.0L981.8 1977.6L984.0 1977.2L986.3 1976.7L988.5 1976.3L990.8 1975.8L993.0 1975.4L995.3 1974.9L997.5 1974.4L999.8 1973.9L1002.0 1973.3L1004.3 1972.8L1006.5 1972.2L1008.8 1971.5L1011.0 1970.8L1013.3 1970.0L1015.5 1969.1L1017.8 1968.2L1020.0 1967.3L1022.3 1966.3L1024.5 1965.3L1026.8 1964.4L1029.0 1963.3L1031.3 1962.2L1033.5 1961.0L1035.8 1959.8L1038.0 1958.5L1040.3 1957.3L1042.5 1956.0L1044.8 1954.7L1047.0 1953.4L1049.3 1952.2L1051.5 1950.9L1053.8 1949.6L1056.0 1948.1L1058.3 1946.7L1060.5 1945.1L1062.8 1943.4L1065.0 1941.6L1067.3 1939.7L1069.5 1937.8L1071.8 1935.7L1074.0 1933.4L1076.3 1931.1L1078.5 1928.6L1080.8 1925.9L1083.0 1922.9L1085.3 1919.4L1087.5 1915.5L1089.8 1911.4L1092.0 1907.1L1094.3 1902.6L1096.5 1897.8L1098.8 1892.7L1101.0 1887.3L1103.3 1881.5L1105.5 1875.4L1107.8 1868.8L1110.0 1861.8L1112.3 1854.4L1114.5 1846.7L1116.8 1838.6L1119.0 1829.8L1121.3 1819.9L1123.5 1809.7L1125.8 1799.8L1128.0 1790.8L1130.3 1782.6L1132.5 1774.7L1134.8 1766.9L1137.0 1758.9L1139.3 1750.1L1141.5 1741.4L1143.8 1734.2L1146.0 1727.4L1148.3 1722.2L1150.5 1721.3L1152.8 1722.6L1155.0 1725.1L1157.3 1728.4L1159.5 1732.3L1161.8 1736.4L1164.0 1742.1L1166.3 1749.6L1168.5 1758.0L1170.8 1766.6L1173.0 1774.5L1175.3 1781.7L1177.5 1788.9L1179.8 1796.0L1182.0 1803.0L1184.3 1810.0L1186.5 1817.0L1188.8 1823.8L1191.0 1830.7L1193.3 1837.6L1195.5 1844.6L1197.8 1851.4L1200.0 1858.2L1202.3 1864.9L1204.5 1871.3L1206.8 1877.5L1209.0 1883.5L1211.3 1889.4L1213.5 1895.4L1215.8 1901.2L1218.0 1906.8L1220.3 1912.2L1222.5 1917.1L1224.8 1921.5L1227.0 1925.3L1229.3 1928.6L1231.5 1931.8L1233.8 1934.6L1236.0 1937.3L1238.3 1939.8L1240.5 1942.1L1242.8 1944.2L1245.0 1946.1L1247.3 1947.9L1249.5 1949.7L1251.8 1951.4L1254.0 1953.1L1256.3 1954.7L1258.5 1956.1L1260.8 1957.5L1263.0 1958.8L1265.3 1960.1L1267.5 1961.1L1269.8 1962.1L1272.0 1963.0L1274.3 1963.8L1276.5 1964.5L1278.8 1965.3L1281.0 1966.0L1283.3 1966.7L1285.5 1967.3L1287.8 1967.9L1290.0 1968.5L1292.3 1969.1L1294.5 1969.6L1296.8 1970.1L1299.0 1970.6L1301.3 1971.1L1303.5 1971.5L1305.8 1971.9L1308.0 1972.3L1310.3 1972.7L1312.5 1973.0L1314.8 1973.4L1317.0 1973.7L1319.3 1973.9L1321.5 1974.2L1323.8 1974.5L1326.0 1974.8L1328.3 1975.0L1330.5 1975.3L1332.8 1975.5L1335.0 1975.8L1337.3 1976.0L1339.5 1976.2L1341.8 1976.4L1344.0 1976.6L1346.3 1976.8L1348.5 1977.0L1350.8 1977.2L1353.0 1977.4L1355.3 1977.6L1357.5 1977.8L1359.8 1977.9L1362.0 1978.1L1364.3 1978.2L1366.5 1978.4L1368.8 1978.5L1371.0 1978.6L1373.3 1978.8L1375.5 1978.9L1377.8 1979.0L1380.0 1979.1L1382.3 1979.2L1384.5 1979.3L1386.8 1979.4L1389.0 1979.5L1391.3 1979.6L1393.5 1979.8L1395.8 1979.9L1398.0 1980.0L1400.3 1980.1L1402.5 1980.1L1404.8 1980.2L1407.0 1980.3L1409.3 1980.4L1411.5 1980.5L1413.8 1980.6L1416.0 1980.7L1418.3 1980.8L1420.5 1980.8L1422.8 1980.9L1425.0 1981.0L1427.3 1981.0L1429.5 1981.1L1431.8 1981.2L1434.0 1981.2L1436.3 1981.3L1438.5 1981.3L1440.8 1981.3L1443.0 1981.4L1445.3 1981.4L1447.5 1981.4L1449.8 1981.4L1452.0 1981.5L1454.3 1981.5L1456.5 1981.5L1458.8 1981.5L1461.0 1981.5L1463.3 1981.5L1465.5 1981.5L1467.8 1981.5L1470.0 1981.5L1472.3 1981.6L1474.5 1981.6L1476.8 1981.6L1479.0 1981.6L1481.3 1981.6L1483.5 1981.6L1485.8 1981.6L1488.0 1981.6L1490.3 1981.6L1492.5 1981.6L1494.8 1981.6L1497.0 1981.7L1499.3 1981.7L1501.5 1981.7L1503.8 1981.7L1506.0 1981.7L1508.3 1981.7L1510.5 1981.7L1512.8 1981.7L1515.0 1981.7L1517.3 1981.7L1519.5 1981.7L1521.8 1981.8L1524.0 1981.8L1526.3 1981.8L1528.5 1981.8L1530.8 1981.8L1533.0 1981.8L1535.3 1981.8L1537.5 1981.8L1539.8 1981.8L1542.0 1981.8L1544.3 1981.8L1546.5 1981.8L1548.8 1981.8L1551.0 1981.9L1553.3 1981.9L1555.5 1981.9L1557.8 1981.9L1560.0 1981.9L1562.3 1981.9L1564.5 1981.9L1566.8 1981.9L1569.0 1981.9L1571.3 1981.9L1573.5 1981.9L1575.8 1981.9L1578.0 1981.9L1580.3 1982.0L1582.5 1982.0L1584.8 1982.0L1587.0 1982.0L1589.3 1982.0L1591.5 1982.0L1593.8 1982.0L1596.0 1982.0L1598.3 1982.0L1600.5 1982.0L1602.8 1982.0L1605.0 1982.0L1607.3 1982.0L1609.5 1982.0L1611.8 1982.0L1614.0 1982.1L1616.3 1982.1L1618.5 1982.1L1620.8 1982.1L1623.0 1982.1L1625.3 1982.1L1627.5 1982.1L1629.8 1982.1L1632.0 1982.1L1634.3 1982.1L1636.5 1982.1L1638.8 1982.1L1641.0 1982.1L1643.3 1982.1L1645.5 1982.1L1647.8 1982.1L1650.0 1982.1L1652.3 1982.1L1654.5 1982.2L1656.8 1982.2L1659.0 1982.2L1661.3 1982.2L1663.5 1982.2L1665.8 1982.2L1668.0 1982.2L1670.3 1982.2L1672.5 1982.2L1674.8 1982.2L1677.0 1982.2L1679.3 1982.2L1681.5 1982.2L1683.8 1982.2L1686.0 1982.2L1688.3 1982.2L1690.5 1982.2L1692.8 1982.2L1695.0 1982.2L1697.3 1982.2L1699.5 1982.2L1701.8 1982.3L1704.0 1982.3L1706.3 1982.3L1708.5 1982.3L1710.8 1982.3L1713.0 1982.3L1715.3 1982.3L1717.5 1982.3L1719.8 1982.3L1722.0 1982.3L1724.3 1982.3L1726.5 1982.3L1728.8 1982.3L1731.0 1982.3L1733.3 1982.3L1735.5 1982.3L1737.8 1982.3L1740.0 1982.3L1742.3 1982.3L1744.5 1982.3L1746.8 1982.3L1749.0 1982.3L1751.3 1982.3L1753.5 1982.3L1755.8 1982.3L1758.0 1982.3L1760.3 1982.4L1762.5 1982.4L1764.8 1982.4L1767.0 1982.4L1769.3 1982.4L1771.5 1982.4L1773.8 1982.4L1776.0 1982.4L1778.3 1982.4L1780.5 1982.4L1782.8 1982.4L1785.0 1982.4L1787.3 1982.4L1789.5 1982.4L1791.8 1982.4L1794.0 1982.4L1796.3 1982.4L1798.5 1982.4L1800.8 1982.4L1803.0 1982.4L1805.3 1982.4L1807.5 1982.4L1809.8 1982.4L1812.0 1982.4L1814.3 1982.4L1816.5 1982.4L1818.8 1982.4L1821.0 1982.4L1823.3 1982.4L1825.5 1982.4L1827.8 1982.4L1830.0 1982.4L1832.3 1982.4L1834.5 1982.4L1836.8 1982.4L1839.0 1982.4L1841.3 1982.4L1843.5 1982.4L1845.8 1982.4L1848.0 1982.4L1850.3 1982.4L1852.5 1982.4L1854.8 1982.5L1857.0 1982.5L1859.3 1982.5L1861.5 1982.5L1863.8 1982.5L1866.0 1982.5L1868.3 1982.5L1870.5 1982.5L1872.8 1982.5L1875.0 1982.5L1877.3 1982.5L1879.5 1982.5L1881.8 1982.5L1884.0 1982.5L1886.3 1982.5L1888.5 1982.5L1890.8 1982.5L1893.0 1982.5L1895.3 1982.5L1897.5 1982.5L1899.8 1982.5L1902.0 1982.5L1904.3 1982.5L1906.5 1982.5L1908.8 1982.5L1911.0 1982.5L1913.3 1982.5L1915.5 1982.5L1917.8 1982.5L1920.0 1982.5L1922.3 1982.5L1924.5 1982.5L1926.8 1982.5L1929.0 1982.5L1931.3 1982.5L1933.5 1982.5L1935.8 1982.5L1938.0 1982.5L1940.3 1982.5L1942.5 1982.5L1944.8 1982.5L1947.0 1982.5L1949.3 1982.5L1951.5 1982.5L1953.8 1982.5L1956.0 1982.5L1958.3 1982.5L1960.5 1982.5L1962.8 1982.5L1965.0 1982.5L1967.3 1982.5L1969.5 1982.5L1971.8 1982.5L1974.0 1982.5L1976.3 1982.5L1978.5 1982.5L1980.8 1982.5L1983.0 1982.5L1985.3 1982.5L1987.5 1982.5L1989.8 1982.5L1992.0 1982.5L1994.3 1982.5L1996.5 1982.5L1998.8 1982.5L2001.0 1982.5" fill="none" stroke="#e8a030" stroke-width="3.5" stroke-linejoin="round"/>
<path d="M327.0 2628.5L329.2 2628.5L331.5 2628.5L333.8 2628.5L336.0 2628.5L338.3 2628.5L340.5 2628.5L342.8 2628.5L345.0 2628.4L347.3 2628.4L349.5 2628.4L351.8 2628.4L354.0 2628.4L356.3 2628.4L358.5 2628.3L360.8 2628.3L363.0 2628.3L365.3 2628.3L367.5 2628.2L369.8 2628.2L372.0 2628.2L374.3 2628.2L376.5 2628.1L378.8 2628.1L381.0 2628.1L383.3 2628.0L385.5 2628.0L387.8 2628.0L390.0 2627.9L392.3 2627.9L394.5 2627.9L396.8 2627.8L399.0 2627.8L401.3 2627.7L403.5 2627.7L405.8 2627.7L408.0 2627.6L410.3 2627.6L412.5 2627.5L414.8 2627.5L417.0 2627.5L419.3 2627.4L421.5 2627.4L423.8 2627.3L426.0 2627.3L428.3 2627.2L430.5 2627.2L432.8 2627.1L435.0 2627.1L437.3 2627.0L439.5 2626.9L441.8 2626.9L444.0 2626.8L446.3 2626.7L448.5 2626.6L450.8 2626.6L453.0 2626.5L455.3 2626.4L457.5 2626.3L459.8 2626.2L462.0 2626.1L464.3 2626.0L466.5 2625.9L468.8 2625.8L471.0 2625.7L473.3 2625.6L475.5 2625.5L477.8 2625.4L480.0 2625.3L482.3 2625.2L484.5 2625.1L486.8 2625.0L489.0 2624.9L491.3 2624.7L493.5 2624.6L495.8 2624.5L498.0 2624.4L500.3 2624.2L502.5 2624.1L504.8 2624.0L507.0 2623.9L509.3 2623.7L511.5 2623.6L513.8 2623.4L516.0 2623.3L518.3 2623.1L520.5 2622.9L522.8 2622.7L525.0 2622.5L527.3 2622.3L529.5 2622.1L531.8 2621.9L534.0 2621.7L536.3 2621.4L538.5 2621.2L540.8 2621.0L543.0 2620.7L545.3 2620.5L547.5 2620.2L549.8 2620.0L552.0 2619.7L554.3 2619.4L556.5 2619.2L558.8 2618.9L561.0 2618.6L563.3 2618.3L565.5 2618.1L567.8 2617.8L570.0 2617.5L572.3 2617.2L574.5 2616.9L576.8 2616.6L579.0 2616.4L581.3 2616.1L583.5 2615.8L585.8 2615.5L588.0 2615.2L590.3 2614.9L592.5 2614.7L594.8 2614.4L597.0 2614.1L599.3 2613.8L601.5 2613.6L603.8 2613.3L606.0 2613.1L608.3 2612.8L610.5 2612.5L612.8 2612.3L615.0 2612.0L617.3 2611.8L619.5 2611.5L621.8 2611.3L624.0 2611.0L626.3 2610.8L628.5 2610.5L630.8 2610.3L633.0 2610.0L635.3 2609.8L637.5 2609.5L639.8 2609.3L642.0 2609.0L644.3 2608.8L646.5 2608.5L648.8 2608.2L651.0 2607.9L653.3 2607.7L655.5 2607.4L657.8 2607.1L660.0 2606.8L662.3 2606.5L664.5 2606.2L666.8 2605.8L669.0 2605.5L671.3 2605.2L673.5 2604.8L675.8 2604.5L678.0 2604.1L680.3 2603.8L682.5 2603.4L684.8 2603.0L687.0 2602.6L689.3 2602.2L691.5 2601.8L693.8 2601.3L696.0 2600.9L698.3 2600.4L700.5 2599.9L702.8 2599.3L705.0 2598.8L707.3 2598.2L709.5 2597.6L711.8 2597.0L714.0 2596.3L716.3 2595.6L718.5 2594.9L720.8 2594.2L723.0 2593.5L725.3 2592.7L727.5 2592.0L729.8 2591.2L732.0 2590.4L734.3 2589.5L736.5 2588.7L738.8 2587.8L741.0 2587.0L743.3 2586.1L745.5 2585.2L747.8 2584.3L750.0 2583.4L752.3 2582.4L754.5 2581.5L756.8 2580.6L759.0 2579.6L761.3 2578.6L763.5 2577.6L765.8 2576.7L768.0 2575.7L770.3 2574.7L772.5 2573.7L774.8 2572.7L777.0 2571.7L779.3 2570.7L781.5 2569.6L783.8 2568.6L786.0 2567.5L788.3 2566.4L790.5 2565.3L792.8 2564.2L795.0 2563.1L797.3 2561.9L799.5 2560.7L801.8 2559.5L804.0 2558.3L806.3 2557.0L808.5 2555.8L810.8 2554.5L813.0 2553.2L815.3 2551.8L817.5 2550.5L819.8 2549.1L822.0 2547.7L824.3 2546.3L826.5 2544.9L828.8 2543.4L831.0 2541.9L833.3 2540.4L835.5 2538.9L837.8 2537.3L840.0 2535.8L842.3 2534.2L844.5 2532.6L846.8 2530.9L849.0 2529.3L851.3 2527.5L853.5 2525.5L855.8 2523.4L858.0 2521.3L860.3 2519.1L862.5 2516.8L864.8 2514.6L867.0 2512.3L869.3 2510.2L871.5 2508.0L873.8 2506.0L876.0 2504.1L878.3 2502.4L880.5 2500.8L882.8 2499.3L885.0 2497.9L887.3 2496.6L889.5 2495.3L891.8 2494.0L894.0 2492.8L896.3 2491.5L898.5 2490.3L900.8 2489.1L903.0 2487.8L905.3 2486.5L907.5 2485.2L909.8 2483.8L912.0 2482.3L914.3 2480.7L916.5 2479.1L918.8 2477.4L921.0 2475.6L923.3 2473.9L925.5 2472.1L927.8 2470.4L930.0 2468.7L932.3 2467.1L934.5 2465.6L936.8 2464.1L939.0 2462.8L941.3 2461.6L943.5 2460.5L945.8 2459.4L948.0 2458.4L950.3 2457.4L952.5 2456.5L954.8 2455.5L957.0 2454.7L959.3 2453.8L961.5 2453.0L963.8 2452.2L966.0 2451.4L968.3 2450.7L970.5 2450.0L972.8 2449.3L975.0 2448.6L977.3 2447.9L979.5 2447.2L981.8 2446.5L984.0 2445.9L986.3 2445.2L988.5 2444.6L990.8 2444.0L993.0 2443.5L995.3 2443.0L997.5 2442.5L999.8 2442.2L1002.0 2441.9L1004.3 2441.7L1006.5 2441.5L1008.8 2441.3L1011.0 2441.1L1013.3 2441.0L1015.5 2440.8L1017.8 2440.7L1020.0 2440.6L1022.3 2440.5L1024.5 2440.4L1026.8 2440.3L1029.0 2440.2L1031.3 2440.2L1033.5 2440.2L1035.8 2440.2L1038.0 2440.3L1040.3 2440.4L1042.5 2440.6L1044.8 2440.9L1047.0 2441.2L1049.3 2441.6L1051.5 2442.0L1053.8 2442.4L1056.0 2442.8L1058.3 2443.3L1060.5 2443.7L1062.8 2444.2L1065.0 2444.6L1067.3 2445.1L1069.5 2445.5L1071.8 2446.0L1074.0 2446.5L1076.3 2447.1L1078.5 2447.6L1080.8 2448.2L1083.0 2448.8L1085.3 2449.4L1087.5 2450.1L1089.8 2450.7L1092.0 2451.3L1094.3 2451.9L1096.5 2452.5L1098.8 2453.1L1101.0 2453.7L1103.3 2454.3L1105.5 2454.8L1107.8 2455.4L1110.0 2456.0L1112.3 2456.5L1114.5 2457.2L1116.8 2457.8L1119.0 2458.5L1121.3 2459.2L1123.5 2460.0L1125.8 2460.9L1128.0 2461.8L1130.3 2463.0L1132.5 2464.3L1134.8 2465.9L1137.0 2467.5L1139.3 2469.3L1141.5 2471.1L1143.8 2473.1L1146.0 2475.4L1148.3 2477.8L1150.5 2480.2L1152.8 2482.3L1155.0 2484.0L1157.3 2485.4L1159.5 2486.6L1161.8 2487.7L1164.0 2488.7L1166.3 2489.7L1168.5 2490.7L1170.8 2491.8L1173.0 2492.9L1175.3 2493.9L1177.5 2495.0L1179.8 2496.0L1182.0 2497.1L1184.3 2498.1L1186.5 2499.1L1188.8 2500.2L1191.0 2501.2L1193.3 2502.2L1195.5 2503.2L1197.8 2504.3L1200.0 2505.3L1202.3 2506.4L1204.5 2507.4L1206.8 2508.5L1209.0 2509.5L1211.3 2510.6L1213.5 2511.7L1215.8 2512.8L1218.0 2513.9L1220.3 2515.0L1222.5 2516.1L1224.8 2517.2L1227.0 2518.3L1229.3 2519.3L1231.5 2520.3L1233.8 2521.3L1236.0 2522.2L1238.3 2523.2L1240.5 2524.0L1242.8 2524.9L1245.0 2525.8L1247.3 2526.6L1249.5 2527.4L1251.8 2528.2L1254.0 2529.0L1256.3 2529.8L1258.5 2530.5L1260.8 2531.3L1263.0 2532.1L1265.3 2532.8L1267.5 2533.6L1269.8 2534.3L1272.0 2535.0L1274.3 2535.8L1276.5 2536.5L1278.8 2537.3L1281.0 2538.0L1283.3 2538.8L1285.5 2539.6L1287.8 2540.4L1290.0 2541.2L1292.3 2542.0L1294.5 2542.8L1296.8 2543.6L1299.0 2544.4L1301.3 2545.2L1303.5 2546.0L1305.8 2546.8L1308.0 2547.6" fill="none" stroke="#b42c3c" stroke-width="4.2" stroke-dasharray="17 11" stroke-dashoffset="0" stroke-linejoin="round"/>
<path d="M1488.0 2589.3L1490.2 2589.8L1492.5 2590.3L1494.8 2590.8L1497.0 2591.2L1499.2 2591.6L1501.5 2592.0L1503.8 2592.3L1506.0 2592.7L1508.2 2593.0L1510.5 2593.3L1512.8 2593.6L1515.0 2593.9L1517.2 2594.2L1519.5 2594.5L1521.8 2594.8L1524.0 2595.0L1526.2 2595.3L1528.5 2595.5L1530.7 2595.8L1533.0 2596.0L1535.2 2596.3L1537.5 2596.5L1539.7 2596.8L1542.0 2597.0L1544.2 2597.2L1546.5 2597.4L1548.7 2597.7L1551.0 2597.9L1553.2 2598.1L1555.5 2598.4L1557.7 2598.6L1560.0 2598.8L1562.2 2599.0L1564.5 2599.3L1566.7 2599.5L1569.0 2599.7L1571.2 2600.0L1573.5 2600.2L1575.7 2600.5L1578.0 2600.7L1580.2 2601.0L1582.5 2601.2L1584.7 2601.5L1587.0 2601.8L1589.2 2602.1L1591.5 2602.4L1593.7 2602.6L1596.0 2603.0L1598.2 2603.3L1600.5 2603.6L1602.7 2603.9L1605.0 2604.2L1607.2 2604.5L1609.5 2604.9L1611.7 2605.2L1614.0 2605.5L1616.2 2605.9L1618.5 2606.2L1620.7 2606.5L1623.0 2606.9L1625.2 2607.2L1627.5 2607.6L1629.7 2607.9L1632.0 2608.2L1634.2 2608.6L1636.5 2608.9L1638.7 2609.2L1641.0 2609.6L1643.2 2609.9L1645.5 2610.2L1647.7 2610.5L1650.0 2610.8L1652.2 2611.1L1654.5 2611.4L1656.7 2611.7L1659.0 2612.0L1661.2 2612.3L1663.5 2612.6L1665.7 2612.8L1668.0 2613.1L1670.2 2613.3L1672.5 2613.6L1674.7 2613.8L1677.0 2614.0L1679.2 2614.2L1681.5 2614.4L1683.7 2614.6L1686.0 2614.8L1688.2 2615.0L1690.5 2615.1L1692.7 2615.3L1695.0 2615.4L1697.2 2615.6L1699.5 2615.7L1701.7 2615.9L1704.0 2616.0L1706.2 2616.2L1708.5 2616.3L1710.7 2616.5L1713.0 2616.6L1715.2 2616.7L1717.5 2616.8L1719.7 2617.0L1722.0 2617.1L1724.2 2617.2L1726.5 2617.3L1728.7 2617.4L1731.0 2617.6L1733.2 2617.7L1735.5 2617.8L1737.7 2617.9L1740.0 2618.0L1742.2 2618.1L1744.5 2618.3L1746.7 2618.4L1749.0 2618.5L1751.2 2618.6L1753.5 2618.7L1755.7 2618.8L1758.0 2619.0L1760.2 2619.1L1762.5 2619.2L1764.7 2619.3L1767.0 2619.5L1769.2 2619.6L1771.5 2619.7L1773.7 2619.9L1776.0 2620.0L1778.2 2620.1L1780.5 2620.3L1782.7 2620.4L1785.0 2620.5L1787.2 2620.7L1789.5 2620.8L1791.7 2621.0L1794.0 2621.1L1796.2 2621.2L1798.5 2621.4L1800.7 2621.5L1803.0 2621.7L1805.2 2621.8L1807.5 2621.9L1809.7 2622.1L1812.0 2622.2L1814.2 2622.3L1816.5 2622.5L1818.7 2622.6L1821.0 2622.7L1823.2 2622.9L1825.5 2623.0L1827.7 2623.1L1830.0 2623.3L1832.2 2623.4L1834.5 2623.5L1836.7 2623.6L1839.0 2623.7L1841.2 2623.9L1843.5 2624.0L1845.7 2624.1L1848.0 2624.2L1850.2 2624.3L1852.5 2624.4L1854.7 2624.5L1857.0 2624.6L1859.2 2624.7L1861.5 2624.8L1863.7 2624.9L1866.0 2625.0L1868.2 2625.1L1870.5 2625.2L1872.7 2625.3L1875.0 2625.4L1877.2 2625.5L1879.5 2625.6L1881.7 2625.7L1884.0 2625.8L1886.2 2625.9L1888.5 2626.0L1890.7 2626.1L1893.0 2626.2L1895.2 2626.2L1897.5 2626.3L1899.7 2626.4L1902.0 2626.5L1904.2 2626.6L1906.5 2626.7L1908.7 2626.8L1911.0 2626.8L1913.2 2626.9L1915.5 2627.0L1917.7 2627.1L1920.0 2627.2L1922.2 2627.2L1924.5 2627.3L1926.7 2627.4L1929.0 2627.5L1931.2 2627.5L1933.5 2627.6L1935.7 2627.7L1938.0 2627.8L1940.2 2627.8L1942.5 2627.9L1944.7 2628.0L1947.0 2628.0L1949.2 2628.1L1951.5 2628.2L1953.7 2628.2L1956.0 2628.3L1958.2 2628.3L1960.5 2628.4L1962.7 2628.4L1965.0 2628.5" fill="none" stroke="#b42c3c" stroke-width="4.2" stroke-dasharray="17 11" stroke-dashoffset="0" stroke-linejoin="round"/>
<path d="M1308.0 2547.6L1310.2 2548.4L1312.5 2549.2L1314.8 2550.0L1317.0 2550.7L1319.2 2551.5L1321.5 2552.2L1323.8 2552.9L1326.0 2553.6L1328.2 2554.3L1330.5 2555.0L1332.8 2555.6L1335.0 2556.2L1337.2 2556.9L1339.5 2557.5L1341.8 2558.1L1344.0 2558.6L1346.2 2559.2L1348.5 2559.8L1350.7 2560.3L1353.0 2560.9L1355.2 2561.4L1357.5 2562.0L1359.7 2562.5L1362.0 2563.1L1364.2 2563.6L1366.5 2564.1L1368.7 2564.7L1371.0 2565.2L1373.2 2565.8L1375.5 2566.4L1377.7 2566.9L1380.0 2567.5L1382.2 2568.1L1384.5 2568.7L1386.7 2569.3L1389.0 2569.9L1391.2 2570.6L1393.5 2571.2L1395.7 2571.8L1398.0 2572.4L1400.2 2573.0L1402.5 2573.6L1404.7 2574.2L1407.0 2574.8L1409.2 2575.3L1411.5 2575.9L1413.7 2576.4L1416.0 2576.9L1418.2 2577.4L1420.5 2577.8L1422.7 2578.3L1425.0 2578.7L1427.2 2579.1L1429.5 2579.4L1431.7 2579.8L1434.0 2580.1L1436.2 2580.4L1438.5 2580.7L1440.7 2581.0L1443.0 2581.3L1445.2 2581.6L1447.5 2581.9L1449.7 2582.2L1452.0 2582.5L1454.2 2582.8L1456.5 2583.1L1458.7 2583.4L1461.0 2583.7L1463.2 2584.1L1465.5 2584.4L1467.7 2584.8L1470.0 2585.2L1472.2 2585.7L1474.5 2586.2L1476.7 2586.7L1479.0 2587.2L1481.2 2587.7L1483.5 2588.2L1485.7 2588.8L1488.0 2589.3" fill="none" stroke="#b42c3c" stroke-width="3.6" stroke-linejoin="round"/>
<path d="M327.0 2628.5L329.2 2628.5L331.5 2628.5L333.8 2628.5L336.0 2628.5L338.3 2628.5L340.5 2628.5L342.8 2628.5L345.0 2628.5L347.3 2628.4L349.5 2628.4L351.8 2628.4L354.0 2628.4L356.3 2628.4L358.5 2628.4L360.8 2628.4L363.0 2628.3L365.3 2628.3L367.5 2628.3L369.8 2628.3L372.0 2628.3L374.3 2628.2L376.5 2628.2L378.8 2628.2L381.0 2628.2L383.3 2628.1L385.5 2628.1L387.8 2628.1L390.0 2628.1L392.3 2628.0L394.5 2628.0L396.8 2628.0L399.0 2628.0L401.3 2627.9L403.5 2627.9L405.8 2627.9L408.0 2627.8L410.3 2627.8L412.5 2627.8L414.8 2627.8L417.0 2627.7L419.3 2627.7L421.5 2627.7L423.8 2627.6L426.0 2627.6L428.3 2627.6L430.5 2627.5L432.8 2627.5L435.0 2627.4L437.3 2627.4L439.5 2627.3L441.8 2627.3L444.0 2627.2L446.3 2627.2L448.5 2627.1L450.8 2627.1L453.0 2627.0L455.3 2627.0L457.5 2626.9L459.8 2626.9L462.0 2626.8L464.3 2626.7L466.5 2626.7L468.8 2626.6L471.0 2626.5L473.3 2626.4L475.5 2626.4L477.8 2626.3L480.0 2626.2L482.3 2626.1L484.5 2626.1L486.8 2626.0L489.0 2625.9L491.3 2625.8L493.5 2625.7L495.8 2625.6L498.0 2625.5L500.3 2625.4L502.5 2625.3L504.8 2625.2L507.0 2625.1L509.3 2625.0L511.5 2624.9L513.8 2624.8L516.0 2624.6L518.3 2624.5L520.5 2624.3L522.8 2624.1L525.0 2623.9L527.3 2623.7L529.5 2623.5L531.8 2623.3L534.0 2623.1L536.3 2622.9L538.5 2622.6L540.8 2622.4L543.0 2622.1L545.3 2621.9L547.5 2621.6L549.8 2621.3L552.0 2621.1L554.3 2620.8L556.5 2620.5L558.8 2620.3L561.0 2620.0L563.3 2619.7L565.5 2619.4L567.8 2619.2L570.0 2618.9L572.3 2618.6L574.5 2618.3L576.8 2618.1L579.0 2617.8L581.3 2617.5L583.5 2617.3L585.8 2617.0L588.0 2616.8L590.3 2616.5L592.5 2616.3L594.8 2616.1L597.0 2615.9L599.3 2615.6L601.5 2615.4L603.8 2615.2L606.0 2615.0L608.3 2614.9L610.5 2614.7L612.8 2614.5L615.0 2614.3L617.3 2614.1L619.5 2614.0L621.8 2613.8L624.0 2613.6L626.3 2613.5L628.5 2613.3L630.8 2613.1L633.0 2613.0L635.3 2612.8L637.5 2612.7L639.8 2612.5L642.0 2612.4L644.3 2612.2L646.5 2612.0L648.8 2611.9L651.0 2611.7L653.3 2611.5L655.5 2611.4L657.8 2611.2L660.0 2611.0L662.3 2610.8L664.5 2610.7L666.8 2610.5L669.0 2610.3L671.3 2610.1L673.5 2609.9L675.8 2609.7L678.0 2609.5L680.3 2609.3L682.5 2609.0L684.8 2608.8L687.0 2608.6L689.3 2608.3L691.5 2608.1L693.8 2607.8L696.0 2607.5L698.3 2607.2L700.5 2606.9L702.8 2606.6L705.0 2606.2L707.3 2605.9L709.5 2605.5L711.8 2605.1L714.0 2604.7L716.3 2604.3L718.5 2603.9L720.8 2603.4L723.0 2603.0L725.3 2602.5L727.5 2602.1L729.8 2601.6L732.0 2601.1L734.3 2600.6L736.5 2600.1L738.8 2599.6L741.0 2599.1L743.3 2598.6L745.5 2598.1L747.8 2597.6L750.0 2597.0L752.3 2596.5L754.5 2596.0L756.8 2595.5L759.0 2595.0L761.3 2594.4L763.5 2593.9L765.8 2593.4L768.0 2592.9L770.3 2592.4L772.5 2591.9L774.8 2591.4L777.0 2590.9L779.3 2590.4L781.5 2589.9L783.8 2589.5L786.0 2589.0L788.3 2588.6L790.5 2588.1L792.8 2587.7L795.0 2587.2L797.3 2586.8L799.5 2586.3L801.8 2585.9L804.0 2585.4L806.3 2585.0L808.5 2584.5L810.8 2584.1L813.0 2583.6L815.3 2583.2L817.5 2582.7L819.8 2582.3L822.0 2581.9L824.3 2581.4L826.5 2581.0L828.8 2580.5L831.0 2580.1L833.3 2579.6L835.5 2579.2L837.8 2578.7L840.0 2578.3L842.3 2577.8L844.5 2577.4L846.8 2576.9L849.0 2576.5L851.3 2576.0L853.5 2575.6L855.8 2575.1L858.0 2574.7L860.3 2574.2L862.5 2573.8L864.8 2573.3L867.0 2572.9L869.3 2572.5L871.5 2572.0L873.8 2571.6L876.0 2571.1L878.3 2570.7L880.5 2570.2L882.8 2569.8L885.0 2569.3L887.3 2568.9L889.5 2568.4L891.8 2568.0L894.0 2567.5L896.3 2567.0L898.5 2566.5L900.8 2566.1L903.0 2565.6L905.3 2565.1L907.5 2564.6L909.8 2564.1L912.0 2563.6L914.3 2563.1L916.5 2562.6L918.8 2562.1L921.0 2561.6L923.3 2561.0L925.5 2560.5L927.8 2560.0L930.0 2559.5L932.3 2558.9L934.5 2558.4L936.8 2557.9L939.0 2557.3L941.3 2556.8L943.5 2556.2L945.8 2555.7L948.0 2555.1L950.3 2554.5L952.5 2553.9L954.8 2553.4L957.0 2552.8L959.3 2552.2L961.5 2551.6L963.8 2550.9L966.0 2550.3L968.3 2549.7L970.5 2549.0L972.8 2548.4L975.0 2547.7L977.3 2547.0L979.5 2546.3L981.8 2545.6L984.0 2544.9L986.3 2544.1L988.5 2543.4L990.8 2542.6L993.0 2541.8L995.3 2541.0L997.5 2540.2L999.8 2539.4L1002.0 2538.6L1004.3 2537.7L1006.5 2536.9L1008.8 2536.1L1011.0 2535.2L1013.3 2534.4L1015.5 2533.6L1017.8 2532.8L1020.0 2531.9L1022.3 2531.1L1024.5 2530.3L1026.8 2529.5L1029.0 2528.7L1031.3 2527.9L1033.5 2527.2L1035.8 2526.4L1038.0 2525.7L1040.3 2524.9L1042.5 2524.2L1044.8 2523.6L1047.0 2522.9L1049.3 2522.2L1051.5 2521.6L1053.8 2520.9L1056.0 2520.2L1058.3 2519.5L1060.5 2518.9L1062.8 2518.2L1065.0 2517.4L1067.3 2516.7L1069.5 2515.9L1071.8 2515.1L1074.0 2514.3L1076.3 2513.4L1078.5 2512.5L1080.8 2511.6L1083.0 2510.5L1085.3 2509.4L1087.5 2508.2L1089.8 2506.9L1092.0 2505.5L1094.3 2504.1L1096.5 2502.6L1098.8 2501.1L1101.0 2499.6L1103.3 2498.2L1105.5 2496.7L1107.8 2495.2L1110.0 2493.9L1112.3 2492.5L1114.5 2491.2L1116.8 2489.9L1119.0 2488.5L1121.3 2487.2L1123.5 2485.9L1125.8 2484.6L1128.0 2483.3L1130.3 2482.1L1132.5 2480.8L1134.8 2479.7L1137.0 2478.6L1139.3 2477.5L1141.5 2476.5L1143.8 2475.6L1146.0 2474.6L1148.3 2473.7L1150.5 2472.9L1152.8 2472.0L1155.0 2471.2L1157.3 2470.4L1159.5 2469.6L1161.8 2468.8L1164.0 2468.1L1166.3 2467.3L1168.5 2466.6L1170.8 2465.8L1173.0 2465.1L1175.3 2464.4L1177.5 2463.7L1179.8 2463.1L1182.0 2462.4L1184.3 2461.8L1186.5 2461.2L1188.8 2460.5L1191.0 2459.8L1193.3 2459.1L1195.5 2458.4L1197.8 2457.6L1200.0 2456.7L1202.3 2455.8L1204.5 2455.0L1206.8 2454.1L1209.0 2453.3L1211.3 2452.7L1213.5 2452.1L1215.8 2451.7L1218.0 2451.4L1220.3 2451.1L1222.5 2450.8L1224.8 2450.5L1227.0 2450.2L1229.3 2450.0L1231.5 2449.8L1233.8 2449.6L1236.0 2449.4L1238.3 2449.2L1240.5 2449.1L1242.8 2448.9L1245.0 2448.7L1247.3 2448.6L1249.5 2448.4L1251.8 2448.3L1254.0 2448.1L1256.3 2447.9L1258.5 2447.7L1260.8 2447.6L1263.0 2447.4L1265.3 2447.3L1267.5 2447.2L1269.8 2447.1L1272.0 2447.1L1274.3 2447.2L1276.5 2447.3L1278.8 2447.5L1281.0 2447.8L1283.3 2448.1L1285.5 2448.5L1287.8 2449.0L1290.0 2449.4L1292.3 2449.9L1294.5 2450.5L1296.8 2451.0L1299.0 2451.6L1301.3 2452.1L1303.5 2452.8L1305.8 2453.6L1308.0 2454.5L1310.3 2455.5L1312.5 2456.6L1314.8 2457.7L1317.0 2458.9L1319.3 2460.1L1321.5 2461.3L1323.8 2462.5L1326.0 2463.7L1328.3 2464.8L1330.5 2465.9L1332.8 2466.9L1335.0 2468.0L1337.3 2469.1L1339.5 2470.2L1341.8 2471.3L1344.0 2472.4L1346.3 2473.5L1348.5 2474.7L1350.8 2475.9L1353.0 2477.1L1355.3 2478.3L1357.5 2479.5L1359.8 2480.8L1362.0 2482.1L1364.3 2483.4L1366.5 2484.8L1368.8 2486.1L1371.0 2487.5L1373.3 2488.8L1375.5 2490.2L1377.8 2491.5L1380.0 2492.9L1382.3 2494.3L1384.5 2495.6L1386.8 2497.0L1389.0 2498.4L1391.3 2499.8L1393.5 2501.2L1395.8 2502.6L1398.0 2504.1L1400.3 2505.5L1402.5 2507.0L1404.8 2508.5L1407.0 2510.1L1409.3 2511.6L1411.5 2513.2L1413.8 2514.7L1416.0 2516.3L1418.3 2517.9L1420.5 2519.4L1422.8 2521.0L1425.0 2522.5L1427.3 2524.0L1429.5 2525.5L1431.8 2527.1L1434.0 2528.6L1436.3 2530.1L1438.5 2531.7L1440.8 2533.2L1443.0 2534.8L1445.3 2536.3L1447.5 2537.9L1449.8 2539.6L1452.0 2541.2L1454.3 2542.9L1456.5 2544.6L1458.8 2546.3L1461.0 2548.0L1463.3 2549.6L1465.5 2551.1L1467.8 2552.6L1470.0 2554.0L1472.3 2555.4L1474.5 2556.7L1476.8 2558.0L1479.0 2559.3L1481.3 2560.6L1483.5 2561.8L1485.8 2563.0L1488.0 2564.3L1490.3 2565.5L1492.5 2566.9L1494.8 2568.2L1497.0 2569.4L1499.3 2570.6L1501.5 2571.6L1503.8 2572.5L1506.0 2573.4L1508.3 2574.3L1510.5 2575.1L1512.8 2575.9L1515.0 2576.7L1517.3 2577.4L1519.5 2578.1L1521.8 2578.8L1524.0 2579.5L1526.3 2580.1L1528.5 2580.8L1530.8 2581.4L1533.0 2582.1L1535.3 2582.7L1537.5 2583.4L1539.8 2584.0L1542.0 2584.6L1544.3 2585.3L1546.5 2585.9L1548.8 2586.6L1551.0 2587.2L1553.3 2587.8L1555.5 2588.4L1557.8 2589.0L1560.0 2589.6L1562.3 2590.2L1564.5 2590.8L1566.8 2591.4L1569.0 2591.9L1571.3 2592.5L1573.5 2593.1L1575.8 2593.6L1578.0 2594.2L1580.3 2594.7L1582.5 2595.2L1584.8 2595.7L1587.0 2596.3L1589.3 2596.8L1591.5 2597.3L1593.8 2597.8L1596.0 2598.2L1598.3 2598.7L1600.5 2599.2L1602.8 2599.7L1605.0 2600.1L1607.3 2600.6L1609.5 2601.1L1611.8 2601.5L1614.0 2602.0L1616.3 2602.4L1618.5 2602.8L1620.8 2603.3L1623.0 2603.7L1625.3 2604.1L1627.5 2604.5L1629.8 2604.9L1632.0 2605.3L1634.3 2605.7L1636.5 2606.1L1638.8 2606.4L1641.0 2606.8L1643.3 2607.2L1645.5 2607.6L1647.8 2608.0L1650.0 2608.4L1652.3 2608.7L1654.5 2609.1L1656.8 2609.4L1659.0 2609.8L1661.3 2610.1L1663.5 2610.5L1665.8 2610.8L1668.0 2611.1L1670.3 2611.4L1672.5 2611.7L1674.8 2612.0L1677.0 2612.3L1679.3 2612.6L1681.5 2612.8L1683.8 2613.1L1686.0 2613.3L1688.3 2613.5L1690.5 2613.7L1692.8 2614.0L1695.0 2614.2L1697.3 2614.4L1699.5 2614.6L1701.8 2614.8L1704.0 2615.0L1706.3 2615.2L1708.5 2615.4L1710.8 2615.5L1713.0 2615.7L1715.3 2615.9L1717.5 2616.1L1719.8 2616.3L1722.0 2616.4L1724.3 2616.6L1726.5 2616.7L1728.8 2616.9L1731.0 2617.1L1733.3 2617.2L1735.5 2617.4L1737.8 2617.5L1740.0 2617.7L1742.3 2617.8L1744.5 2618.0L1746.8 2618.1L1749.0 2618.3L1751.3 2618.4L1753.5 2618.6L1755.8 2618.7L1758.0 2618.9L1760.3 2619.0L1762.5 2619.2L1764.8 2619.3L1767.0 2619.5L1769.3 2619.6L1771.5 2619.8L1773.8 2619.9L1776.0 2620.1L1778.3 2620.2L1780.5 2620.3L1782.8 2620.5L1785.0 2620.6L1787.3 2620.8L1789.5 2620.9L1791.8 2621.1L1794.0 2621.2L1796.3 2621.3L1798.5 2621.5L1800.8 2621.6L1803.0 2621.8L1805.3 2621.9L1807.5 2622.0L1809.8 2622.2L1812.0 2622.3L1814.3 2622.4L1816.5 2622.6L1818.8 2622.7L1821.0 2622.8L1823.3 2622.9L1825.5 2623.1L1827.8 2623.2L1830.0 2623.3L1832.3 2623.4L1834.5 2623.5L1836.8 2623.7L1839.0 2623.8L1841.3 2623.9L1843.5 2624.0L1845.8 2624.1L1848.0 2624.2L1850.3 2624.3L1852.5 2624.4L1854.8 2624.5L1857.0 2624.6L1859.3 2624.7L1861.5 2624.8L1863.8 2624.9L1866.0 2625.0L1868.3 2625.1L1870.5 2625.2L1872.8 2625.3L1875.0 2625.4L1877.3 2625.5L1879.5 2625.6L1881.8 2625.7L1884.0 2625.8L1886.3 2625.9L1888.5 2626.0L1890.8 2626.1L1893.0 2626.2L1895.3 2626.2L1897.5 2626.3L1899.8 2626.4L1902.0 2626.5L1904.3 2626.6L1906.5 2626.7L1908.8 2626.8L1911.0 2626.8L1913.3 2626.9L1915.5 2627.0L1917.8 2627.1L1920.0 2627.2L1922.3 2627.2L1924.5 2627.3L1926.8 2627.4L1929.0 2627.5L1931.3 2627.5L1933.5 2627.6L1935.8 2627.7L1938.0 2627.8L1940.3 2627.8L1942.5 2627.9L1944.8 2628.0L1947.0 2628.0L1949.3 2628.1L1951.5 2628.2L1953.8 2628.2L1956.0 2628.3L1958.3 2628.3L1960.5 2628.4L1962.8 2628.4L1965.0 2628.5" fill="none" stroke="#b42c3c" stroke-width="4.2" stroke-dasharray="17 11" stroke-dashoffset="14" stroke-linejoin="round"/>
<path d="M327.0 2627.2L329.2 2627.1L331.5 2627.1L333.8 2627.0L336.0 2626.9L338.3 2626.8L340.5 2626.8L342.8 2626.7L345.0 2626.6L347.3 2626.5L349.5 2626.5L351.8 2626.4L354.0 2626.3L356.3 2626.2L358.5 2626.2L360.8 2626.1L363.0 2626.0L365.3 2626.0L367.5 2625.9L369.8 2625.8L372.0 2625.7L374.3 2625.7L376.5 2625.6L378.8 2625.5L381.0 2625.5L383.3 2625.4L385.5 2625.4L387.8 2625.3L390.0 2625.2L392.3 2625.2L394.5 2625.1L396.8 2625.1L399.0 2625.0L401.3 2625.0L403.5 2624.9L405.8 2624.9L408.0 2624.8L410.3 2624.8L412.5 2624.7L414.8 2624.7L417.0 2624.6L419.3 2624.6L421.5 2624.5L423.8 2624.5L426.0 2624.5L428.3 2624.4L430.5 2624.4L432.8 2624.3L435.0 2624.3L437.3 2624.3L439.5 2624.2L441.8 2624.2L444.0 2624.2L446.3 2624.1L448.5 2624.1L450.8 2624.1L453.0 2624.0L455.3 2624.0L457.5 2624.0L459.8 2623.9L462.0 2623.9L464.3 2623.9L466.5 2623.8L468.8 2623.8L471.0 2623.8L473.3 2623.7L475.5 2623.7L477.8 2623.7L480.0 2623.6L482.3 2623.6L484.5 2623.6L486.8 2623.5L489.0 2623.5L491.3 2623.5L493.5 2623.5L495.8 2623.4L498.0 2623.4L500.3 2623.4L502.5 2623.3L504.8 2623.3L507.0 2623.3L509.3 2623.3L511.5 2623.2L513.8 2623.2L516.0 2623.2L518.3 2623.1L520.5 2623.1L522.8 2623.1L525.0 2623.1L527.3 2623.0L529.5 2623.0L531.8 2623.0L534.0 2623.0L536.3 2622.9L538.5 2622.9L540.8 2622.9L543.0 2622.9L545.3 2622.8L547.5 2622.8L549.8 2622.8L552.0 2622.8L554.3 2622.8L556.5 2622.7L558.8 2622.7L561.0 2622.7L563.3 2622.7L565.5 2622.6L567.8 2622.6L570.0 2622.6L572.3 2622.6L574.5 2622.5L576.8 2622.5L579.0 2622.5L581.3 2622.5L583.5 2622.4L585.8 2622.4L588.0 2622.4L590.3 2622.4L592.5 2622.4L594.8 2622.3L597.0 2622.3L599.3 2622.3L601.5 2622.3L603.8 2622.2L606.0 2622.2L608.3 2622.2L610.5 2622.2L612.8 2622.2L615.0 2622.1L617.3 2622.1L619.5 2622.1L621.8 2622.1L624.0 2622.0L626.3 2622.0L628.5 2622.0L630.8 2622.0L633.0 2622.0L635.3 2621.9L637.5 2621.9L639.8 2621.9L642.0 2621.9L644.3 2621.9L646.5 2621.9L648.8 2621.8L651.0 2621.8L653.3 2621.8L655.5 2621.8L657.8 2621.8L660.0 2621.7L662.3 2621.7L664.5 2621.7L666.8 2621.7L669.0 2621.7L671.3 2621.7L673.5 2621.6L675.8 2621.6L678.0 2621.6L680.3 2621.6L682.5 2621.6L684.8 2621.5L687.0 2621.5L689.3 2621.5L691.5 2621.5L693.8 2621.5L696.0 2621.5L698.3 2621.4L700.5 2621.4L702.8 2621.4L705.0 2621.4L707.3 2621.4L709.5 2621.3L711.8 2621.3L714.0 2621.3L716.3 2621.3L718.5 2621.3L720.8 2621.3L723.0 2621.2L725.3 2621.2L727.5 2621.2L729.8 2621.2L732.0 2621.2L734.3 2621.1L736.5 2621.1L738.8 2621.1L741.0 2621.1L743.3 2621.1L745.5 2621.1L747.8 2621.0L750.0 2621.0L752.3 2621.0L754.5 2621.0L756.8 2621.0L759.0 2620.9L761.3 2620.9L763.5 2620.9L765.8 2620.9L768.0 2620.8L770.3 2620.8L772.5 2620.8L774.8 2620.8L777.0 2620.8L779.3 2620.7L781.5 2620.7L783.8 2620.7L786.0 2620.7L788.3 2620.7L790.5 2620.6L792.8 2620.6L795.0 2620.6L797.3 2620.6L799.5 2620.5L801.8 2620.5L804.0 2620.5L806.3 2620.5L808.5 2620.5L810.8 2620.4L813.0 2620.4L815.3 2620.4L817.5 2620.4L819.8 2620.3L822.0 2620.3L824.3 2620.3L826.5 2620.3L828.8 2620.2L831.0 2620.2L833.3 2620.2L835.5 2620.2L837.8 2620.1L840.0 2620.1L842.3 2620.1L844.5 2620.1L846.8 2620.0L849.0 2620.0L851.3 2620.0L853.5 2619.9L855.8 2619.9L858.0 2619.9L860.3 2619.8L862.5 2619.8L864.8 2619.8L867.0 2619.7L869.3 2619.7L871.5 2619.7L873.8 2619.6L876.0 2619.6L878.3 2619.5L880.5 2619.5L882.8 2619.4L885.0 2619.4L887.3 2619.4L889.5 2619.3L891.8 2619.3L894.0 2619.2L896.3 2619.2L898.5 2619.1L900.8 2619.1L903.0 2619.0L905.3 2619.0L907.5 2618.9L909.8 2618.8L912.0 2618.8L914.3 2618.7L916.5 2618.6L918.8 2618.6L921.0 2618.5L923.3 2618.4L925.5 2618.3L927.8 2618.2L930.0 2618.2L932.3 2618.1L934.5 2618.0L936.8 2617.9L939.0 2617.8L941.3 2617.7L943.5 2617.6L945.8 2617.5L948.0 2617.3L950.3 2617.2L952.5 2617.1L954.8 2617.0L957.0 2616.8L959.3 2616.7L961.5 2616.5L963.8 2616.2L966.0 2615.9L968.3 2615.6L970.5 2615.2L972.8 2614.9L975.0 2614.5L977.3 2614.0L979.5 2613.6L981.8 2613.1L984.0 2612.6L986.3 2612.1L988.5 2611.5L990.8 2611.0L993.0 2610.4L995.3 2609.8L997.5 2609.3L999.8 2608.7L1002.0 2608.1L1004.3 2607.5L1006.5 2606.9L1008.8 2606.3L1011.0 2605.7L1013.3 2605.0L1015.5 2604.4L1017.8 2603.7L1020.0 2603.0L1022.3 2602.3L1024.5 2601.5L1026.8 2600.7L1029.0 2599.9L1031.3 2599.0L1033.5 2598.0L1035.8 2597.0L1038.0 2595.9L1040.3 2594.7L1042.5 2593.5L1044.8 2592.2L1047.0 2590.8L1049.3 2589.3L1051.5 2587.5L1053.8 2584.9L1056.0 2581.6L1058.3 2578.0L1060.5 2574.1L1062.8 2570.2L1065.0 2566.5L1067.3 2563.2L1069.5 2560.4L1071.8 2558.3L1074.0 2556.6L1076.3 2555.1L1078.5 2553.5L1080.8 2551.4L1083.0 2548.5L1085.3 2543.1L1087.5 2535.6L1089.8 2526.5L1092.0 2517.6L1094.3 2511.0L1096.5 2505.3L1098.8 2499.8L1101.0 2494.3L1103.3 2488.9L1105.5 2483.7L1107.8 2478.6L1110.0 2473.7L1112.3 2468.2L1114.5 2462.3L1116.8 2457.6L1119.0 2455.6L1121.3 2457.9L1123.5 2462.5L1125.8 2467.3L1128.0 2472.9L1130.3 2478.9L1132.5 2485.5L1134.8 2492.7L1137.0 2498.7L1139.3 2503.2L1141.5 2507.1L1143.8 2510.5L1146.0 2513.6L1148.3 2516.5L1150.5 2519.2L1152.8 2521.7L1155.0 2524.1L1157.3 2526.6L1159.5 2528.8L1161.8 2530.8L1164.0 2532.9L1166.3 2535.0L1168.5 2537.6L1170.8 2540.7L1173.0 2545.2L1175.3 2550.7L1177.5 2556.4L1179.8 2561.3L1182.0 2565.9L1184.3 2570.4L1186.5 2574.6L1188.8 2578.4L1191.0 2581.6L1193.3 2583.9L1195.5 2586.1L1197.8 2588.0L1200.0 2589.7L1202.3 2591.3L1204.5 2592.8L1206.8 2594.2L1209.0 2595.5L1211.3 2596.7L1213.5 2597.9L1215.8 2599.1L1218.0 2600.2L1220.3 2601.3L1222.5 2602.4L1224.8 2603.4L1227.0 2604.4L1229.3 2605.3L1231.5 2606.2L1233.8 2606.9L1236.0 2607.6L1238.3 2608.2L1240.5 2608.8L1242.8 2609.3L1245.0 2609.8L1247.3 2610.2L1249.5 2610.7L1251.8 2611.1L1254.0 2611.4L1256.3 2611.8L1258.5 2612.1L1260.8 2612.4L1263.0 2612.7L1265.3 2613.0L1267.5 2613.3L1269.8 2613.6L1272.0 2613.9L1274.3 2614.2L1276.5 2614.5L1278.8 2614.7L1281.0 2615.0L1283.3 2615.2L1285.5 2615.4L1287.8 2615.7L1290.0 2615.9L1292.3 2616.1L1294.5 2616.3L1296.8 2616.5L1299.0 2616.6L1301.3 2616.8L1303.5 2616.9L1305.8 2617.1L1308.0 2617.2L1310.3 2617.3L1312.5 2617.4L1314.8 2617.5L1317.0 2617.6L1319.3 2617.7L1321.5 2617.8L1323.8 2617.9L1326.0 2618.0L1328.3 2618.1L1330.5 2618.2L1332.8 2618.3L1335.0 2618.4L1337.3 2618.5L1339.5 2618.5L1341.8 2618.6L1344.0 2618.7L1346.3 2618.7L1348.5 2618.8L1350.8 2618.9L1353.0 2618.9L1355.3 2619.0L1357.5 2619.0L1359.8 2619.1L1362.0 2619.1L1364.3 2619.2L1366.5 2619.2L1368.8 2619.2L1371.0 2619.2L1373.3 2619.3L1375.5 2619.3L1377.8 2619.3L1380.0 2619.4L1382.3 2619.4L1384.5 2619.4L1386.8 2619.4L1389.0 2619.5L1391.3 2619.5L1393.5 2619.5L1395.8 2619.5L1398.0 2619.5L1400.3 2619.6L1402.5 2619.6L1404.8 2619.6L1407.0 2619.6L1409.3 2619.6L1411.5 2619.7L1413.8 2619.7L1416.0 2619.7L1418.3 2619.7L1420.5 2619.7L1422.8 2619.7L1425.0 2619.8L1427.3 2619.8L1429.5 2619.8L1431.8 2619.8L1434.0 2619.8L1436.3 2619.8L1438.5 2619.8L1440.8 2619.8L1443.0 2619.9L1445.3 2619.9L1447.5 2619.9L1449.8 2619.9L1452.0 2619.9L1454.3 2619.9L1456.5 2619.9L1458.8 2620.0L1461.0 2620.0L1463.3 2620.0L1465.5 2620.0L1467.8 2620.0L1470.0 2620.0L1472.3 2620.0L1474.5 2620.0L1476.8 2620.1L1479.0 2620.1L1481.3 2620.1L1483.5 2620.1L1485.8 2620.1L1488.0 2620.1L1490.3 2620.2L1492.5 2620.2L1494.8 2620.2L1497.0 2620.2L1499.3 2620.2L1501.5 2620.3L1503.8 2620.3L1506.0 2620.3L1508.3 2620.3L1510.5 2620.3L1512.8 2620.4L1515.0 2620.4L1517.3 2620.4L1519.5 2620.4L1521.8 2620.4L1524.0 2620.5L1526.3 2620.5L1528.5 2620.5L1530.8 2620.5L1533.0 2620.5L1535.3 2620.6L1537.5 2620.6L1539.8 2620.6L1542.0 2620.6L1544.3 2620.6L1546.5 2620.7L1548.8 2620.7L1551.0 2620.7L1553.3 2620.7L1555.5 2620.7L1557.8 2620.8L1560.0 2620.8L1562.3 2620.8L1564.5 2620.8L1566.8 2620.8L1569.0 2620.9L1571.3 2620.9L1573.5 2620.9L1575.8 2620.9L1578.0 2620.9L1580.3 2621.0L1582.5 2621.0L1584.8 2621.0L1587.0 2621.0L1589.3 2621.1L1591.5 2621.1L1593.8 2621.1L1596.0 2621.1L1598.3 2621.1L1600.5 2621.2L1602.8 2621.2L1605.0 2621.2L1607.3 2621.2L1609.5 2621.3L1611.8 2621.3L1614.0 2621.3L1616.3 2621.3L1618.5 2621.4L1620.8 2621.4L1623.0 2621.4L1625.3 2621.4L1627.5 2621.5L1629.8 2621.5L1632.0 2621.5L1634.3 2621.5L1636.5 2621.6L1638.8 2621.6L1641.0 2621.6L1643.3 2621.6L1645.5 2621.7L1647.8 2621.7L1650.0 2621.7L1652.3 2621.7L1654.5 2621.8L1656.8 2621.8L1659.0 2621.8L1661.3 2621.8L1663.5 2621.9L1665.8 2621.9L1668.0 2621.9L1670.3 2622.0L1672.5 2622.0L1674.8 2622.0L1677.0 2622.1L1679.3 2622.1L1681.5 2622.1L1683.8 2622.1L1686.0 2622.2L1688.3 2622.2L1690.5 2622.2L1692.8 2622.3L1695.0 2622.3L1697.3 2622.3L1699.5 2622.4L1701.8 2622.4L1704.0 2622.4L1706.3 2622.5L1708.5 2622.5L1710.8 2622.5L1713.0 2622.6L1715.3 2622.6L1717.5 2622.6L1719.8 2622.7L1722.0 2622.7L1724.3 2622.8L1726.5 2622.8L1728.8 2622.8L1731.0 2622.9L1733.3 2622.9L1735.5 2622.9L1737.8 2623.0L1740.0 2623.0L1742.3 2623.1L1744.5 2623.1L1746.8 2623.1L1749.0 2623.2L1751.3 2623.2L1753.5 2623.3L1755.8 2623.3L1758.0 2623.3L1760.3 2623.4L1762.5 2623.4L1764.8 2623.5L1767.0 2623.5L1769.3 2623.5L1771.5 2623.6L1773.8 2623.6L1776.0 2623.7L1778.3 2623.7L1780.5 2623.8L1782.8 2623.8L1785.0 2623.9L1787.3 2623.9L1789.5 2623.9L1791.8 2624.0L1794.0 2624.0L1796.3 2624.1L1798.5 2624.1L1800.8 2624.2L1803.0 2624.2L1805.3 2624.3L1807.5 2624.3L1809.8 2624.4L1812.0 2624.4L1814.3 2624.5L1816.5 2624.5L1818.8 2624.6L1821.0 2624.6L1823.3 2624.7L1825.5 2624.7L1827.8 2624.7L1830.0 2624.8L1832.3 2624.8L1834.5 2624.9L1836.8 2624.9L1839.0 2625.0L1841.3 2625.0L1843.5 2625.1L1845.8 2625.1L1848.0 2625.2L1850.3 2625.2L1852.5 2625.3L1854.8 2625.4L1857.0 2625.4L1859.3 2625.5L1861.5 2625.5L1863.8 2625.6L1866.0 2625.6L1868.3 2625.7L1870.5 2625.7L1872.8 2625.8L1875.0 2625.8L1877.3 2625.9L1879.5 2626.0L1881.8 2626.0L1884.0 2626.1L1886.3 2626.1L1888.5 2626.2L1890.8 2626.3L1893.0 2626.3L1895.3 2626.4L1897.5 2626.4L1899.8 2626.5L1902.0 2626.6L1904.3 2626.6L1906.5 2626.7L1908.8 2626.8L1911.0 2626.8L1913.3 2626.9L1915.5 2627.0L1917.8 2627.0L1920.0 2627.1L1922.3 2627.2L1924.5 2627.2L1926.8 2627.3L1929.0 2627.4L1931.3 2627.4L1933.5 2627.5L1935.8 2627.6L1938.0 2627.6L1940.3 2627.7L1942.5 2627.8L1944.8 2627.9L1947.0 2627.9L1949.3 2628.0L1951.5 2628.1L1953.8 2628.1L1956.0 2628.2L1958.3 2628.3L1960.5 2628.4L1962.8 2628.4L1965.0 2628.5" fill="none" stroke="#cc1f2c" stroke-width="4.2" stroke-linejoin="round"/>
<path d="M327.0 2628.5L329.2 2628.5L331.5 2628.5L333.8 2628.5L336.0 2628.5L338.3 2628.5L340.5 2628.4L342.8 2628.4L345.0 2628.4L347.3 2628.4L349.5 2628.4L351.8 2628.4L354.0 2628.4L356.3 2628.4L358.5 2628.4L360.8 2628.4L363.0 2628.3L365.3 2628.3L367.5 2628.3L369.8 2628.3L372.0 2628.3L374.3 2628.3L376.5 2628.3L378.8 2628.3L381.0 2628.3L383.3 2628.2L385.5 2628.2L387.8 2628.2L390.0 2628.2L392.3 2628.2L394.5 2628.2L396.8 2628.2L399.0 2628.2L401.3 2628.2L403.5 2628.1L405.8 2628.1L408.0 2628.1L410.3 2628.1L412.5 2628.1L414.8 2628.1L417.0 2628.1L419.3 2628.1L421.5 2628.1L423.8 2628.0L426.0 2628.0L428.3 2628.0L430.5 2628.0L432.8 2628.0L435.0 2628.0L437.3 2628.0L439.5 2628.0L441.8 2627.9L444.0 2627.9L446.3 2627.9L448.5 2627.9L450.8 2627.9L453.0 2627.9L455.3 2627.9L457.5 2627.9L459.8 2627.8L462.0 2627.8L464.3 2627.8L466.5 2627.8L468.8 2627.8L471.0 2627.8L473.3 2627.8L475.5 2627.7L477.8 2627.7L480.0 2627.7L482.3 2627.7L484.5 2627.7L486.8 2627.7L489.0 2627.7L491.3 2627.7L493.5 2627.6L495.8 2627.6L498.0 2627.6L500.3 2627.6L502.5 2627.6L504.8 2627.6L507.0 2627.6L509.3 2627.5L511.5 2627.5L513.8 2627.5L516.0 2627.5L518.3 2627.5L520.5 2627.5L522.8 2627.5L525.0 2627.4L527.3 2627.4L529.5 2627.4L531.8 2627.4L534.0 2627.4L536.3 2627.4L538.5 2627.3L540.8 2627.3L543.0 2627.3L545.3 2627.3L547.5 2627.3L549.8 2627.3L552.0 2627.3L554.3 2627.2L556.5 2627.2L558.8 2627.2L561.0 2627.2L563.3 2627.2L565.5 2627.2L567.8 2627.2L570.0 2627.1L572.3 2627.1L574.5 2627.1L576.8 2627.1L579.0 2627.1L581.3 2627.1L583.5 2627.0L585.8 2627.0L588.0 2627.0L590.3 2627.0L592.5 2627.0L594.8 2627.0L597.0 2627.0L599.3 2626.9L601.5 2626.9L603.8 2626.9L606.0 2626.9L608.3 2626.9L610.5 2626.9L612.8 2626.8L615.0 2626.8L617.3 2626.8L619.5 2626.8L621.8 2626.8L624.0 2626.8L626.3 2626.8L628.5 2626.7L630.8 2626.7L633.0 2626.7L635.3 2626.7L637.5 2626.7L639.8 2626.7L642.0 2626.6L644.3 2626.6L646.5 2626.6L648.8 2626.6L651.0 2626.6L653.3 2626.6L655.5 2626.6L657.8 2626.5L660.0 2626.5L662.3 2626.5L664.5 2626.5L666.8 2626.5L669.0 2626.5L671.3 2626.4L673.5 2626.4L675.8 2626.4L678.0 2626.4L680.3 2626.4L682.5 2626.4L684.8 2626.3L687.0 2626.3L689.3 2626.3L691.5 2626.3L693.8 2626.3L696.0 2626.3L698.3 2626.2L700.5 2626.2L702.8 2626.2L705.0 2626.2L707.3 2626.2L709.5 2626.1L711.8 2626.1L714.0 2626.1L716.3 2626.1L718.5 2626.1L720.8 2626.0L723.0 2626.0L725.3 2626.0L727.5 2626.0L729.8 2626.0L732.0 2625.9L734.3 2625.9L736.5 2625.9L738.8 2625.9L741.0 2625.8L743.3 2625.8L745.5 2625.8L747.8 2625.8L750.0 2625.7L752.3 2625.7L754.5 2625.7L756.8 2625.7L759.0 2625.6L761.3 2625.6L763.5 2625.6L765.8 2625.6L768.0 2625.5L770.3 2625.5L772.5 2625.5L774.8 2625.4L777.0 2625.4L779.3 2625.4L781.5 2625.3L783.8 2625.3L786.0 2625.3L788.3 2625.2L790.5 2625.2L792.8 2625.1L795.0 2625.1L797.3 2625.1L799.5 2625.0L801.8 2625.0L804.0 2624.9L806.3 2624.9L808.5 2624.8L810.8 2624.8L813.0 2624.7L815.3 2624.7L817.5 2624.6L819.8 2624.5L822.0 2624.5L824.3 2624.4L826.5 2624.4L828.8 2624.3L831.0 2624.2L833.3 2624.2L835.5 2624.1L837.8 2624.0L840.0 2624.0L842.3 2623.9L844.5 2623.8L846.8 2623.7L849.0 2623.7L851.3 2623.6L853.5 2623.5L855.8 2623.4L858.0 2623.4L860.3 2623.3L862.5 2623.2L864.8 2623.1L867.0 2623.0L869.3 2623.0L871.5 2622.9L873.8 2622.8L876.0 2622.7L878.3 2622.6L880.5 2622.5L882.8 2622.5L885.0 2622.4L887.3 2622.3L889.5 2622.2L891.8 2622.1L894.0 2622.0L896.3 2621.9L898.5 2621.8L900.8 2621.7L903.0 2621.6L905.3 2621.6L907.5 2621.5L909.8 2621.4L912.0 2621.3L914.3 2621.2L916.5 2621.1L918.8 2621.0L921.0 2620.9L923.3 2620.8L925.5 2620.7L927.8 2620.6L930.0 2620.4L932.3 2620.3L934.5 2620.2L936.8 2620.1L939.0 2620.0L941.3 2619.9L943.5 2619.7L945.8 2619.6L948.0 2619.5L950.3 2619.3L952.5 2619.2L954.8 2619.1L957.0 2618.9L959.3 2618.8L961.5 2618.7L963.8 2618.5L966.0 2618.4L968.3 2618.2L970.5 2618.1L972.8 2617.9L975.0 2617.8L977.3 2617.6L979.5 2617.4L981.8 2617.3L984.0 2617.1L986.3 2617.0L988.5 2616.8L990.8 2616.6L993.0 2616.4L995.3 2616.3L997.5 2616.1L999.8 2615.9L1002.0 2615.7L1004.3 2615.6L1006.5 2615.4L1008.8 2615.2L1011.0 2615.0L1013.3 2614.9L1015.5 2614.7L1017.8 2614.5L1020.0 2614.3L1022.3 2614.1L1024.5 2613.9L1026.8 2613.7L1029.0 2613.5L1031.3 2613.2L1033.5 2613.0L1035.8 2612.7L1038.0 2612.4L1040.3 2612.1L1042.5 2611.8L1044.8 2611.5L1047.0 2611.2L1049.3 2610.8L1051.5 2610.4L1053.8 2609.9L1056.0 2609.3L1058.3 2608.7L1060.5 2608.0L1062.8 2607.2L1065.0 2606.4L1067.3 2605.5L1069.5 2604.5L1071.8 2603.4L1074.0 2602.3L1076.3 2601.1L1078.5 2599.9L1080.8 2598.6L1083.0 2597.2L1085.3 2595.5L1087.5 2593.6L1089.8 2591.5L1092.0 2589.2L1094.3 2586.7L1096.5 2583.9L1098.8 2580.9L1101.0 2577.7L1103.3 2574.3L1105.5 2570.6L1107.8 2566.8L1110.0 2562.7L1112.3 2556.8L1114.5 2549.5L1116.8 2543.4L1119.0 2540.0L1121.3 2537.2L1123.5 2534.9L1125.8 2532.9L1128.0 2531.1L1130.3 2529.2L1132.5 2527.0L1134.8 2524.6L1137.0 2522.3L1139.3 2519.9L1141.5 2517.3L1143.8 2514.4L1146.0 2510.9L1148.3 2506.4L1150.5 2501.2L1152.8 2495.8L1155.0 2489.9L1157.3 2483.7L1159.5 2477.6L1161.8 2470.7L1164.0 2463.4L1166.3 2458.2L1168.5 2457.5L1170.8 2460.9L1173.0 2466.1L1175.3 2472.0L1177.5 2480.1L1179.8 2488.1L1182.0 2494.5L1184.3 2500.2L1186.5 2505.7L1188.8 2511.3L1191.0 2517.1L1193.3 2523.2L1195.5 2529.0L1197.8 2534.4L1200.0 2539.1L1202.3 2543.4L1204.5 2547.5L1206.8 2551.3L1209.0 2555.0L1211.3 2558.4L1213.5 2561.7L1215.8 2564.9L1218.0 2567.8L1220.3 2570.7L1222.5 2573.4L1224.8 2576.1L1227.0 2578.8L1229.3 2581.3L1231.5 2583.8L1233.8 2586.0L1236.0 2588.1L1238.3 2589.9L1240.5 2591.6L1242.8 2593.2L1245.0 2594.8L1247.3 2596.2L1249.5 2597.6L1251.8 2598.9L1254.0 2600.2L1256.3 2601.3L1258.5 2602.3L1260.8 2603.3L1263.0 2604.2L1265.3 2605.0L1267.5 2605.8L1269.8 2606.6L1272.0 2607.3L1274.3 2607.9L1276.5 2608.6L1278.8 2609.1L1281.0 2609.6L1283.3 2610.1L1285.5 2610.5L1287.8 2610.9L1290.0 2611.3L1292.3 2611.7L1294.5 2612.1L1296.8 2612.5L1299.0 2612.8L1301.3 2613.2L1303.5 2613.5L1305.8 2613.8L1308.0 2614.1L1310.3 2614.4L1312.5 2614.7L1314.8 2614.9L1317.0 2615.2L1319.3 2615.4L1321.5 2615.6L1323.8 2615.8L1326.0 2615.9L1328.3 2616.0L1330.5 2616.2L1332.8 2616.3L1335.0 2616.4L1337.3 2616.5L1339.5 2616.6L1341.8 2616.7L1344.0 2616.7L1346.3 2616.8L1348.5 2616.9L1350.8 2617.0L1353.0 2617.1L1355.3 2617.2L1357.5 2617.3L1359.8 2617.4L1362.0 2617.4L1364.3 2617.5L1366.5 2617.6L1368.8 2617.7L1371.0 2617.7L1373.3 2617.8L1375.5 2617.9L1377.8 2617.9L1380.0 2618.0L1382.3 2618.1L1384.5 2618.1L1386.8 2618.2L1389.0 2618.3L1391.3 2618.3L1393.5 2618.4L1395.8 2618.4L1398.0 2618.5L1400.3 2618.5L1402.5 2618.6L1404.8 2618.6L1407.0 2618.7L1409.3 2618.7L1411.5 2618.8L1413.8 2618.8L1416.0 2618.9L1418.3 2618.9L1420.5 2619.0L1422.8 2619.0L1425.0 2619.1L1427.3 2619.1L1429.5 2619.2L1431.8 2619.2L1434.0 2619.2L1436.3 2619.3L1438.5 2619.3L1440.8 2619.4L1443.0 2619.4L1445.3 2619.4L1447.5 2619.5L1449.8 2619.5L1452.0 2619.5L1454.3 2619.6L1456.5 2619.6L1458.8 2619.6L1461.0 2619.7L1463.3 2619.7L1465.5 2619.7L1467.8 2619.8L1470.0 2619.8L1472.3 2619.8L1474.5 2619.9L1476.8 2619.9L1479.0 2619.9L1481.3 2620.0L1483.5 2620.0L1485.8 2620.0L1488.0 2620.1L1490.3 2620.1L1492.5 2620.1L1494.8 2620.2L1497.0 2620.2L1499.3 2620.2L1501.5 2620.3L1503.8 2620.3L1506.0 2620.3L1508.3 2620.4L1510.5 2620.4L1512.8 2620.4L1515.0 2620.4L1517.3 2620.5L1519.5 2620.5L1521.8 2620.5L1524.0 2620.5L1526.3 2620.6L1528.5 2620.6L1530.8 2620.6L1533.0 2620.7L1535.3 2620.7L1537.5 2620.7L1539.8 2620.7L1542.0 2620.7L1544.3 2620.8L1546.5 2620.8L1548.8 2620.8L1551.0 2620.8L1553.3 2620.9L1555.5 2620.9L1557.8 2620.9L1560.0 2620.9L1562.3 2620.9L1564.5 2621.0L1566.8 2621.0L1569.0 2621.0L1571.3 2621.0L1573.5 2621.0L1575.8 2621.1L1578.0 2621.1L1580.3 2621.1L1582.5 2621.1L1584.8 2621.1L1587.0 2621.2L1589.3 2621.2L1591.5 2621.2L1593.8 2621.2L1596.0 2621.2L1598.3 2621.3L1600.5 2621.3L1602.8 2621.3L1605.0 2621.3L1607.3 2621.3L1609.5 2621.3L1611.8 2621.4L1614.0 2621.4L1616.3 2621.4L1618.5 2621.4L1620.8 2621.4L1623.0 2621.5L1625.3 2621.5L1627.5 2621.5L1629.8 2621.5L1632.0 2621.6L1634.3 2621.6L1636.5 2621.6L1638.8 2621.6L1641.0 2621.6L1643.3 2621.7L1645.5 2621.7L1647.8 2621.7L1650.0 2621.7L1652.3 2621.8L1654.5 2621.8L1656.8 2621.8L1659.0 2621.8L1661.3 2621.9L1663.5 2621.9L1665.8 2621.9L1668.0 2621.9L1670.3 2622.0L1672.5 2622.0L1674.8 2622.0L1677.0 2622.1L1679.3 2622.1L1681.5 2622.1L1683.8 2622.1L1686.0 2622.2L1688.3 2622.2L1690.5 2622.2L1692.8 2622.3L1695.0 2622.3L1697.3 2622.3L1699.5 2622.4L1701.8 2622.4L1704.0 2622.4L1706.3 2622.5L1708.5 2622.5L1710.8 2622.5L1713.0 2622.6L1715.3 2622.6L1717.5 2622.6L1719.8 2622.7L1722.0 2622.7L1724.3 2622.8L1726.5 2622.8L1728.8 2622.8L1731.0 2622.9L1733.3 2622.9L1735.5 2622.9L1737.8 2623.0L1740.0 2623.0L1742.3 2623.1L1744.5 2623.1L1746.8 2623.1L1749.0 2623.2L1751.3 2623.2L1753.5 2623.3L1755.8 2623.3L1758.0 2623.3L1760.3 2623.4L1762.5 2623.4L1764.8 2623.5L1767.0 2623.5L1769.3 2623.5L1771.5 2623.6L1773.8 2623.6L1776.0 2623.7L1778.3 2623.7L1780.5 2623.8L1782.8 2623.8L1785.0 2623.9L1787.3 2623.9L1789.5 2623.9L1791.8 2624.0L1794.0 2624.0L1796.3 2624.1L1798.5 2624.1L1800.8 2624.2L1803.0 2624.2L1805.3 2624.3L1807.5 2624.3L1809.8 2624.4L1812.0 2624.4L1814.3 2624.5L1816.5 2624.5L1818.8 2624.6L1821.0 2624.6L1823.3 2624.7L1825.5 2624.7L1827.8 2624.7L1830.0 2624.8L1832.3 2624.8L1834.5 2624.9L1836.8 2624.9L1839.0 2625.0L1841.3 2625.0L1843.5 2625.1L1845.8 2625.1L1848.0 2625.2L1850.3 2625.2L1852.5 2625.3L1854.8 2625.4L1857.0 2625.4L1859.3 2625.5L1861.5 2625.5L1863.8 2625.6L1866.0 2625.6L1868.3 2625.7L1870.5 2625.7L1872.8 2625.8L1875.0 2625.8L1877.3 2625.9L1879.5 2626.0L1881.8 2626.0L1884.0 2626.1L1886.3 2626.1L1888.5 2626.2L1890.8 2626.3L1893.0 2626.3L1895.3 2626.4L1897.5 2626.4L1899.8 2626.5L1902.0 2626.6L1904.3 2626.6L1906.5 2626.7L1908.8 2626.8L1911.0 2626.8L1913.3 2626.9L1915.5 2627.0L1917.8 2627.0L1920.0 2627.1L1922.3 2627.2L1924.5 2627.2L1926.8 2627.3L1929.0 2627.4L1931.3 2627.4L1933.5 2627.5L1935.8 2627.6L1938.0 2627.6L1940.3 2627.7L1942.5 2627.8L1944.8 2627.9L1947.0 2627.9L1949.3 2628.0L1951.5 2628.1L1953.8 2628.1L1956.0 2628.2L1958.3 2628.3L1960.5 2628.4L1962.8 2628.4L1965.0 2628.5" fill="none" stroke="#cc1f2c" stroke-width="4.2" stroke-linejoin="round"/>
<path d="M1136 45V2627" stroke="#111" stroke-width="4.6" stroke-dasharray="19 12.3" fill="none"/>
<text x="273.5" y="130" font-size="61" letter-spacing="2.6" fill="#1a1a1a">(a)</text>
<text x="284.5" y="215" font-size="55.7" fill="#34349e">Cu: -0.40V, 1.0s</text>
<text x="284.5" y="281" font-size="55.7" fill="#34349e">Co: -1.00V, 0.1s</text>
<path d="M1524 137.8H1642" stroke="#2c2c6e" stroke-width="4.5" fill="none"/>
<path d="M1524 230.4H1634" stroke="#2c2c6e" stroke-width="4.5" stroke-dasharray="15.5 16" fill="none"/>
<text x="1653" y="158.7" font-size="55.9" fill="#1a1a1a">perpendicular</text>
<text x="1653" y="248.3" font-size="55.9" fill="#1a1a1a">in-plane</text>
<text x="273.5" y="771" font-size="61" letter-spacing="2.6" fill="#1a1a1a">(b)</text>
<text x="281.5" y="845" font-size="55.7" fill="#3f9b70">Cu: -0.40V, 1.0s</text>
<text x="281.5" y="912.5" font-size="55.7" fill="#3f9b70">Co: -1.05V, 0.1s</text>
<path d="M1522 785.3H1640" stroke="#2f6e5c" stroke-width="4.5" fill="none"/>
<path d="M1522 875.8H1631" stroke="#2f6e5c" stroke-width="4.5" stroke-dasharray="15.5 16" fill="none"/>
<text x="1651" y="804.7" font-size="55.9" fill="#1a1a1a">perpendicular</text>
<text x="1651" y="894.3" font-size="55.9" fill="#1a1a1a">in-plane</text>
<text x="272.5" y="1420" font-size="61" letter-spacing="2.6" fill="#1a1a1a">(c)</text>
<text x="276" y="1495" font-size="55.7" fill="#d9a45e">Cu: -0.40V, 1.0s</text>
<text x="276" y="1562.5" font-size="55.7" fill="#d9a45e">Co: -1.10V, 0.1s</text>
<path d="M1524 1435.3H1642" stroke="#c9ae6a" stroke-width="4.5" fill="none"/>
<path d="M1524 1525.5H1633" stroke="#c9b07c" stroke-width="4.5" stroke-dasharray="15.5 16" fill="none"/>
<text x="1653" y="1453.2" font-size="55.9" fill="#1a1a1a">perpendicular</text>
<text x="1653" y="1542.8" font-size="55.9" fill="#1a1a1a">in-plane</text>
<text x="273.5" y="2066" font-size="61" letter-spacing="2.6" fill="#1a1a1a">(d)</text>
<text x="283" y="2140" font-size="55.7" fill="#c2343e">Cu: -0.40V, 1.0s</text>
<text x="283" y="2207.5" font-size="55.7" fill="#c2343e">Co: -1.15V, 0.1s</text>
<path d="M1524 2090.8H1645" stroke="#c23040" stroke-width="4.5" fill="none"/>
<path d="M1524 2180.4H1634" stroke="#b83444" stroke-width="4.5" stroke-dasharray="15.5 16" fill="none"/>
<text x="1654" y="2108.7" font-size="55.9" fill="#1a1a1a">perpendicular</text>
<text x="1654" y="2198.3" font-size="55.9" fill="#1a1a1a">in-plane</text>
<text x="237.6" y="2713" font-size="55" text-anchor="middle" fill="#1a1a1a">-10</text>
<text x="418.1" y="2713" font-size="55" text-anchor="middle" fill="#1a1a1a">-8</text>
<text x="598.6" y="2713" font-size="55" text-anchor="middle" fill="#1a1a1a">-6</text>
<text x="779.2" y="2713" font-size="55" text-anchor="middle" fill="#1a1a1a">-4</text>
<text x="959.7" y="2713" font-size="55" text-anchor="middle" fill="#1a1a1a">-2</text>
<text x="1140.2" y="2713" font-size="55" text-anchor="middle" fill="#1a1a1a">0</text>
<text x="1320.7" y="2713" font-size="55" text-anchor="middle" fill="#1a1a1a">2</text>
<text x="1501.2" y="2713" font-size="55" text-anchor="middle" fill="#1a1a1a">4</text>
<text x="1681.8" y="2713" font-size="55" text-anchor="middle" fill="#1a1a1a">6</text>
<text x="1862.3" y="2713" font-size="55" text-anchor="middle" fill="#1a1a1a">8</text>
<text x="2042.8" y="2713" font-size="55" text-anchor="middle" fill="#1a1a1a">10</text>
<text x="1141" y="2800.5" font-size="65.3" text-anchor="middle" fill="#1a1a1a">Magnetic Field, <tspan font-style="italic">H</tspan> / kOe</text>
<text transform="translate(82 1329.5) rotate(-90)" x="0" y="0" font-size="65" text-anchor="middle" fill="#1a1a1a">Magnetoresistance Ratio, <tspan font-style="italic">ΔR</tspan>/<tspan font-style="italic">R</tspan><tspan font-size="42" dy="11">10</tspan><tspan dy="-11"> / %</tspan></text>
</svg></body></html>
